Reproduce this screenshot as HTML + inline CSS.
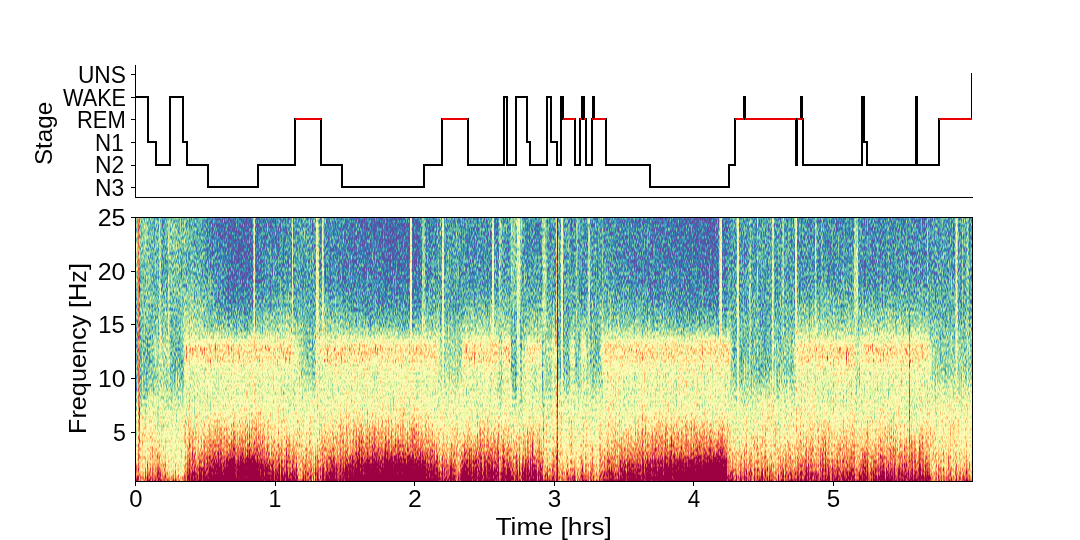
<!DOCTYPE html>
<html><head><meta charset="utf-8"><title>Hypnogram and spectrogram</title>
<style>
html,body{margin:0;padding:0;background:#fff;}
body{width:1080px;height:540px;overflow:hidden;font-family:"Liberation Sans",sans-serif;}
svg{display:block;font-family:"Liberation Sans",sans-serif;font-size:100px;fill:#000;}
</style></head><body>
<svg width="1080" height="540" viewBox="0 0 1080 540">
<rect width="1080" height="540" fill="#fff"/>

<defs><linearGradient id="g0" x2="0" y2="1"><stop offset=".004" stop-color="#4e4c00"/><stop offset=".247" stop-color="#4d5400"/><stop offset=".328" stop-color="#4c5700"/><stop offset=".409" stop-color="#495900"/><stop offset=".539" stop-color="#467200"/><stop offset=".591" stop-color="#477c00"/><stop offset=".652" stop-color="#4e8f00"/><stop offset=".713" stop-color="#5fa700"/><stop offset=".754" stop-color="#6cb700"/><stop offset=".794" stop-color="#72c800"/><stop offset=".855" stop-color="#78e100"/><stop offset=".887" stop-color="#7def00"/><stop offset=".920" stop-color="#86f500"/><stop offset=".944" stop-color="#8ff900"/><stop offset=".968" stop-color="#9bfc00"/><stop offset=".994" stop-color="#b0ff00"/></linearGradient>
<linearGradient id="g1" x2="0" y2="1"><stop offset=".004" stop-color="#a34c00"/><stop offset=".409" stop-color="#a35900"/><stop offset=".591" stop-color="#a37c00"/><stop offset=".713" stop-color="#a3a700"/><stop offset=".904" stop-color="#a4f300"/><stop offset=".968" stop-color="#a5fc00"/><stop offset=".994" stop-color="#b0ff00"/></linearGradient>
<linearGradient id="g2" x2="0" y2="1"><stop offset=".004" stop-color="#4c4c00"/><stop offset=".328" stop-color="#4b5700"/><stop offset=".409" stop-color="#495900"/><stop offset=".539" stop-color="#487207"/><stop offset=".591" stop-color="#497c00"/><stop offset=".652" stop-color="#508f00"/><stop offset=".754" stop-color="#6cb700"/><stop offset=".794" stop-color="#73c800"/><stop offset=".855" stop-color="#7ae100"/><stop offset=".887" stop-color="#7fef00"/><stop offset=".920" stop-color="#88f500"/><stop offset=".944" stop-color="#90f900"/><stop offset=".968" stop-color="#9dfc00"/><stop offset=".994" stop-color="#b1ff00"/></linearGradient>
<linearGradient id="g3" x2="0" y2="1"><stop offset=".004" stop-color="#484c00"/><stop offset=".409" stop-color="#495900"/><stop offset=".462" stop-color="#4a6308"/><stop offset=".482" stop-color="#4b6714"/><stop offset=".539" stop-color="#4b7214"/><stop offset=".591" stop-color="#4c7c00"/><stop offset=".652" stop-color="#538f00"/><stop offset=".754" stop-color="#6eb700"/><stop offset=".855" stop-color="#7ce100"/><stop offset=".887" stop-color="#81ef00"/><stop offset=".920" stop-color="#8bf500"/><stop offset=".944" stop-color="#93f900"/><stop offset=".968" stop-color="#9ffc00"/><stop offset=".994" stop-color="#b2ff00"/></linearGradient>
<linearGradient id="g4" x2="0" y2="1"><stop offset=".004" stop-color="#464c00"/><stop offset=".328" stop-color="#485700"/><stop offset=".409" stop-color="#4a5900"/><stop offset=".437" stop-color="#4a5f00"/><stop offset=".482" stop-color="#4e671e"/><stop offset=".539" stop-color="#4d721e"/><stop offset=".563" stop-color="#4d760c"/><stop offset=".591" stop-color="#4e7c00"/><stop offset=".652" stop-color="#558f00"/><stop offset=".754" stop-color="#6eb700"/><stop offset=".855" stop-color="#7de100"/><stop offset=".887" stop-color="#83ef00"/><stop offset=".920" stop-color="#8cf500"/><stop offset=".944" stop-color="#95f900"/><stop offset=".968" stop-color="#a1fc00"/><stop offset=".994" stop-color="#b3ff00"/></linearGradient>
<linearGradient id="g5" x2="0" y2="1"><stop offset=".004" stop-color="#464c00"/><stop offset=".247" stop-color="#475400"/><stop offset=".409" stop-color="#4a5900"/><stop offset=".437" stop-color="#4b5f00"/><stop offset=".462" stop-color="#4d6310"/><stop offset=".482" stop-color="#4f6727"/><stop offset=".510" stop-color="#506c27"/><stop offset=".539" stop-color="#4f7227"/><stop offset=".563" stop-color="#4e7610"/><stop offset=".591" stop-color="#4f7c00"/><stop offset=".652" stop-color="#568f00"/><stop offset=".754" stop-color="#6eb700"/><stop offset=".855" stop-color="#7ee100"/><stop offset=".887" stop-color="#83ef00"/><stop offset=".920" stop-color="#8df500"/><stop offset=".944" stop-color="#95f900"/><stop offset=".968" stop-color="#a2fc00"/><stop offset=".994" stop-color="#b3ff00"/></linearGradient>
<linearGradient id="g6" x2="0" y2="1"><stop offset=".004" stop-color="#454c00"/><stop offset=".247" stop-color="#465400"/><stop offset=".409" stop-color="#4b5900"/><stop offset=".437" stop-color="#4c5f00"/><stop offset=".462" stop-color="#4e6313"/><stop offset=".482" stop-color="#516730"/><stop offset=".510" stop-color="#526c30"/><stop offset=".539" stop-color="#517230"/><stop offset=".563" stop-color="#507613"/><stop offset=".591" stop-color="#507c00"/><stop offset=".652" stop-color="#568f00"/><stop offset=".754" stop-color="#6fb700"/><stop offset=".855" stop-color="#7ee100"/><stop offset=".887" stop-color="#84ef00"/><stop offset=".920" stop-color="#8ef500"/><stop offset=".944" stop-color="#96f900"/><stop offset=".968" stop-color="#a3fc00"/><stop offset=".994" stop-color="#b4ff00"/></linearGradient>
<linearGradient id="g7" x2="0" y2="1"><stop offset=".004" stop-color="#454c00"/><stop offset=".247" stop-color="#465400"/><stop offset=".409" stop-color="#4b5900"/><stop offset=".437" stop-color="#4d5f00"/><stop offset=".462" stop-color="#4f6316"/><stop offset=".482" stop-color="#536738"/><stop offset=".510" stop-color="#546c38"/><stop offset=".539" stop-color="#537238"/><stop offset=".563" stop-color="#517616"/><stop offset=".591" stop-color="#517c00"/><stop offset=".652" stop-color="#578f00"/><stop offset=".754" stop-color="#6fb700"/><stop offset=".855" stop-color="#7fe100"/><stop offset=".887" stop-color="#85ef00"/><stop offset=".920" stop-color="#8ef500"/><stop offset=".944" stop-color="#97f900"/><stop offset=".968" stop-color="#a3fc00"/><stop offset=".994" stop-color="#b5ff00"/></linearGradient>
<linearGradient id="g8" x2="0" y2="1"><stop offset=".004" stop-color="#444c00"/><stop offset=".247" stop-color="#465400"/><stop offset=".409" stop-color="#4c5900"/><stop offset=".437" stop-color="#4d5f00"/><stop offset=".462" stop-color="#50631a"/><stop offset=".482" stop-color="#556741"/><stop offset=".510" stop-color="#566c41"/><stop offset=".539" stop-color="#547241"/><stop offset=".563" stop-color="#52761a"/><stop offset=".591" stop-color="#527c00"/><stop offset=".652" stop-color="#588f00"/><stop offset=".754" stop-color="#6fb700"/><stop offset=".855" stop-color="#7fe100"/><stop offset=".887" stop-color="#85ef00"/><stop offset=".920" stop-color="#8ff500"/><stop offset=".944" stop-color="#98f900"/><stop offset=".968" stop-color="#a4fc00"/><stop offset=".994" stop-color="#b5ff00"/></linearGradient>
<linearGradient id="g9" x2="0" y2="1"><stop offset=".004" stop-color="#444c00"/><stop offset=".247" stop-color="#455400"/><stop offset=".368" stop-color="#4a5800"/><stop offset=".409" stop-color="#4c5900"/><stop offset=".437" stop-color="#4e5f00"/><stop offset=".462" stop-color="#52631f"/><stop offset=".482" stop-color="#57674d"/><stop offset=".510" stop-color="#596c4d"/><stop offset=".539" stop-color="#57724d"/><stop offset=".563" stop-color="#54761f"/><stop offset=".591" stop-color="#547c00"/><stop offset=".652" stop-color="#598f00"/><stop offset=".754" stop-color="#6fb700"/><stop offset=".855" stop-color="#80e100"/><stop offset=".887" stop-color="#86ef00"/><stop offset=".920" stop-color="#90f500"/><stop offset=".944" stop-color="#99f900"/><stop offset=".968" stop-color="#a5fc00"/><stop offset=".994" stop-color="#b6ff00"/></linearGradient>
<linearGradient id="g10" x2="0" y2="1"><stop offset=".004" stop-color="#434c00"/><stop offset=".247" stop-color="#455400"/><stop offset=".368" stop-color="#4a5800"/><stop offset=".409" stop-color="#4d5900"/><stop offset=".437" stop-color="#4f5f00"/><stop offset=".462" stop-color="#536321"/><stop offset=".482" stop-color="#596753"/><stop offset=".510" stop-color="#5a6c53"/><stop offset=".539" stop-color="#587253"/><stop offset=".563" stop-color="#557621"/><stop offset=".591" stop-color="#557c00"/><stop offset=".652" stop-color="#5a8f00"/><stop offset=".754" stop-color="#6fb700"/><stop offset=".855" stop-color="#80e100"/><stop offset=".887" stop-color="#87ef00"/><stop offset=".920" stop-color="#91f500"/><stop offset=".944" stop-color="#99f900"/><stop offset=".968" stop-color="#a6fc00"/><stop offset=".994" stop-color="#b7ff00"/></linearGradient>
<linearGradient id="g11" x2="0" y2="1"><stop offset=".004" stop-color="#594c00"/><stop offset=".247" stop-color="#595400"/><stop offset=".409" stop-color="#5d5900"/><stop offset=".437" stop-color="#5e5f00"/><stop offset=".462" stop-color="#60630f"/><stop offset=".482" stop-color="#626725"/><stop offset=".510" stop-color="#636c25"/><stop offset=".539" stop-color="#627225"/><stop offset=".563" stop-color="#61760f"/><stop offset=".591" stop-color="#617c00"/><stop offset=".652" stop-color="#628f00"/><stop offset=".713" stop-color="#68a700"/><stop offset=".794" stop-color="#77c800"/><stop offset=".855" stop-color="#81e100"/><stop offset=".887" stop-color="#87ef00"/><stop offset=".920" stop-color="#91f500"/><stop offset=".944" stop-color="#9af900"/><stop offset=".968" stop-color="#a7fc00"/><stop offset=".994" stop-color="#b7ff00"/></linearGradient>
<linearGradient id="g12" x2="0" y2="1"><stop offset=".004" stop-color="#424c00"/><stop offset=".247" stop-color="#445400"/><stop offset=".368" stop-color="#4a5800"/><stop offset=".409" stop-color="#4d5900"/><stop offset=".437" stop-color="#4f5f00"/><stop offset=".462" stop-color="#546324"/><stop offset=".482" stop-color="#5a675b"/><stop offset=".510" stop-color="#5c6c5b"/><stop offset=".539" stop-color="#5a725b"/><stop offset=".563" stop-color="#577624"/><stop offset=".591" stop-color="#567c00"/><stop offset=".652" stop-color="#5a8f00"/><stop offset=".713" stop-color="#66a700"/><stop offset=".754" stop-color="#70b700"/><stop offset=".855" stop-color="#80e100"/><stop offset=".887" stop-color="#86ef00"/><stop offset=".920" stop-color="#8ff500"/><stop offset=".944" stop-color="#98f900"/><stop offset=".968" stop-color="#a5fc00"/><stop offset=".994" stop-color="#b6ff00"/></linearGradient>
<linearGradient id="g13" x2="0" y2="1"><stop offset=".004" stop-color="#424c00"/><stop offset=".247" stop-color="#445400"/><stop offset=".328" stop-color="#485700"/><stop offset=".409" stop-color="#4d5900"/><stop offset=".437" stop-color="#505f00"/><stop offset=".462" stop-color="#546325"/><stop offset=".482" stop-color="#5b675d"/><stop offset=".510" stop-color="#5c6c5d"/><stop offset=".539" stop-color="#5a725d"/><stop offset=".563" stop-color="#577625"/><stop offset=".591" stop-color="#567c00"/><stop offset=".652" stop-color="#5b8f00"/><stop offset=".713" stop-color="#67a700"/><stop offset=".754" stop-color="#70b700"/><stop offset=".855" stop-color="#7ee100"/><stop offset=".887" stop-color="#83ef00"/><stop offset=".920" stop-color="#8cf500"/><stop offset=".944" stop-color="#94f900"/><stop offset=".968" stop-color="#a1fc00"/><stop offset=".994" stop-color="#b3ff00"/></linearGradient>
<linearGradient id="g14" x2="0" y2="1"><stop offset=".004" stop-color="#424c00"/><stop offset=".247" stop-color="#445400"/><stop offset=".328" stop-color="#485700"/><stop offset=".409" stop-color="#4d5900"/><stop offset=".437" stop-color="#505f00"/><stop offset=".462" stop-color="#546326"/><stop offset=".482" stop-color="#5b675f"/><stop offset=".510" stop-color="#5d6c5f"/><stop offset=".539" stop-color="#5b725f"/><stop offset=".563" stop-color="#577626"/><stop offset=".591" stop-color="#577c00"/><stop offset=".652" stop-color="#5b8f00"/><stop offset=".713" stop-color="#67a700"/><stop offset=".754" stop-color="#70b700"/><stop offset=".855" stop-color="#7ce100"/><stop offset=".887" stop-color="#81ef00"/><stop offset=".920" stop-color="#89f500"/><stop offset=".944" stop-color="#91f900"/><stop offset=".968" stop-color="#9efc00"/><stop offset=".994" stop-color="#b1ff00"/></linearGradient>
<linearGradient id="g15" x2="0" y2="1"><stop offset=".004" stop-color="#424c00"/><stop offset=".247" stop-color="#445400"/><stop offset=".328" stop-color="#485700"/><stop offset=".409" stop-color="#4d5900"/><stop offset=".437" stop-color="#505f00"/><stop offset=".462" stop-color="#556327"/><stop offset=".482" stop-color="#5c6761"/><stop offset=".510" stop-color="#5d6c61"/><stop offset=".539" stop-color="#5b7261"/><stop offset=".563" stop-color="#587627"/><stop offset=".591" stop-color="#577c00"/><stop offset=".652" stop-color="#5b8f00"/><stop offset=".713" stop-color="#67a700"/><stop offset=".754" stop-color="#70b700"/><stop offset=".855" stop-color="#7ae100"/><stop offset=".887" stop-color="#7eef00"/><stop offset=".920" stop-color="#86f500"/><stop offset=".944" stop-color="#8df900"/><stop offset=".968" stop-color="#9afc00"/><stop offset=".994" stop-color="#aeff00"/></linearGradient>
<linearGradient id="g16" x2="0" y2="1"><stop offset=".004" stop-color="#424c00"/><stop offset=".247" stop-color="#445400"/><stop offset=".328" stop-color="#485700"/><stop offset=".409" stop-color="#4d5900"/><stop offset=".437" stop-color="#505f00"/><stop offset=".462" stop-color="#556328"/><stop offset=".482" stop-color="#5c6763"/><stop offset=".510" stop-color="#5e6c63"/><stop offset=".539" stop-color="#5c7263"/><stop offset=".563" stop-color="#587628"/><stop offset=".591" stop-color="#577c00"/><stop offset=".652" stop-color="#5b8f00"/><stop offset=".713" stop-color="#67a700"/><stop offset=".754" stop-color="#70b700"/><stop offset=".855" stop-color="#78e100"/><stop offset=".887" stop-color="#7cef00"/><stop offset=".920" stop-color="#83f500"/><stop offset=".944" stop-color="#8af900"/><stop offset=".968" stop-color="#97fc00"/><stop offset=".994" stop-color="#acff00"/></linearGradient>
<linearGradient id="g17" x2="0" y2="1"><stop offset=".004" stop-color="#424c00"/><stop offset=".247" stop-color="#445400"/><stop offset=".328" stop-color="#475700"/><stop offset=".409" stop-color="#4d5900"/><stop offset=".437" stop-color="#505f00"/><stop offset=".462" stop-color="#556329"/><stop offset=".482" stop-color="#5d6765"/><stop offset=".510" stop-color="#5e6c65"/><stop offset=".539" stop-color="#5c7265"/><stop offset=".563" stop-color="#597629"/><stop offset=".591" stop-color="#587c00"/><stop offset=".652" stop-color="#5c8f00"/><stop offset=".713" stop-color="#67a700"/><stop offset=".754" stop-color="#70b700"/><stop offset=".887" stop-color="#7aef00"/><stop offset=".920" stop-color="#80f500"/><stop offset=".944" stop-color="#86f900"/><stop offset=".968" stop-color="#93fc00"/><stop offset=".994" stop-color="#a9ff00"/></linearGradient>
<linearGradient id="g18" x2="0" y2="1"><stop offset=".004" stop-color="#434c00"/><stop offset=".247" stop-color="#455400"/><stop offset=".368" stop-color="#4a5800"/><stop offset=".409" stop-color="#4d5900"/><stop offset=".437" stop-color="#4f5f00"/><stop offset=".462" stop-color="#536323"/><stop offset=".482" stop-color="#5a6758"/><stop offset=".510" stop-color="#5b6c58"/><stop offset=".539" stop-color="#597258"/><stop offset=".563" stop-color="#567623"/><stop offset=".591" stop-color="#567c00"/><stop offset=".652" stop-color="#5a8f00"/><stop offset=".713" stop-color="#66a700"/><stop offset=".754" stop-color="#6fb700"/><stop offset=".827" stop-color="#74d500"/><stop offset=".887" stop-color="#78ef00"/><stop offset=".920" stop-color="#7ef500"/><stop offset=".944" stop-color="#84f900"/><stop offset=".968" stop-color="#91fc00"/><stop offset=".994" stop-color="#a7ff00"/></linearGradient>
<linearGradient id="g19" x2="0" y2="1"><stop offset=".004" stop-color="#5d4c00"/><stop offset=".328" stop-color="#5f5700"/><stop offset=".409" stop-color="#605900"/><stop offset=".462" stop-color="#616308"/><stop offset=".482" stop-color="#636715"/><stop offset=".539" stop-color="#637215"/><stop offset=".591" stop-color="#627c00"/><stop offset=".652" stop-color="#638f00"/><stop offset=".713" stop-color="#68a700"/><stop offset=".754" stop-color="#6fb700"/><stop offset=".827" stop-color="#73d500"/><stop offset=".887" stop-color="#76ef00"/><stop offset=".920" stop-color="#7cf500"/><stop offset=".944" stop-color="#82f900"/><stop offset=".968" stop-color="#8efc00"/><stop offset=".994" stop-color="#a6ff00"/></linearGradient>
<linearGradient id="g20" x2="0" y2="1"><stop offset=".004" stop-color="#524c00"/><stop offset=".328" stop-color="#545700"/><stop offset=".409" stop-color="#555900"/><stop offset=".437" stop-color="#565f00"/><stop offset=".482" stop-color="#59671d"/><stop offset=".539" stop-color="#59721d"/><stop offset=".591" stop-color="#587c00"/><stop offset=".652" stop-color="#5c8f00"/><stop offset=".713" stop-color="#66a700"/><stop offset=".754" stop-color="#6eb700"/><stop offset=".794" stop-color="#70c800"/><stop offset=".855" stop-color="#72e100"/><stop offset=".887" stop-color="#73ef00"/><stop offset=".920" stop-color="#79f500"/><stop offset=".944" stop-color="#7ff900"/><stop offset=".968" stop-color="#8cfc00"/><stop offset=".994" stop-color="#a4ff00"/></linearGradient>
<linearGradient id="g21" x2="0" y2="1"><stop offset=".004" stop-color="#494c00"/><stop offset=".368" stop-color="#495800"/><stop offset=".409" stop-color="#495900"/><stop offset=".539" stop-color="#49720b"/><stop offset=".591" stop-color="#4a7c00"/><stop offset=".652" stop-color="#518f00"/><stop offset=".754" stop-color="#6db700"/><stop offset=".794" stop-color="#6fc800"/><stop offset=".887" stop-color="#70ef00"/><stop offset=".920" stop-color="#76f500"/><stop offset=".944" stop-color="#7bf900"/><stop offset=".968" stop-color="#88fc00"/><stop offset=".994" stop-color="#a1ff00"/></linearGradient>
<linearGradient id="g22" x2="0" y2="1"><stop offset=".004" stop-color="#4a4c00"/><stop offset=".328" stop-color="#4a5700"/><stop offset=".409" stop-color="#485900"/><stop offset=".539" stop-color="#477200"/><stop offset=".591" stop-color="#497c00"/><stop offset=".652" stop-color="#518f00"/><stop offset=".754" stop-color="#6db700"/><stop offset=".794" stop-color="#6fc800"/><stop offset=".887" stop-color="#70ef00"/><stop offset=".920" stop-color="#75f500"/><stop offset=".944" stop-color="#7bf900"/><stop offset=".968" stop-color="#87fc00"/><stop offset=".994" stop-color="#a0ff00"/></linearGradient>
<linearGradient id="g23" x2="0" y2="1"><stop offset=".004" stop-color="#494c00"/><stop offset=".368" stop-color="#495800"/><stop offset=".409" stop-color="#485900"/><stop offset=".539" stop-color="#477200"/><stop offset=".591" stop-color="#497c00"/><stop offset=".652" stop-color="#518f00"/><stop offset=".754" stop-color="#6db700"/><stop offset=".794" stop-color="#6fc800"/><stop offset=".887" stop-color="#70ef00"/><stop offset=".920" stop-color="#76f500"/><stop offset=".944" stop-color="#7bf900"/><stop offset=".968" stop-color="#87fc00"/><stop offset=".994" stop-color="#a0ff00"/></linearGradient>
<linearGradient id="g24" x2="0" y2="1"><stop offset=".004" stop-color="#484c00"/><stop offset=".247" stop-color="#4a5400"/><stop offset=".409" stop-color="#4f5900"/><stop offset=".437" stop-color="#4f5f00"/><stop offset=".462" stop-color="#52631f"/><stop offset=".482" stop-color="#57674d"/><stop offset=".510" stop-color="#596c4d"/><stop offset=".539" stop-color="#57724d"/><stop offset=".563" stop-color="#54761f"/><stop offset=".591" stop-color="#547c00"/><stop offset=".652" stop-color="#598f00"/><stop offset=".754" stop-color="#6fb700"/><stop offset=".887" stop-color="#7bef00"/><stop offset=".920" stop-color="#83f500"/><stop offset=".944" stop-color="#89f900"/><stop offset=".968" stop-color="#96fc00"/><stop offset=".994" stop-color="#abff00"/></linearGradient>
<linearGradient id="g25" x2="0" y2="1"><stop offset=".004" stop-color="#484c00"/><stop offset=".247" stop-color="#4b5400"/><stop offset=".368" stop-color="#555800"/><stop offset=".409" stop-color="#575900"/><stop offset=".437" stop-color="#595f00"/><stop offset=".462" stop-color="#606348"/><stop offset=".482" stop-color="#6d67b3"/><stop offset=".510" stop-color="#706cb3"/><stop offset=".539" stop-color="#6c72b3"/><stop offset=".563" stop-color="#657648"/><stop offset=".591" stop-color="#637c00"/><stop offset=".652" stop-color="#638f00"/><stop offset=".713" stop-color="#6aa700"/><stop offset=".855" stop-color="#83e100"/><stop offset=".887" stop-color="#8aef00"/><stop offset=".920" stop-color="#93f500"/><stop offset=".944" stop-color="#9cf900"/><stop offset=".968" stop-color="#a9fc00"/><stop offset=".994" stop-color="#baff00"/></linearGradient>
<linearGradient id="g26" x2="0" y2="1"><stop offset=".004" stop-color="#474c00"/><stop offset=".125" stop-color="#485000"/><stop offset=".247" stop-color="#4b5400"/><stop offset=".368" stop-color="#5a5800"/><stop offset=".409" stop-color="#5d5900"/><stop offset=".437" stop-color="#605f00"/><stop offset=".462" stop-color="#6a6366"/><stop offset=".482" stop-color="#7d67fe"/><stop offset=".510" stop-color="#826cfe"/><stop offset=".539" stop-color="#7c72fe"/><stop offset=".563" stop-color="#727666"/><stop offset=".591" stop-color="#6d7c00"/><stop offset=".652" stop-color="#6a8f00"/><stop offset=".713" stop-color="#6da700"/><stop offset=".754" stop-color="#74b700"/><stop offset=".855" stop-color="#8ce100"/><stop offset=".904" stop-color="#9bf300"/><stop offset=".944" stop-color="#aaf900"/><stop offset=".968" stop-color="#b9fc00"/><stop offset=".994" stop-color="#c5ff00"/></linearGradient>
<linearGradient id="g27" x2="0" y2="1"><stop offset=".004" stop-color="#454c00"/><stop offset=".125" stop-color="#465000"/><stop offset=".247" stop-color="#4a5400"/><stop offset=".368" stop-color="#585800"/><stop offset=".409" stop-color="#5c5900"/><stop offset=".437" stop-color="#605f00"/><stop offset=".462" stop-color="#6a6365"/><stop offset=".482" stop-color="#7d67fc"/><stop offset=".510" stop-color="#826cfc"/><stop offset=".539" stop-color="#7c72fc"/><stop offset=".563" stop-color="#727665"/><stop offset=".591" stop-color="#6d7c00"/><stop offset=".652" stop-color="#6a8f00"/><stop offset=".713" stop-color="#6ea700"/><stop offset=".754" stop-color="#74b700"/><stop offset=".855" stop-color="#8de100"/><stop offset=".904" stop-color="#9cf300"/><stop offset=".944" stop-color="#acf900"/><stop offset=".968" stop-color="#bafc00"/><stop offset=".994" stop-color="#c7ff00"/></linearGradient>
<linearGradient id="g28" x2="0" y2="1"><stop offset=".004" stop-color="#434c00"/><stop offset=".125" stop-color="#455000"/><stop offset=".247" stop-color="#485400"/><stop offset=".409" stop-color="#5a5900"/><stop offset=".437" stop-color="#5f5f00"/><stop offset=".462" stop-color="#6a6364"/><stop offset=".482" stop-color="#7d67fa"/><stop offset=".510" stop-color="#826cfa"/><stop offset=".539" stop-color="#7c72fa"/><stop offset=".563" stop-color="#727664"/><stop offset=".591" stop-color="#6e7c00"/><stop offset=".652" stop-color="#6a8f00"/><stop offset=".713" stop-color="#6ea700"/><stop offset=".754" stop-color="#75b700"/><stop offset=".855" stop-color="#8de100"/><stop offset=".887" stop-color="#97ef00"/><stop offset=".920" stop-color="#a4f500"/><stop offset=".944" stop-color="#aef900"/><stop offset=".968" stop-color="#bcfc00"/><stop offset=".994" stop-color="#c8ff00"/></linearGradient>
<linearGradient id="g29" x2="0" y2="1"><stop offset=".004" stop-color="#424c00"/><stop offset=".125" stop-color="#435000"/><stop offset=".247" stop-color="#465400"/><stop offset=".409" stop-color="#595900"/><stop offset=".437" stop-color="#5f5f00"/><stop offset=".462" stop-color="#6a6363"/><stop offset=".482" stop-color="#7d67f8"/><stop offset=".510" stop-color="#826cf8"/><stop offset=".539" stop-color="#7c72f8"/><stop offset=".563" stop-color="#727663"/><stop offset=".591" stop-color="#6e7c00"/><stop offset=".652" stop-color="#6a8f00"/><stop offset=".713" stop-color="#6ea700"/><stop offset=".754" stop-color="#75b700"/><stop offset=".855" stop-color="#8ee100"/><stop offset=".887" stop-color="#98ef00"/><stop offset=".920" stop-color="#a5f500"/><stop offset=".944" stop-color="#b0f900"/><stop offset=".968" stop-color="#befc00"/><stop offset=".994" stop-color="#caff00"/></linearGradient>
<linearGradient id="g30" x2="0" y2="1"><stop offset=".004" stop-color="#404c00"/><stop offset=".125" stop-color="#415000"/><stop offset=".247" stop-color="#455400"/><stop offset=".328" stop-color="#4d5700"/><stop offset=".409" stop-color="#585900"/><stop offset=".437" stop-color="#5e5f00"/><stop offset=".462" stop-color="#6a6362"/><stop offset=".482" stop-color="#7d67f6"/><stop offset=".510" stop-color="#826cf6"/><stop offset=".539" stop-color="#7c72f6"/><stop offset=".563" stop-color="#727662"/><stop offset=".591" stop-color="#6e7c00"/><stop offset=".652" stop-color="#6b8f00"/><stop offset=".713" stop-color="#6ea700"/><stop offset=".754" stop-color="#75b700"/><stop offset=".855" stop-color="#8fe100"/><stop offset=".887" stop-color="#99ef00"/><stop offset=".904" stop-color="#a0f300"/><stop offset=".944" stop-color="#b3f900"/><stop offset=".968" stop-color="#c0fc00"/><stop offset=".994" stop-color="#ccff00"/></linearGradient>
<linearGradient id="g31" x2="0" y2="1"><stop offset=".004" stop-color="#3e4c00"/><stop offset=".125" stop-color="#405000"/><stop offset=".247" stop-color="#435400"/><stop offset=".328" stop-color="#4b5700"/><stop offset=".409" stop-color="#575900"/><stop offset=".437" stop-color="#5d5f00"/><stop offset=".462" stop-color="#6a6361"/><stop offset=".482" stop-color="#7d67f3"/><stop offset=".510" stop-color="#826cf3"/><stop offset=".539" stop-color="#7c72f3"/><stop offset=".563" stop-color="#737661"/><stop offset=".591" stop-color="#6e7c00"/><stop offset=".652" stop-color="#6b8f00"/><stop offset=".713" stop-color="#6ea700"/><stop offset=".754" stop-color="#76b700"/><stop offset=".855" stop-color="#90e100"/><stop offset=".887" stop-color="#9aef00"/><stop offset=".904" stop-color="#a1f300"/><stop offset=".968" stop-color="#c2fc00"/><stop offset=".994" stop-color="#ceff00"/></linearGradient>
<linearGradient id="g32" x2="0" y2="1"><stop offset=".004" stop-color="#3c4c00"/><stop offset=".125" stop-color="#3e5000"/><stop offset=".247" stop-color="#415400"/><stop offset=".328" stop-color="#495700"/><stop offset=".409" stop-color="#555900"/><stop offset=".437" stop-color="#5d5f00"/><stop offset=".462" stop-color="#6a6360"/><stop offset=".482" stop-color="#7d67f0"/><stop offset=".510" stop-color="#826cf0"/><stop offset=".539" stop-color="#7c72f0"/><stop offset=".563" stop-color="#737660"/><stop offset=".591" stop-color="#6e7c00"/><stop offset=".652" stop-color="#6b8f00"/><stop offset=".713" stop-color="#6ea700"/><stop offset=".754" stop-color="#76b700"/><stop offset=".855" stop-color="#91e100"/><stop offset=".887" stop-color="#9bef00"/><stop offset=".904" stop-color="#a3f300"/><stop offset=".968" stop-color="#c5fc00"/><stop offset=".994" stop-color="#d0ff00"/></linearGradient>
<linearGradient id="g33" x2="0" y2="1"><stop offset=".004" stop-color="#3a4c00"/><stop offset=".125" stop-color="#3c5000"/><stop offset=".247" stop-color="#3f5400"/><stop offset=".328" stop-color="#485700"/><stop offset=".409" stop-color="#545900"/><stop offset=".437" stop-color="#5c5f00"/><stop offset=".462" stop-color="#6a635f"/><stop offset=".482" stop-color="#7d67ed"/><stop offset=".510" stop-color="#826ced"/><stop offset=".539" stop-color="#7c72ed"/><stop offset=".563" stop-color="#73765f"/><stop offset=".591" stop-color="#6e7c00"/><stop offset=".652" stop-color="#6b8f00"/><stop offset=".713" stop-color="#6ea700"/><stop offset=".754" stop-color="#76b700"/><stop offset=".855" stop-color="#92e100"/><stop offset=".887" stop-color="#9def00"/><stop offset=".904" stop-color="#a4f300"/><stop offset=".920" stop-color="#aef500"/><stop offset=".968" stop-color="#c7fc00"/><stop offset=".994" stop-color="#d2ff00"/></linearGradient>
<linearGradient id="g34" x2="0" y2="1"><stop offset=".004" stop-color="#394c00"/><stop offset=".125" stop-color="#3a5000"/><stop offset=".247" stop-color="#3d5400"/><stop offset=".328" stop-color="#465700"/><stop offset=".409" stop-color="#535900"/><stop offset=".437" stop-color="#5b5f00"/><stop offset=".462" stop-color="#6a635e"/><stop offset=".482" stop-color="#7d67ea"/><stop offset=".510" stop-color="#826cea"/><stop offset=".539" stop-color="#7c72ea"/><stop offset=".563" stop-color="#73765e"/><stop offset=".591" stop-color="#6e7c00"/><stop offset=".652" stop-color="#6b8f00"/><stop offset=".713" stop-color="#6fa700"/><stop offset=".754" stop-color="#77b700"/><stop offset=".855" stop-color="#93e100"/><stop offset=".887" stop-color="#9eef00"/><stop offset=".904" stop-color="#a6f300"/><stop offset=".920" stop-color="#b0f500"/><stop offset=".968" stop-color="#cafc00"/><stop offset=".994" stop-color="#d4ff00"/></linearGradient>
<linearGradient id="g35" x2="0" y2="1"><stop offset=".004" stop-color="#374c00"/><stop offset=".125" stop-color="#385000"/><stop offset=".247" stop-color="#3b5400"/><stop offset=".328" stop-color="#445700"/><stop offset=".409" stop-color="#515900"/><stop offset=".437" stop-color="#5b5f00"/><stop offset=".462" stop-color="#6a635d"/><stop offset=".482" stop-color="#7d67e8"/><stop offset=".510" stop-color="#826ce8"/><stop offset=".539" stop-color="#7c72e8"/><stop offset=".563" stop-color="#73765d"/><stop offset=".591" stop-color="#6e7c00"/><stop offset=".652" stop-color="#6b8f00"/><stop offset=".713" stop-color="#6fa700"/><stop offset=".754" stop-color="#77b700"/><stop offset=".855" stop-color="#94e100"/><stop offset=".887" stop-color="#9fef00"/><stop offset=".904" stop-color="#a7f300"/><stop offset=".920" stop-color="#b2f500"/><stop offset=".944" stop-color="#c0f900"/><stop offset=".968" stop-color="#ccfc00"/><stop offset=".994" stop-color="#d6ff00"/></linearGradient>
<linearGradient id="g36" x2="0" y2="1"><stop offset=".004" stop-color="#354c00"/><stop offset=".125" stop-color="#365000"/><stop offset=".247" stop-color="#395400"/><stop offset=".328" stop-color="#415700"/><stop offset=".368" stop-color="#485800"/><stop offset=".409" stop-color="#505900"/><stop offset=".437" stop-color="#5a5f00"/><stop offset=".462" stop-color="#69635a"/><stop offset=".482" stop-color="#7d67e2"/><stop offset=".510" stop-color="#826ce2"/><stop offset=".539" stop-color="#7c72e2"/><stop offset=".563" stop-color="#73765a"/><stop offset=".591" stop-color="#6e7c00"/><stop offset=".652" stop-color="#6b8f00"/><stop offset=".713" stop-color="#6fa700"/><stop offset=".754" stop-color="#78b700"/><stop offset=".855" stop-color="#95e100"/><stop offset=".887" stop-color="#a0ef00"/><stop offset=".904" stop-color="#a9f300"/><stop offset=".920" stop-color="#b4f500"/><stop offset=".944" stop-color="#c3f900"/><stop offset=".968" stop-color="#cefc00"/><stop offset=".994" stop-color="#d9ff00"/></linearGradient>
<linearGradient id="g37" x2="0" y2="1"><stop offset=".004" stop-color="#334c00"/><stop offset=".125" stop-color="#355000"/><stop offset=".247" stop-color="#385400"/><stop offset=".328" stop-color="#405700"/><stop offset=".368" stop-color="#465800"/><stop offset=".409" stop-color="#4f5900"/><stop offset=".437" stop-color="#5a5f00"/><stop offset=".462" stop-color="#696351"/><stop offset=".482" stop-color="#7d67cc"/><stop offset=".510" stop-color="#826ccc"/><stop offset=".539" stop-color="#7c72cc"/><stop offset=".563" stop-color="#737651"/><stop offset=".591" stop-color="#6e7c00"/><stop offset=".652" stop-color="#6b8f00"/><stop offset=".713" stop-color="#6fa700"/><stop offset=".754" stop-color="#78b700"/><stop offset=".855" stop-color="#96e100"/><stop offset=".887" stop-color="#a1ef00"/><stop offset=".904" stop-color="#aaf300"/><stop offset=".920" stop-color="#b6f500"/><stop offset=".944" stop-color="#c4f900"/><stop offset=".968" stop-color="#d0fc00"/><stop offset=".994" stop-color="#daff00"/></linearGradient>
<linearGradient id="g38" x2="0" y2="1"><stop offset=".004" stop-color="#324c00"/><stop offset=".125" stop-color="#345000"/><stop offset=".247" stop-color="#375400"/><stop offset=".328" stop-color="#3f5700"/><stop offset=".368" stop-color="#465800"/><stop offset=".409" stop-color="#4e5900"/><stop offset=".437" stop-color="#595f00"/><stop offset=".462" stop-color="#69634b"/><stop offset=".482" stop-color="#7d67bb"/><stop offset=".510" stop-color="#826cbb"/><stop offset=".539" stop-color="#7c72bb"/><stop offset=".563" stop-color="#73764b"/><stop offset=".591" stop-color="#6e7c00"/><stop offset=".652" stop-color="#6b8f00"/><stop offset=".713" stop-color="#6fa700"/><stop offset=".754" stop-color="#78b700"/><stop offset=".855" stop-color="#96e100"/><stop offset=".887" stop-color="#a1ef00"/><stop offset=".904" stop-color="#aaf300"/><stop offset=".920" stop-color="#b6f500"/><stop offset=".944" stop-color="#c5f900"/><stop offset=".968" stop-color="#d1fc00"/><stop offset=".994" stop-color="#dbff00"/></linearGradient>
<linearGradient id="g39" x2="0" y2="1"><stop offset=".004" stop-color="#324c00"/><stop offset=".125" stop-color="#335000"/><stop offset=".247" stop-color="#375400"/><stop offset=".328" stop-color="#3e5700"/><stop offset=".368" stop-color="#455800"/><stop offset=".409" stop-color="#4e5900"/><stop offset=".437" stop-color="#595f00"/><stop offset=".462" stop-color="#696344"/><stop offset=".482" stop-color="#7d67ab"/><stop offset=".510" stop-color="#826cab"/><stop offset=".539" stop-color="#7c72ab"/><stop offset=".563" stop-color="#737644"/><stop offset=".591" stop-color="#6e7c00"/><stop offset=".652" stop-color="#6b8f00"/><stop offset=".713" stop-color="#6fa700"/><stop offset=".754" stop-color="#78b700"/><stop offset=".855" stop-color="#96e100"/><stop offset=".887" stop-color="#a2ef00"/><stop offset=".904" stop-color="#abf300"/><stop offset=".920" stop-color="#b7f500"/><stop offset=".944" stop-color="#c6f900"/><stop offset=".968" stop-color="#d1fc00"/><stop offset=".994" stop-color="#dbff00"/></linearGradient>
<linearGradient id="g40" x2="0" y2="1"><stop offset=".004" stop-color="#314c00"/><stop offset=".125" stop-color="#335000"/><stop offset=".247" stop-color="#365400"/><stop offset=".328" stop-color="#3d5700"/><stop offset=".368" stop-color="#445800"/><stop offset=".409" stop-color="#4d5900"/><stop offset=".437" stop-color="#595f00"/><stop offset=".462" stop-color="#69633e"/><stop offset=".482" stop-color="#7d679b"/><stop offset=".510" stop-color="#826c9b"/><stop offset=".539" stop-color="#7c729b"/><stop offset=".563" stop-color="#73763e"/><stop offset=".591" stop-color="#6e7c00"/><stop offset=".652" stop-color="#6b8f00"/><stop offset=".713" stop-color="#6fa700"/><stop offset=".754" stop-color="#78b700"/><stop offset=".855" stop-color="#97e100"/><stop offset=".887" stop-color="#a2ef00"/><stop offset=".904" stop-color="#abf300"/><stop offset=".920" stop-color="#b8f500"/><stop offset=".944" stop-color="#c7f900"/><stop offset=".968" stop-color="#d2fc00"/><stop offset=".994" stop-color="#dcff00"/></linearGradient>
<linearGradient id="g41" x2="0" y2="1"><stop offset=".004" stop-color="#314c00"/><stop offset=".125" stop-color="#325000"/><stop offset=".247" stop-color="#365400"/><stop offset=".328" stop-color="#3d5700"/><stop offset=".368" stop-color="#445800"/><stop offset=".409" stop-color="#4d5900"/><stop offset=".437" stop-color="#595f00"/><stop offset=".462" stop-color="#696338"/><stop offset=".482" stop-color="#7d678b"/><stop offset=".510" stop-color="#826c8b"/><stop offset=".539" stop-color="#7c728b"/><stop offset=".563" stop-color="#737638"/><stop offset=".591" stop-color="#6e7c00"/><stop offset=".652" stop-color="#6b8f00"/><stop offset=".713" stop-color="#6fa700"/><stop offset=".754" stop-color="#79b700"/><stop offset=".855" stop-color="#97e100"/><stop offset=".887" stop-color="#a3ef00"/><stop offset=".904" stop-color="#acf300"/><stop offset=".920" stop-color="#b9f500"/><stop offset=".944" stop-color="#c8f900"/><stop offset=".968" stop-color="#d3fc00"/><stop offset=".994" stop-color="#ddff00"/></linearGradient>
<linearGradient id="g42" x2="0" y2="1"><stop offset=".004" stop-color="#314c00"/><stop offset=".125" stop-color="#325000"/><stop offset=".247" stop-color="#355400"/><stop offset=".328" stop-color="#3d5700"/><stop offset=".368" stop-color="#445800"/><stop offset=".409" stop-color="#4d5900"/><stop offset=".437" stop-color="#595f00"/><stop offset=".462" stop-color="#696331"/><stop offset=".482" stop-color="#7d677b"/><stop offset=".510" stop-color="#826c7b"/><stop offset=".539" stop-color="#7c727b"/><stop offset=".563" stop-color="#737631"/><stop offset=".591" stop-color="#6e7c00"/><stop offset=".652" stop-color="#6b8f00"/><stop offset=".713" stop-color="#6fa700"/><stop offset=".754" stop-color="#79b700"/><stop offset=".855" stop-color="#98e100"/><stop offset=".887" stop-color="#a3ef00"/><stop offset=".904" stop-color="#acf300"/><stop offset=".920" stop-color="#b9f500"/><stop offset=".944" stop-color="#c9f900"/><stop offset=".968" stop-color="#d4fc00"/><stop offset=".994" stop-color="#deff00"/></linearGradient>
<linearGradient id="g43" x2="0" y2="1"><stop offset=".004" stop-color="#304c00"/><stop offset=".125" stop-color="#325000"/><stop offset=".247" stop-color="#355400"/><stop offset=".328" stop-color="#3c5700"/><stop offset=".368" stop-color="#435800"/><stop offset=".409" stop-color="#4c5900"/><stop offset=".437" stop-color="#585f00"/><stop offset=".462" stop-color="#696329"/><stop offset=".482" stop-color="#7d6767"/><stop offset=".510" stop-color="#826c67"/><stop offset=".539" stop-color="#7c7267"/><stop offset=".563" stop-color="#737629"/><stop offset=".591" stop-color="#6e7c00"/><stop offset=".652" stop-color="#6b8f00"/><stop offset=".713" stop-color="#70a700"/><stop offset=".754" stop-color="#79b700"/><stop offset=".855" stop-color="#98e100"/><stop offset=".887" stop-color="#a4ef00"/><stop offset=".904" stop-color="#adf300"/><stop offset=".920" stop-color="#bbf500"/><stop offset=".944" stop-color="#cbf900"/><stop offset=".968" stop-color="#d6fc00"/><stop offset=".994" stop-color="#dfff00"/></linearGradient>
<linearGradient id="g44" x2="0" y2="1"><stop offset=".004" stop-color="#304c00"/><stop offset=".125" stop-color="#315000"/><stop offset=".247" stop-color="#345400"/><stop offset=".328" stop-color="#3c5700"/><stop offset=".368" stop-color="#425800"/><stop offset=".409" stop-color="#4b5900"/><stop offset=".437" stop-color="#585f00"/><stop offset=".462" stop-color="#696327"/><stop offset=".482" stop-color="#7d6762"/><stop offset=".510" stop-color="#826c62"/><stop offset=".539" stop-color="#7c7262"/><stop offset=".563" stop-color="#737627"/><stop offset=".591" stop-color="#6f7c00"/><stop offset=".652" stop-color="#6b8f00"/><stop offset=".713" stop-color="#70a700"/><stop offset=".754" stop-color="#79b700"/><stop offset=".855" stop-color="#99e100"/><stop offset=".887" stop-color="#a5ef00"/><stop offset=".904" stop-color="#aef300"/><stop offset=".920" stop-color="#bcf500"/><stop offset=".944" stop-color="#cdf900"/><stop offset=".968" stop-color="#d8fc00"/><stop offset=".994" stop-color="#e1ff00"/></linearGradient>
<linearGradient id="g45" x2="0" y2="1"><stop offset=".004" stop-color="#2f4c00"/><stop offset=".125" stop-color="#315000"/><stop offset=".247" stop-color="#345400"/><stop offset=".328" stop-color="#3b5700"/><stop offset=".368" stop-color="#425800"/><stop offset=".409" stop-color="#4b5900"/><stop offset=".437" stop-color="#585f00"/><stop offset=".462" stop-color="#696327"/><stop offset=".482" stop-color="#7d6761"/><stop offset=".510" stop-color="#826c61"/><stop offset=".539" stop-color="#7c7261"/><stop offset=".563" stop-color="#737627"/><stop offset=".591" stop-color="#6f7c00"/><stop offset=".652" stop-color="#6b8f00"/><stop offset=".713" stop-color="#70a700"/><stop offset=".754" stop-color="#7ab700"/><stop offset=".855" stop-color="#9ae100"/><stop offset=".887" stop-color="#a6ef00"/><stop offset=".904" stop-color="#b0f300"/><stop offset=".920" stop-color="#bef500"/><stop offset=".944" stop-color="#cff900"/><stop offset=".968" stop-color="#dafc00"/><stop offset=".994" stop-color="#e3ff00"/></linearGradient>
<linearGradient id="g46" x2="0" y2="1"><stop offset=".004" stop-color="#2f4c00"/><stop offset=".125" stop-color="#305000"/><stop offset=".247" stop-color="#335400"/><stop offset=".328" stop-color="#3a5700"/><stop offset=".368" stop-color="#415800"/><stop offset=".409" stop-color="#4a5900"/><stop offset=".437" stop-color="#575f00"/><stop offset=".462" stop-color="#696326"/><stop offset=".482" stop-color="#7d6760"/><stop offset=".510" stop-color="#826c60"/><stop offset=".539" stop-color="#7c7260"/><stop offset=".563" stop-color="#737626"/><stop offset=".591" stop-color="#6f7c00"/><stop offset=".652" stop-color="#6c8f00"/><stop offset=".713" stop-color="#70a700"/><stop offset=".754" stop-color="#7ab700"/><stop offset=".855" stop-color="#9be100"/><stop offset=".887" stop-color="#a7ef00"/><stop offset=".904" stop-color="#b1f300"/><stop offset=".920" stop-color="#c0f500"/><stop offset=".944" stop-color="#d1f900"/><stop offset=".968" stop-color="#dcfc00"/><stop offset=".994" stop-color="#e4ff00"/></linearGradient>
<linearGradient id="g47" x2="0" y2="1"><stop offset=".004" stop-color="#2e4c00"/><stop offset=".125" stop-color="#305000"/><stop offset=".247" stop-color="#335400"/><stop offset=".328" stop-color="#3a5700"/><stop offset=".368" stop-color="#405800"/><stop offset=".409" stop-color="#4a5900"/><stop offset=".437" stop-color="#575f00"/><stop offset=".462" stop-color="#696326"/><stop offset=".482" stop-color="#7d675f"/><stop offset=".510" stop-color="#826c5f"/><stop offset=".539" stop-color="#7c725f"/><stop offset=".563" stop-color="#737626"/><stop offset=".591" stop-color="#6f7c00"/><stop offset=".652" stop-color="#6c8f00"/><stop offset=".713" stop-color="#70a700"/><stop offset=".754" stop-color="#7ab700"/><stop offset=".855" stop-color="#9ce100"/><stop offset=".887" stop-color="#a8ef00"/><stop offset=".904" stop-color="#b2f300"/><stop offset=".920" stop-color="#c2f500"/><stop offset=".944" stop-color="#d3f900"/><stop offset=".968" stop-color="#ddfc00"/><stop offset=".994" stop-color="#e6ff00"/></linearGradient>
<linearGradient id="g48" x2="0" y2="1"><stop offset=".004" stop-color="#2e4c00"/><stop offset=".125" stop-color="#2f5000"/><stop offset=".247" stop-color="#325400"/><stop offset=".328" stop-color="#395700"/><stop offset=".368" stop-color="#405800"/><stop offset=".409" stop-color="#495900"/><stop offset=".437" stop-color="#575f00"/><stop offset=".462" stop-color="#696326"/><stop offset=".482" stop-color="#7d675e"/><stop offset=".510" stop-color="#826c5e"/><stop offset=".539" stop-color="#7c725e"/><stop offset=".563" stop-color="#747626"/><stop offset=".591" stop-color="#6f7c00"/><stop offset=".652" stop-color="#6c8f00"/><stop offset=".713" stop-color="#70a700"/><stop offset=".754" stop-color="#7bb700"/><stop offset=".855" stop-color="#9ce100"/><stop offset=".887" stop-color="#a9ef00"/><stop offset=".904" stop-color="#b3f300"/><stop offset=".920" stop-color="#c3f500"/><stop offset=".944" stop-color="#d5f900"/><stop offset=".968" stop-color="#dffc00"/><stop offset=".994" stop-color="#e8ff00"/></linearGradient>
<linearGradient id="g49" x2="0" y2="1"><stop offset=".004" stop-color="#2d4c00"/><stop offset=".125" stop-color="#2f5000"/><stop offset=".247" stop-color="#325400"/><stop offset=".328" stop-color="#395700"/><stop offset=".368" stop-color="#3f5800"/><stop offset=".409" stop-color="#485900"/><stop offset=".437" stop-color="#565f00"/><stop offset=".462" stop-color="#696325"/><stop offset=".482" stop-color="#7d675d"/><stop offset=".510" stop-color="#826c5d"/><stop offset=".539" stop-color="#7c725d"/><stop offset=".563" stop-color="#747625"/><stop offset=".591" stop-color="#6f7c00"/><stop offset=".652" stop-color="#6c8f00"/><stop offset=".713" stop-color="#70a700"/><stop offset=".754" stop-color="#7bb700"/><stop offset=".855" stop-color="#9de100"/><stop offset=".887" stop-color="#aaef00"/><stop offset=".904" stop-color="#b4f300"/><stop offset=".920" stop-color="#c5f500"/><stop offset=".944" stop-color="#d7f900"/><stop offset=".968" stop-color="#e1fc00"/><stop offset=".994" stop-color="#e9ff00"/></linearGradient>
<linearGradient id="g50" x2="0" y2="1"><stop offset=".004" stop-color="#2d4c00"/><stop offset=".125" stop-color="#2e5000"/><stop offset=".247" stop-color="#325400"/><stop offset=".328" stop-color="#385700"/><stop offset=".368" stop-color="#3e5800"/><stop offset=".409" stop-color="#485900"/><stop offset=".437" stop-color="#565f00"/><stop offset=".462" stop-color="#696325"/><stop offset=".482" stop-color="#7d675c"/><stop offset=".510" stop-color="#826c5c"/><stop offset=".539" stop-color="#7c725c"/><stop offset=".563" stop-color="#747625"/><stop offset=".591" stop-color="#6f7c00"/><stop offset=".652" stop-color="#6c8f00"/><stop offset=".713" stop-color="#70a700"/><stop offset=".754" stop-color="#7bb700"/><stop offset=".855" stop-color="#9ee100"/><stop offset=".887" stop-color="#aaef00"/><stop offset=".904" stop-color="#b5f300"/><stop offset=".920" stop-color="#c6f500"/><stop offset=".944" stop-color="#d9f900"/><stop offset=".968" stop-color="#e3fc00"/><stop offset=".994" stop-color="#ebff00"/></linearGradient>
<linearGradient id="g51" x2="0" y2="1"><stop offset=".004" stop-color="#2d4c00"/><stop offset=".125" stop-color="#2e5000"/><stop offset=".247" stop-color="#315400"/><stop offset=".328" stop-color="#385700"/><stop offset=".368" stop-color="#3e5800"/><stop offset=".409" stop-color="#475900"/><stop offset=".437" stop-color="#565f00"/><stop offset=".462" stop-color="#696325"/><stop offset=".482" stop-color="#7d675c"/><stop offset=".510" stop-color="#826c5c"/><stop offset=".539" stop-color="#7c725c"/><stop offset=".563" stop-color="#747625"/><stop offset=".591" stop-color="#6f7c00"/><stop offset=".652" stop-color="#6c8f00"/><stop offset=".713" stop-color="#71a700"/><stop offset=".754" stop-color="#7cb700"/><stop offset=".855" stop-color="#9ee100"/><stop offset=".887" stop-color="#abef00"/><stop offset=".904" stop-color="#b6f300"/><stop offset=".920" stop-color="#c8f500"/><stop offset=".944" stop-color="#daf900"/><stop offset=".968" stop-color="#e4fc00"/><stop offset=".994" stop-color="#ecff00"/></linearGradient>
<linearGradient id="g52" x2="0" y2="1"><stop offset=".004" stop-color="#2d4c00"/><stop offset=".125" stop-color="#2e5000"/><stop offset=".247" stop-color="#315400"/><stop offset=".328" stop-color="#385700"/><stop offset=".368" stop-color="#3e5800"/><stop offset=".409" stop-color="#475900"/><stop offset=".437" stop-color="#565f00"/><stop offset=".462" stop-color="#696326"/><stop offset=".482" stop-color="#7d675e"/><stop offset=".510" stop-color="#826c5e"/><stop offset=".539" stop-color="#7c725e"/><stop offset=".563" stop-color="#747626"/><stop offset=".591" stop-color="#6f7c00"/><stop offset=".652" stop-color="#6c8f00"/><stop offset=".713" stop-color="#71a700"/><stop offset=".754" stop-color="#7cb700"/><stop offset=".855" stop-color="#9ee100"/><stop offset=".887" stop-color="#abef00"/><stop offset=".904" stop-color="#b6f300"/><stop offset=".920" stop-color="#c8f500"/><stop offset=".944" stop-color="#daf900"/><stop offset=".968" stop-color="#e4fc00"/><stop offset=".994" stop-color="#ecff00"/></linearGradient>
<linearGradient id="g53" x2="0" y2="1"><stop offset=".004" stop-color="#2d4c00"/><stop offset=".125" stop-color="#2e5000"/><stop offset=".247" stop-color="#315400"/><stop offset=".328" stop-color="#385700"/><stop offset=".368" stop-color="#3e5800"/><stop offset=".409" stop-color="#475900"/><stop offset=".437" stop-color="#565f00"/><stop offset=".462" stop-color="#696330"/><stop offset=".482" stop-color="#7d6778"/><stop offset=".510" stop-color="#826c78"/><stop offset=".539" stop-color="#7c7278"/><stop offset=".563" stop-color="#747630"/><stop offset=".591" stop-color="#6f7c00"/><stop offset=".652" stop-color="#6c8f00"/><stop offset=".713" stop-color="#71a700"/><stop offset=".754" stop-color="#7cb700"/><stop offset=".855" stop-color="#9ee100"/><stop offset=".887" stop-color="#abef00"/><stop offset=".904" stop-color="#b6f300"/><stop offset=".920" stop-color="#c8f500"/><stop offset=".944" stop-color="#daf900"/><stop offset=".968" stop-color="#e4fc00"/><stop offset=".994" stop-color="#ecff00"/></linearGradient>
<linearGradient id="g54" x2="0" y2="1"><stop offset=".004" stop-color="#524c00"/><stop offset=".247" stop-color="#545400"/><stop offset=".328" stop-color="#585700"/><stop offset=".368" stop-color="#5b5800"/><stop offset=".409" stop-color="#5f5900"/><stop offset=".437" stop-color="#665f00"/><stop offset=".462" stop-color="#6f631b"/><stop offset=".482" stop-color="#7d6744"/><stop offset=".510" stop-color="#826c44"/><stop offset=".539" stop-color="#7c7244"/><stop offset=".563" stop-color="#75761b"/><stop offset=".591" stop-color="#727c00"/><stop offset=".652" stop-color="#718f00"/><stop offset=".713" stop-color="#73a700"/><stop offset=".754" stop-color="#7cb700"/><stop offset=".855" stop-color="#9ee100"/><stop offset=".887" stop-color="#abef00"/><stop offset=".904" stop-color="#b6f300"/><stop offset=".920" stop-color="#c8f500"/><stop offset=".944" stop-color="#daf900"/><stop offset=".968" stop-color="#e4fc00"/><stop offset=".994" stop-color="#ecff00"/></linearGradient>
<linearGradient id="g55" x2="0" y2="1"><stop offset=".004" stop-color="#754c00"/><stop offset=".409" stop-color="#755900"/><stop offset=".462" stop-color="#756300"/><stop offset=".482" stop-color="#7d6700"/><stop offset=".510" stop-color="#826c00"/><stop offset=".563" stop-color="#757600"/><stop offset=".591" stop-color="#757c00"/><stop offset=".713" stop-color="#75a700"/><stop offset=".754" stop-color="#7cb700"/><stop offset=".855" stop-color="#9ee100"/><stop offset=".887" stop-color="#abef00"/><stop offset=".904" stop-color="#b6f300"/><stop offset=".920" stop-color="#c7f500"/><stop offset=".944" stop-color="#daf900"/><stop offset=".968" stop-color="#e4fc00"/><stop offset=".994" stop-color="#ecff00"/></linearGradient>
<linearGradient id="g56" x2="0" y2="1"><stop offset=".004" stop-color="#2d4c00"/><stop offset=".125" stop-color="#2f5000"/><stop offset=".247" stop-color="#325400"/><stop offset=".328" stop-color="#395700"/><stop offset=".368" stop-color="#3f5800"/><stop offset=".409" stop-color="#485900"/><stop offset=".437" stop-color="#565f00"/><stop offset=".462" stop-color="#696345"/><stop offset=".482" stop-color="#7d67ac"/><stop offset=".510" stop-color="#826cac"/><stop offset=".539" stop-color="#7c72ac"/><stop offset=".563" stop-color="#747645"/><stop offset=".591" stop-color="#6f7c00"/><stop offset=".652" stop-color="#6c8f00"/><stop offset=".713" stop-color="#70a700"/><stop offset=".754" stop-color="#7bb700"/><stop offset=".855" stop-color="#9de100"/><stop offset=".887" stop-color="#a9ef00"/><stop offset=".904" stop-color="#b4f300"/><stop offset=".920" stop-color="#c5f500"/><stop offset=".944" stop-color="#d7f900"/><stop offset=".968" stop-color="#e1fc00"/><stop offset=".994" stop-color="#e9ff00"/></linearGradient>
<linearGradient id="g57" x2="0" y2="1"><stop offset=".004" stop-color="#2e4c00"/><stop offset=".125" stop-color="#305000"/><stop offset=".247" stop-color="#335400"/><stop offset=".328" stop-color="#3a5700"/><stop offset=".368" stop-color="#405800"/><stop offset=".409" stop-color="#495900"/><stop offset=".437" stop-color="#575f00"/><stop offset=".462" stop-color="#69634c"/><stop offset=".482" stop-color="#7d67bd"/><stop offset=".510" stop-color="#826cbd"/><stop offset=".539" stop-color="#7c72bd"/><stop offset=".563" stop-color="#73764c"/><stop offset=".591" stop-color="#6f7c00"/><stop offset=".652" stop-color="#6c8f00"/><stop offset=".713" stop-color="#70a700"/><stop offset=".754" stop-color="#7bb700"/><stop offset=".855" stop-color="#9ce100"/><stop offset=".887" stop-color="#a8ef00"/><stop offset=".904" stop-color="#b2f300"/><stop offset=".920" stop-color="#c2f500"/><stop offset=".944" stop-color="#d4f900"/><stop offset=".968" stop-color="#defc00"/><stop offset=".994" stop-color="#e6ff00"/></linearGradient>
<linearGradient id="g58" x2="0" y2="1"><stop offset=".004" stop-color="#2f4c00"/><stop offset=".125" stop-color="#305000"/><stop offset=".247" stop-color="#345400"/><stop offset=".328" stop-color="#3b5700"/><stop offset=".368" stop-color="#415800"/><stop offset=".409" stop-color="#4a5900"/><stop offset=".437" stop-color="#575f00"/><stop offset=".462" stop-color="#696353"/><stop offset=".482" stop-color="#7d67cf"/><stop offset=".510" stop-color="#826ccf"/><stop offset=".539" stop-color="#7c72cf"/><stop offset=".563" stop-color="#737653"/><stop offset=".591" stop-color="#6f7c00"/><stop offset=".652" stop-color="#6b8f00"/><stop offset=".713" stop-color="#70a700"/><stop offset=".754" stop-color="#7ab700"/><stop offset=".855" stop-color="#9ae100"/><stop offset=".887" stop-color="#a6ef00"/><stop offset=".904" stop-color="#b0f300"/><stop offset=".920" stop-color="#bff500"/><stop offset=".944" stop-color="#d0f900"/><stop offset=".968" stop-color="#dbfc00"/><stop offset=".994" stop-color="#e4ff00"/></linearGradient>
<linearGradient id="g59" x2="0" y2="1"><stop offset=".004" stop-color="#304c00"/><stop offset=".125" stop-color="#315000"/><stop offset=".247" stop-color="#345400"/><stop offset=".328" stop-color="#3c5700"/><stop offset=".368" stop-color="#425800"/><stop offset=".409" stop-color="#4b5900"/><stop offset=".437" stop-color="#585f00"/><stop offset=".462" stop-color="#696357"/><stop offset=".482" stop-color="#7d67da"/><stop offset=".510" stop-color="#826cda"/><stop offset=".539" stop-color="#7c72da"/><stop offset=".563" stop-color="#737657"/><stop offset=".591" stop-color="#6f7c00"/><stop offset=".652" stop-color="#6b8f00"/><stop offset=".713" stop-color="#70a700"/><stop offset=".754" stop-color="#79b700"/><stop offset=".855" stop-color="#99e100"/><stop offset=".887" stop-color="#a5ef00"/><stop offset=".904" stop-color="#aef300"/><stop offset=".920" stop-color="#bdf500"/><stop offset=".944" stop-color="#cdf900"/><stop offset=".968" stop-color="#d8fc00"/><stop offset=".994" stop-color="#e1ff00"/></linearGradient>
<linearGradient id="g60" x2="0" y2="1"><stop offset=".004" stop-color="#304c00"/><stop offset=".125" stop-color="#325000"/><stop offset=".247" stop-color="#355400"/><stop offset=".328" stop-color="#3d5700"/><stop offset=".368" stop-color="#435800"/><stop offset=".409" stop-color="#4c5900"/><stop offset=".437" stop-color="#585f00"/><stop offset=".462" stop-color="#696359"/><stop offset=".482" stop-color="#7d67dd"/><stop offset=".510" stop-color="#826cdd"/><stop offset=".539" stop-color="#7c72dd"/><stop offset=".563" stop-color="#737659"/><stop offset=".591" stop-color="#6e7c00"/><stop offset=".652" stop-color="#6b8f00"/><stop offset=".713" stop-color="#6fa700"/><stop offset=".754" stop-color="#79b700"/><stop offset=".855" stop-color="#98e100"/><stop offset=".887" stop-color="#a3ef00"/><stop offset=".904" stop-color="#adf300"/><stop offset=".920" stop-color="#baf500"/><stop offset=".944" stop-color="#caf900"/><stop offset=".968" stop-color="#d5fc00"/><stop offset=".994" stop-color="#deff00"/></linearGradient>
<linearGradient id="g61" x2="0" y2="1"><stop offset=".004" stop-color="#314c00"/><stop offset=".125" stop-color="#335000"/><stop offset=".247" stop-color="#365400"/><stop offset=".328" stop-color="#3e5700"/><stop offset=".368" stop-color="#455800"/><stop offset=".409" stop-color="#4d5900"/><stop offset=".437" stop-color="#595f00"/><stop offset=".462" stop-color="#69635a"/><stop offset=".482" stop-color="#7d67e2"/><stop offset=".510" stop-color="#826ce2"/><stop offset=".539" stop-color="#7c72e2"/><stop offset=".563" stop-color="#73765a"/><stop offset=".591" stop-color="#6e7c00"/><stop offset=".652" stop-color="#6b8f00"/><stop offset=".713" stop-color="#6fa700"/><stop offset=".754" stop-color="#78b700"/><stop offset=".855" stop-color="#96e100"/><stop offset=".887" stop-color="#a2ef00"/><stop offset=".904" stop-color="#aaf300"/><stop offset=".920" stop-color="#b7f500"/><stop offset=".944" stop-color="#c6f900"/><stop offset=".968" stop-color="#d1fc00"/><stop offset=".994" stop-color="#dbff00"/></linearGradient>
<linearGradient id="g62" x2="0" y2="1"><stop offset=".004" stop-color="#324c00"/><stop offset=".125" stop-color="#345000"/><stop offset=".247" stop-color="#375400"/><stop offset=".328" stop-color="#3f5700"/><stop offset=".368" stop-color="#465800"/><stop offset=".409" stop-color="#4f5900"/><stop offset=".437" stop-color="#5a5f00"/><stop offset=".462" stop-color="#69635c"/><stop offset=".482" stop-color="#7d67e5"/><stop offset=".510" stop-color="#826ce5"/><stop offset=".539" stop-color="#7c72e5"/><stop offset=".563" stop-color="#73765c"/><stop offset=".591" stop-color="#6e7c00"/><stop offset=".652" stop-color="#6b8f00"/><stop offset=".713" stop-color="#6fa700"/><stop offset=".754" stop-color="#78b700"/><stop offset=".855" stop-color="#95e100"/><stop offset=".887" stop-color="#a0ef00"/><stop offset=".904" stop-color="#a8f300"/><stop offset=".920" stop-color="#b4f500"/><stop offset=".944" stop-color="#c2f900"/><stop offset=".968" stop-color="#cefc00"/><stop offset=".994" stop-color="#d8ff00"/></linearGradient>
<linearGradient id="g63" x2="0" y2="1"><stop offset=".004" stop-color="#334c00"/><stop offset=".125" stop-color="#355000"/><stop offset=".247" stop-color="#385400"/><stop offset=".328" stop-color="#405700"/><stop offset=".368" stop-color="#475800"/><stop offset=".409" stop-color="#505900"/><stop offset=".437" stop-color="#5a5f00"/><stop offset=".462" stop-color="#6a635d"/><stop offset=".482" stop-color="#7d67e9"/><stop offset=".510" stop-color="#826ce9"/><stop offset=".539" stop-color="#7c72e9"/><stop offset=".563" stop-color="#73765d"/><stop offset=".591" stop-color="#6e7c00"/><stop offset=".652" stop-color="#6b8f00"/><stop offset=".713" stop-color="#6fa700"/><stop offset=".754" stop-color="#77b700"/><stop offset=".855" stop-color="#94e100"/><stop offset=".887" stop-color="#9eef00"/><stop offset=".904" stop-color="#a6f300"/><stop offset=".920" stop-color="#b1f500"/><stop offset=".944" stop-color="#bef900"/><stop offset=".968" stop-color="#cbfc00"/><stop offset=".994" stop-color="#d5ff00"/></linearGradient>
<linearGradient id="g64" x2="0" y2="1"><stop offset=".004" stop-color="#344c00"/><stop offset=".125" stop-color="#355000"/><stop offset=".247" stop-color="#395400"/><stop offset=".328" stop-color="#415700"/><stop offset=".409" stop-color="#515900"/><stop offset=".437" stop-color="#5b5f00"/><stop offset=".462" stop-color="#6a635f"/><stop offset=".482" stop-color="#7d67ed"/><stop offset=".510" stop-color="#826ced"/><stop offset=".539" stop-color="#7c72ed"/><stop offset=".563" stop-color="#73765f"/><stop offset=".591" stop-color="#6e7c00"/><stop offset=".652" stop-color="#6b8f00"/><stop offset=".713" stop-color="#6fa700"/><stop offset=".754" stop-color="#76b700"/><stop offset=".855" stop-color="#92e100"/><stop offset=".887" stop-color="#9def00"/><stop offset=".904" stop-color="#a4f300"/><stop offset=".920" stop-color="#aef500"/><stop offset=".968" stop-color="#c7fc00"/><stop offset=".994" stop-color="#d2ff00"/></linearGradient>
<linearGradient id="g65" x2="0" y2="1"><stop offset=".004" stop-color="#344c00"/><stop offset=".125" stop-color="#365000"/><stop offset=".247" stop-color="#395400"/><stop offset=".328" stop-color="#425700"/><stop offset=".409" stop-color="#525900"/><stop offset=".437" stop-color="#5b5f00"/><stop offset=".462" stop-color="#6a6360"/><stop offset=".482" stop-color="#7d67f0"/><stop offset=".510" stop-color="#826cf0"/><stop offset=".539" stop-color="#7c72f0"/><stop offset=".563" stop-color="#737660"/><stop offset=".591" stop-color="#6e7c00"/><stop offset=".652" stop-color="#6b8f00"/><stop offset=".713" stop-color="#6ea700"/><stop offset=".754" stop-color="#76b700"/><stop offset=".855" stop-color="#91e100"/><stop offset=".887" stop-color="#9bef00"/><stop offset=".904" stop-color="#a2f300"/><stop offset=".968" stop-color="#c4fc00"/><stop offset=".994" stop-color="#d0ff00"/></linearGradient>
<linearGradient id="g66" x2="0" y2="1"><stop offset=".004" stop-color="#354c00"/><stop offset=".125" stop-color="#365000"/><stop offset=".247" stop-color="#3a5400"/><stop offset=".328" stop-color="#425700"/><stop offset=".409" stop-color="#525900"/><stop offset=".437" stop-color="#5c5f00"/><stop offset=".462" stop-color="#6a6361"/><stop offset=".482" stop-color="#7d67f2"/><stop offset=".510" stop-color="#826cf2"/><stop offset=".539" stop-color="#7c72f2"/><stop offset=".563" stop-color="#737661"/><stop offset=".591" stop-color="#6e7c00"/><stop offset=".652" stop-color="#6b8f00"/><stop offset=".713" stop-color="#6ea700"/><stop offset=".754" stop-color="#76b700"/><stop offset=".855" stop-color="#90e100"/><stop offset=".887" stop-color="#9aef00"/><stop offset=".904" stop-color="#a1f300"/><stop offset=".968" stop-color="#c3fc00"/><stop offset=".994" stop-color="#ceff00"/></linearGradient>
<linearGradient id="g67" x2="0" y2="1"><stop offset=".004" stop-color="#354c00"/><stop offset=".125" stop-color="#375000"/><stop offset=".247" stop-color="#3a5400"/><stop offset=".328" stop-color="#435700"/><stop offset=".409" stop-color="#535900"/><stop offset=".437" stop-color="#5c5f00"/><stop offset=".462" stop-color="#6a6362"/><stop offset=".482" stop-color="#7d67f4"/><stop offset=".510" stop-color="#826cf4"/><stop offset=".539" stop-color="#7c72f4"/><stop offset=".563" stop-color="#727662"/><stop offset=".591" stop-color="#6e7c00"/><stop offset=".652" stop-color="#6b8f00"/><stop offset=".713" stop-color="#6ea700"/><stop offset=".754" stop-color="#75b700"/><stop offset=".855" stop-color="#8fe100"/><stop offset=".887" stop-color="#99ef00"/><stop offset=".904" stop-color="#a0f300"/><stop offset=".944" stop-color="#b4f900"/><stop offset=".968" stop-color="#c1fc00"/><stop offset=".994" stop-color="#ccff00"/></linearGradient>
<linearGradient id="g68" x2="0" y2="1"><stop offset=".004" stop-color="#364c00"/><stop offset=".125" stop-color="#375000"/><stop offset=".247" stop-color="#3b5400"/><stop offset=".328" stop-color="#445700"/><stop offset=".409" stop-color="#535900"/><stop offset=".437" stop-color="#5c5f00"/><stop offset=".462" stop-color="#6a6363"/><stop offset=".482" stop-color="#7d67f7"/><stop offset=".510" stop-color="#826cf7"/><stop offset=".539" stop-color="#7c72f7"/><stop offset=".563" stop-color="#727663"/><stop offset=".591" stop-color="#6e7c00"/><stop offset=".652" stop-color="#6a8f00"/><stop offset=".713" stop-color="#6ea700"/><stop offset=".754" stop-color="#75b700"/><stop offset=".855" stop-color="#8fe100"/><stop offset=".887" stop-color="#99ef00"/><stop offset=".920" stop-color="#a7f500"/><stop offset=".944" stop-color="#b2f900"/><stop offset=".968" stop-color="#bffc00"/><stop offset=".994" stop-color="#cbff00"/></linearGradient>
<linearGradient id="g69" x2="0" y2="1"><stop offset=".004" stop-color="#364c00"/><stop offset=".125" stop-color="#385000"/><stop offset=".247" stop-color="#3b5400"/><stop offset=".328" stop-color="#445700"/><stop offset=".409" stop-color="#545900"/><stop offset=".437" stop-color="#5d5f00"/><stop offset=".462" stop-color="#6a6364"/><stop offset=".482" stop-color="#7d67f9"/><stop offset=".510" stop-color="#826cf9"/><stop offset=".539" stop-color="#7c72f9"/><stop offset=".563" stop-color="#727664"/><stop offset=".591" stop-color="#6e7c00"/><stop offset=".652" stop-color="#6a8f00"/><stop offset=".713" stop-color="#6ea700"/><stop offset=".754" stop-color="#75b700"/><stop offset=".855" stop-color="#8ee100"/><stop offset=".887" stop-color="#98ef00"/><stop offset=".920" stop-color="#a5f500"/><stop offset=".944" stop-color="#aff900"/><stop offset=".968" stop-color="#bdfc00"/><stop offset=".994" stop-color="#c9ff00"/></linearGradient>
<linearGradient id="g70" x2="0" y2="1"><stop offset=".004" stop-color="#374c00"/><stop offset=".125" stop-color="#385000"/><stop offset=".247" stop-color="#3b5400"/><stop offset=".328" stop-color="#455700"/><stop offset=".409" stop-color="#545900"/><stop offset=".437" stop-color="#5d5f00"/><stop offset=".462" stop-color="#6a6364"/><stop offset=".482" stop-color="#7d67fb"/><stop offset=".510" stop-color="#826cfb"/><stop offset=".539" stop-color="#7c72fb"/><stop offset=".563" stop-color="#727664"/><stop offset=".591" stop-color="#6e7c00"/><stop offset=".652" stop-color="#6a8f00"/><stop offset=".713" stop-color="#6ea700"/><stop offset=".754" stop-color="#74b700"/><stop offset=".855" stop-color="#8de100"/><stop offset=".887" stop-color="#97ef00"/><stop offset=".944" stop-color="#aef900"/><stop offset=".968" stop-color="#bbfc00"/><stop offset=".994" stop-color="#c8ff00"/></linearGradient>
<linearGradient id="g71" x2="0" y2="1"><stop offset=".004" stop-color="#374c00"/><stop offset=".125" stop-color="#395000"/><stop offset=".247" stop-color="#3c5400"/><stop offset=".328" stop-color="#455700"/><stop offset=".409" stop-color="#555900"/><stop offset=".437" stop-color="#5d5f00"/><stop offset=".462" stop-color="#6a6364"/><stop offset=".482" stop-color="#7d67fb"/><stop offset=".510" stop-color="#826cfb"/><stop offset=".539" stop-color="#7b72fb"/><stop offset=".563" stop-color="#727664"/><stop offset=".591" stop-color="#6d7c00"/><stop offset=".652" stop-color="#6a8f00"/><stop offset=".713" stop-color="#6ea700"/><stop offset=".754" stop-color="#74b700"/><stop offset=".855" stop-color="#8de100"/><stop offset=".904" stop-color="#9cf300"/><stop offset=".944" stop-color="#acf900"/><stop offset=".968" stop-color="#bafc00"/><stop offset=".994" stop-color="#c7ff00"/></linearGradient>
<linearGradient id="g72" x2="0" y2="1"><stop offset=".004" stop-color="#384c00"/><stop offset=".125" stop-color="#395000"/><stop offset=".247" stop-color="#3c5400"/><stop offset=".328" stop-color="#455700"/><stop offset=".409" stop-color="#545900"/><stop offset=".437" stop-color="#5b5f00"/><stop offset=".462" stop-color="#67635d"/><stop offset=".482" stop-color="#7967e8"/><stop offset=".510" stop-color="#7d6ce8"/><stop offset=".539" stop-color="#7772e8"/><stop offset=".563" stop-color="#6f765d"/><stop offset=".591" stop-color="#6b7c00"/><stop offset=".652" stop-color="#698f00"/><stop offset=".713" stop-color="#6da700"/><stop offset=".754" stop-color="#74b700"/><stop offset=".855" stop-color="#8be100"/><stop offset=".904" stop-color="#9af300"/><stop offset=".944" stop-color="#a9f900"/><stop offset=".968" stop-color="#b7fc00"/><stop offset=".994" stop-color="#c4ff00"/></linearGradient>
<linearGradient id="g73" x2="0" y2="1"><stop offset=".004" stop-color="#674c00"/><stop offset=".247" stop-color="#685400"/><stop offset=".409" stop-color="#6c5900"/><stop offset=".437" stop-color="#6d5f00"/><stop offset=".462" stop-color="#706311"/><stop offset=".482" stop-color="#75672a"/><stop offset=".510" stop-color="#796c2a"/><stop offset=".539" stop-color="#74722a"/><stop offset=".563" stop-color="#717611"/><stop offset=".591" stop-color="#707c00"/><stop offset=".713" stop-color="#71a700"/><stop offset=".754" stop-color="#73b700"/><stop offset=".855" stop-color="#8ae100"/><stop offset=".904" stop-color="#98f300"/><stop offset=".944" stop-color="#a7f900"/><stop offset=".968" stop-color="#b5fc00"/><stop offset=".994" stop-color="#c2ff00"/></linearGradient>
<linearGradient id="g74" x2="0" y2="1"><stop offset=".004" stop-color="#394c00"/><stop offset=".125" stop-color="#3a5000"/><stop offset=".247" stop-color="#3d5400"/><stop offset=".328" stop-color="#455700"/><stop offset=".409" stop-color="#525900"/><stop offset=".437" stop-color="#595f00"/><stop offset=".462" stop-color="#63634f"/><stop offset=".482" stop-color="#7167c5"/><stop offset=".510" stop-color="#756cc5"/><stop offset=".539" stop-color="#7172c5"/><stop offset=".563" stop-color="#6a764f"/><stop offset=".591" stop-color="#677c00"/><stop offset=".652" stop-color="#678f00"/><stop offset=".713" stop-color="#6da700"/><stop offset=".754" stop-color="#73b700"/><stop offset=".855" stop-color="#89e100"/><stop offset=".904" stop-color="#97f300"/><stop offset=".944" stop-color="#a5f900"/><stop offset=".968" stop-color="#b3fc00"/><stop offset=".994" stop-color="#c0ff00"/></linearGradient>
<linearGradient id="g75" x2="0" y2="1"><stop offset=".004" stop-color="#394c00"/><stop offset=".125" stop-color="#3b5000"/><stop offset=".247" stop-color="#3d5400"/><stop offset=".328" stop-color="#445700"/><stop offset=".368" stop-color="#4a5800"/><stop offset=".409" stop-color="#525900"/><stop offset=".437" stop-color="#585f00"/><stop offset=".462" stop-color="#616344"/><stop offset=".482" stop-color="#6e67ab"/><stop offset=".510" stop-color="#726cab"/><stop offset=".539" stop-color="#6e72ab"/><stop offset=".563" stop-color="#687644"/><stop offset=".591" stop-color="#667c00"/><stop offset=".652" stop-color="#688f00"/><stop offset=".713" stop-color="#6da700"/><stop offset=".754" stop-color="#73b700"/><stop offset=".855" stop-color="#88e100"/><stop offset=".904" stop-color="#95f300"/><stop offset=".944" stop-color="#a4f900"/><stop offset=".994" stop-color="#beff00"/></linearGradient>
<linearGradient id="g76" x2="0" y2="1"><stop offset=".004" stop-color="#3a4c00"/><stop offset=".247" stop-color="#3e5400"/><stop offset=".328" stop-color="#445700"/><stop offset=".368" stop-color="#495800"/><stop offset=".409" stop-color="#515900"/><stop offset=".437" stop-color="#585f00"/><stop offset=".462" stop-color="#5f633a"/><stop offset=".482" stop-color="#6b6791"/><stop offset=".510" stop-color="#6e6c91"/><stop offset=".539" stop-color="#6b7291"/><stop offset=".563" stop-color="#66763a"/><stop offset=".591" stop-color="#657c00"/><stop offset=".652" stop-color="#688f00"/><stop offset=".754" stop-color="#72b700"/><stop offset=".827" stop-color="#80d500"/><stop offset=".887" stop-color="#8fef00"/><stop offset=".920" stop-color="#99f500"/><stop offset=".944" stop-color="#a2f900"/><stop offset=".994" stop-color="#bcff00"/></linearGradient>
<linearGradient id="g77" x2="0" y2="1"><stop offset=".004" stop-color="#3a4c00"/><stop offset=".247" stop-color="#3e5400"/><stop offset=".328" stop-color="#435700"/><stop offset=".368" stop-color="#485800"/><stop offset=".409" stop-color="#515900"/><stop offset=".437" stop-color="#575f00"/><stop offset=".462" stop-color="#5e6330"/><stop offset=".482" stop-color="#676778"/><stop offset=".510" stop-color="#6a6c78"/><stop offset=".539" stop-color="#687278"/><stop offset=".563" stop-color="#647630"/><stop offset=".591" stop-color="#647c00"/><stop offset=".713" stop-color="#6fa700"/><stop offset=".754" stop-color="#72b700"/><stop offset=".827" stop-color="#7fd500"/><stop offset=".887" stop-color="#8def00"/><stop offset=".920" stop-color="#97f500"/><stop offset=".944" stop-color="#a0f900"/><stop offset=".994" stop-color="#baff00"/></linearGradient>
<linearGradient id="g78" x2="0" y2="1"><stop offset=".004" stop-color="#3b4c00"/><stop offset=".247" stop-color="#3e5400"/><stop offset=".328" stop-color="#435700"/><stop offset=".368" stop-color="#475800"/><stop offset=".409" stop-color="#515900"/><stop offset=".437" stop-color="#565f00"/><stop offset=".462" stop-color="#5c6326"/><stop offset=".482" stop-color="#64675e"/><stop offset=".510" stop-color="#676c5e"/><stop offset=".539" stop-color="#65725e"/><stop offset=".563" stop-color="#627626"/><stop offset=".591" stop-color="#637c00"/><stop offset=".713" stop-color="#6fa700"/><stop offset=".754" stop-color="#72b700"/><stop offset=".827" stop-color="#7ed500"/><stop offset=".887" stop-color="#8cef00"/><stop offset=".920" stop-color="#96f500"/><stop offset=".944" stop-color="#9ef900"/><stop offset=".994" stop-color="#b8ff00"/></linearGradient>
<linearGradient id="g79" x2="0" y2="1"><stop offset=".004" stop-color="#3b4c00"/><stop offset=".247" stop-color="#3e5400"/><stop offset=".328" stop-color="#425700"/><stop offset=".368" stop-color="#465800"/><stop offset=".409" stop-color="#505900"/><stop offset=".437" stop-color="#565f00"/><stop offset=".462" stop-color="#5b631b"/><stop offset=".482" stop-color="#616744"/><stop offset=".510" stop-color="#636c44"/><stop offset=".539" stop-color="#627244"/><stop offset=".563" stop-color="#60761b"/><stop offset=".591" stop-color="#617c00"/><stop offset=".652" stop-color="#6a8f00"/><stop offset=".713" stop-color="#70a700"/><stop offset=".754" stop-color="#71b700"/><stop offset=".827" stop-color="#7dd500"/><stop offset=".887" stop-color="#8bef00"/><stop offset=".920" stop-color="#94f500"/><stop offset=".944" stop-color="#9df900"/><stop offset=".994" stop-color="#b6ff00"/></linearGradient>
<linearGradient id="g80" x2="0" y2="1"><stop offset=".004" stop-color="#3b4c00"/><stop offset=".247" stop-color="#3f5400"/><stop offset=".328" stop-color="#425700"/><stop offset=".368" stop-color="#455800"/><stop offset=".409" stop-color="#4f5900"/><stop offset=".437" stop-color="#555f00"/><stop offset=".462" stop-color="#596313"/><stop offset=".482" stop-color="#5d6730"/><stop offset=".510" stop-color="#5f6c30"/><stop offset=".539" stop-color="#5f7230"/><stop offset=".563" stop-color="#5e7613"/><stop offset=".591" stop-color="#607c00"/><stop offset=".652" stop-color="#6a8f00"/><stop offset=".713" stop-color="#70a700"/><stop offset=".754" stop-color="#71b700"/><stop offset=".827" stop-color="#7cd500"/><stop offset=".887" stop-color="#89ef00"/><stop offset=".920" stop-color="#93f500"/><stop offset=".944" stop-color="#9bf900"/><stop offset=".968" stop-color="#a7fc00"/><stop offset=".994" stop-color="#b5ff00"/></linearGradient>
<linearGradient id="g81" x2="0" y2="1"><stop offset=".004" stop-color="#3c4c00"/><stop offset=".247" stop-color="#3f5400"/><stop offset=".328" stop-color="#425700"/><stop offset=".368" stop-color="#455800"/><stop offset=".409" stop-color="#4e5900"/><stop offset=".437" stop-color="#535f00"/><stop offset=".462" stop-color="#56630f"/><stop offset=".482" stop-color="#5a6725"/><stop offset=".510" stop-color="#5c6c25"/><stop offset=".539" stop-color="#5c7225"/><stop offset=".563" stop-color="#5b760f"/><stop offset=".591" stop-color="#5d7c00"/><stop offset=".652" stop-color="#688f00"/><stop offset=".713" stop-color="#6fa700"/><stop offset=".754" stop-color="#71b700"/><stop offset=".827" stop-color="#7cd500"/><stop offset=".887" stop-color="#89ef00"/><stop offset=".920" stop-color="#92f500"/><stop offset=".944" stop-color="#9bf900"/><stop offset=".968" stop-color="#a6fc00"/><stop offset=".994" stop-color="#b4ff00"/></linearGradient>
<linearGradient id="g82" x2="0" y2="1"><stop offset=".004" stop-color="#3c4c00"/><stop offset=".247" stop-color="#3f5400"/><stop offset=".328" stop-color="#425700"/><stop offset=".368" stop-color="#455800"/><stop offset=".409" stop-color="#4d5900"/><stop offset=".437" stop-color="#515f00"/><stop offset=".482" stop-color="#56671b"/><stop offset=".510" stop-color="#586c1b"/><stop offset=".539" stop-color="#58721b"/><stop offset=".563" stop-color="#58760b"/><stop offset=".591" stop-color="#5b7c00"/><stop offset=".652" stop-color="#668f00"/><stop offset=".713" stop-color="#6ea700"/><stop offset=".754" stop-color="#71b700"/><stop offset=".827" stop-color="#7bd500"/><stop offset=".887" stop-color="#88ef00"/><stop offset=".920" stop-color="#92f500"/><stop offset=".944" stop-color="#9af900"/><stop offset=".968" stop-color="#a5fc00"/><stop offset=".994" stop-color="#b3ff00"/></linearGradient>
<linearGradient id="g83" x2="0" y2="1"><stop offset=".004" stop-color="#3c4c00"/><stop offset=".247" stop-color="#3f5400"/><stop offset=".328" stop-color="#415700"/><stop offset=".368" stop-color="#445800"/><stop offset=".409" stop-color="#4b5900"/><stop offset=".462" stop-color="#516307"/><stop offset=".482" stop-color="#536711"/><stop offset=".539" stop-color="#557211"/><stop offset=".563" stop-color="#557607"/><stop offset=".591" stop-color="#587c00"/><stop offset=".652" stop-color="#648f00"/><stop offset=".713" stop-color="#6ea700"/><stop offset=".754" stop-color="#71b700"/><stop offset=".827" stop-color="#7bd500"/><stop offset=".887" stop-color="#88ef00"/><stop offset=".920" stop-color="#91f500"/><stop offset=".944" stop-color="#99f900"/><stop offset=".968" stop-color="#a5fc00"/><stop offset=".994" stop-color="#b3ff00"/></linearGradient>
<linearGradient id="g84" x2="0" y2="1"><stop offset=".004" stop-color="#3c4c00"/><stop offset=".247" stop-color="#3f5400"/><stop offset=".328" stop-color="#415700"/><stop offset=".368" stop-color="#445800"/><stop offset=".409" stop-color="#4a5900"/><stop offset=".462" stop-color="#4e6303"/><stop offset=".563" stop-color="#537603"/><stop offset=".591" stop-color="#567c00"/><stop offset=".713" stop-color="#6da700"/><stop offset=".754" stop-color="#71b700"/><stop offset=".827" stop-color="#7ad500"/><stop offset=".887" stop-color="#87ef00"/><stop offset=".920" stop-color="#90f500"/><stop offset=".944" stop-color="#99f900"/><stop offset=".968" stop-color="#a4fc00"/><stop offset=".994" stop-color="#b2ff00"/></linearGradient>
<linearGradient id="g85" x2="0" y2="1"><stop offset=".004" stop-color="#3c4c00"/><stop offset=".247" stop-color="#3f5400"/><stop offset=".328" stop-color="#415700"/><stop offset=".368" stop-color="#435800"/><stop offset=".409" stop-color="#495900"/><stop offset=".462" stop-color="#4d6300"/><stop offset=".563" stop-color="#517600"/><stop offset=".591" stop-color="#547c00"/><stop offset=".713" stop-color="#6da700"/><stop offset=".794" stop-color="#75c800"/><stop offset=".827" stop-color="#7ad500"/><stop offset=".887" stop-color="#87ef00"/><stop offset=".920" stop-color="#90f500"/><stop offset=".944" stop-color="#98f900"/><stop offset=".968" stop-color="#a3fc00"/><stop offset=".994" stop-color="#b1ff00"/></linearGradient>
<linearGradient id="g86" x2="0" y2="1"><stop offset=".004" stop-color="#754c00"/><stop offset=".409" stop-color="#755900"/><stop offset=".591" stop-color="#757c00"/><stop offset=".713" stop-color="#75a700"/><stop offset=".794" stop-color="#76c800"/><stop offset=".827" stop-color="#7ad500"/><stop offset=".887" stop-color="#87ef00"/><stop offset=".920" stop-color="#91f500"/><stop offset=".944" stop-color="#99f900"/><stop offset=".968" stop-color="#a4fc00"/><stop offset=".994" stop-color="#b2ff00"/></linearGradient>
<linearGradient id="g87" x2="0" y2="1"><stop offset=".004" stop-color="#594c00"/><stop offset=".247" stop-color="#5b5400"/><stop offset=".368" stop-color="#5f5800"/><stop offset=".409" stop-color="#625900"/><stop offset=".437" stop-color="#645f00"/><stop offset=".482" stop-color="#696723"/><stop offset=".510" stop-color="#6a6c23"/><stop offset=".539" stop-color="#697223"/><stop offset=".563" stop-color="#68760e"/><stop offset=".591" stop-color="#697c00"/><stop offset=".713" stop-color="#71a700"/><stop offset=".754" stop-color="#73b700"/><stop offset=".794" stop-color="#78c800"/><stop offset=".827" stop-color="#7dd500"/><stop offset=".887" stop-color="#8bef00"/><stop offset=".920" stop-color="#94f500"/><stop offset=".944" stop-color="#9df900"/><stop offset=".994" stop-color="#b7ff00"/></linearGradient>
<linearGradient id="g88" x2="0" y2="1"><stop offset=".004" stop-color="#3a4c00"/><stop offset=".247" stop-color="#3e5400"/><stop offset=".328" stop-color="#435700"/><stop offset=".368" stop-color="#485800"/><stop offset=".409" stop-color="#4f5900"/><stop offset=".437" stop-color="#545f00"/><stop offset=".462" stop-color="#5b6331"/><stop offset=".482" stop-color="#65677b"/><stop offset=".510" stop-color="#676c7b"/><stop offset=".539" stop-color="#65727b"/><stop offset=".563" stop-color="#617631"/><stop offset=".591" stop-color="#607c00"/><stop offset=".652" stop-color="#658f00"/><stop offset=".754" stop-color="#72b700"/><stop offset=".827" stop-color="#7fd500"/><stop offset=".887" stop-color="#8eef00"/><stop offset=".920" stop-color="#98f500"/><stop offset=".944" stop-color="#a1f900"/><stop offset=".994" stop-color="#bbff00"/></linearGradient>
<linearGradient id="g89" x2="0" y2="1"><stop offset=".004" stop-color="#394c00"/><stop offset=".125" stop-color="#3b5000"/><stop offset=".247" stop-color="#3d5400"/><stop offset=".328" stop-color="#445700"/><stop offset=".409" stop-color="#525900"/><stop offset=".437" stop-color="#585f00"/><stop offset=".462" stop-color="#616346"/><stop offset=".482" stop-color="#6e67af"/><stop offset=".510" stop-color="#726caf"/><stop offset=".539" stop-color="#6e72af"/><stop offset=".563" stop-color="#687646"/><stop offset=".591" stop-color="#657c00"/><stop offset=".652" stop-color="#678f00"/><stop offset=".713" stop-color="#6da700"/><stop offset=".754" stop-color="#73b700"/><stop offset=".855" stop-color="#88e100"/><stop offset=".904" stop-color="#96f300"/><stop offset=".944" stop-color="#a4f900"/><stop offset=".994" stop-color="#beff00"/></linearGradient>
<linearGradient id="g90" x2="0" y2="1"><stop offset=".004" stop-color="#384c00"/><stop offset=".125" stop-color="#3a5000"/><stop offset=".247" stop-color="#3d5400"/><stop offset=".328" stop-color="#455700"/><stop offset=".409" stop-color="#545900"/><stop offset=".437" stop-color="#5c5f00"/><stop offset=".462" stop-color="#67635a"/><stop offset=".482" stop-color="#7867e2"/><stop offset=".510" stop-color="#7c6ce2"/><stop offset=".539" stop-color="#7772e2"/><stop offset=".563" stop-color="#6e765a"/><stop offset=".591" stop-color="#6b7c00"/><stop offset=".652" stop-color="#698f00"/><stop offset=".713" stop-color="#6da700"/><stop offset=".754" stop-color="#73b700"/><stop offset=".855" stop-color="#8ae100"/><stop offset=".904" stop-color="#99f300"/><stop offset=".944" stop-color="#a7f900"/><stop offset=".968" stop-color="#b5fc00"/><stop offset=".994" stop-color="#c2ff00"/></linearGradient>
<linearGradient id="g91" x2="0" y2="1"><stop offset=".004" stop-color="#704c00"/><stop offset=".328" stop-color="#715700"/><stop offset=".409" stop-color="#735900"/><stop offset=".462" stop-color="#746308"/><stop offset=".482" stop-color="#7d6714"/><stop offset=".510" stop-color="#826c14"/><stop offset=".539" stop-color="#7c7214"/><stop offset=".563" stop-color="#757608"/><stop offset=".591" stop-color="#757c00"/><stop offset=".713" stop-color="#75a700"/><stop offset=".754" stop-color="#75b700"/><stop offset=".794" stop-color="#7dc800"/><stop offset=".855" stop-color="#8ce100"/><stop offset=".904" stop-color="#9bf300"/><stop offset=".944" stop-color="#aaf900"/><stop offset=".968" stop-color="#b8fc00"/><stop offset=".994" stop-color="#c5ff00"/></linearGradient>
<linearGradient id="g92" x2="0" y2="1"><stop offset=".004" stop-color="#544c00"/><stop offset=".247" stop-color="#565400"/><stop offset=".328" stop-color="#5c5700"/><stop offset=".409" stop-color="#645900"/><stop offset=".437" stop-color="#685f00"/><stop offset=".462" stop-color="#6f6337"/><stop offset=".482" stop-color="#7d6789"/><stop offset=".510" stop-color="#826c89"/><stop offset=".539" stop-color="#7c7289"/><stop offset=".563" stop-color="#747637"/><stop offset=".591" stop-color="#717c00"/><stop offset=".652" stop-color="#6f8f00"/><stop offset=".713" stop-color="#71a700"/><stop offset=".754" stop-color="#75b700"/><stop offset=".855" stop-color="#8ce100"/><stop offset=".904" stop-color="#9bf300"/><stop offset=".944" stop-color="#abf900"/><stop offset=".968" stop-color="#b9fc00"/><stop offset=".994" stop-color="#c5ff00"/></linearGradient>
<linearGradient id="g93" x2="0" y2="1"><stop offset=".004" stop-color="#374c00"/><stop offset=".125" stop-color="#395000"/><stop offset=".247" stop-color="#3c5400"/><stop offset=".328" stop-color="#455700"/><stop offset=".409" stop-color="#555900"/><stop offset=".437" stop-color="#5d5f00"/><stop offset=".462" stop-color="#6a6365"/><stop offset=".482" stop-color="#7d67fc"/><stop offset=".510" stop-color="#826cfc"/><stop offset=".539" stop-color="#7c72fc"/><stop offset=".563" stop-color="#727665"/><stop offset=".591" stop-color="#6d7c00"/><stop offset=".652" stop-color="#6a8f00"/><stop offset=".713" stop-color="#6ea700"/><stop offset=".754" stop-color="#74b700"/><stop offset=".855" stop-color="#8de100"/><stop offset=".904" stop-color="#9cf300"/><stop offset=".944" stop-color="#acf900"/><stop offset=".968" stop-color="#bafc00"/><stop offset=".994" stop-color="#c7ff00"/></linearGradient>
<linearGradient id="g94" x2="0" y2="1"><stop offset=".004" stop-color="#364c00"/><stop offset=".125" stop-color="#385000"/><stop offset=".247" stop-color="#3b5400"/><stop offset=".328" stop-color="#445700"/><stop offset=".409" stop-color="#545900"/><stop offset=".437" stop-color="#5d5f00"/><stop offset=".462" stop-color="#6a6364"/><stop offset=".482" stop-color="#7d67fa"/><stop offset=".510" stop-color="#826cfa"/><stop offset=".539" stop-color="#7c72fa"/><stop offset=".563" stop-color="#727664"/><stop offset=".591" stop-color="#6e7c00"/><stop offset=".652" stop-color="#6a8f00"/><stop offset=".713" stop-color="#6ea700"/><stop offset=".754" stop-color="#75b700"/><stop offset=".855" stop-color="#8de100"/><stop offset=".887" stop-color="#97ef00"/><stop offset=".920" stop-color="#a4f500"/><stop offset=".944" stop-color="#aff900"/><stop offset=".968" stop-color="#bcfc00"/><stop offset=".994" stop-color="#c9ff00"/></linearGradient>
<linearGradient id="g95" x2="0" y2="1"><stop offset=".004" stop-color="#364c00"/><stop offset=".125" stop-color="#375000"/><stop offset=".247" stop-color="#3b5400"/><stop offset=".328" stop-color="#445700"/><stop offset=".409" stop-color="#535900"/><stop offset=".437" stop-color="#5c5f00"/><stop offset=".462" stop-color="#6a6363"/><stop offset=".482" stop-color="#7d67f7"/><stop offset=".510" stop-color="#826cf7"/><stop offset=".539" stop-color="#7c72f7"/><stop offset=".563" stop-color="#727663"/><stop offset=".591" stop-color="#6e7c00"/><stop offset=".652" stop-color="#6a8f00"/><stop offset=".713" stop-color="#6ea700"/><stop offset=".754" stop-color="#75b700"/><stop offset=".855" stop-color="#8ee100"/><stop offset=".887" stop-color="#98ef00"/><stop offset=".920" stop-color="#a6f500"/><stop offset=".944" stop-color="#b1f900"/><stop offset=".968" stop-color="#bffc00"/><stop offset=".994" stop-color="#cbff00"/></linearGradient>
<linearGradient id="g96" x2="0" y2="1"><stop offset=".004" stop-color="#354c00"/><stop offset=".125" stop-color="#375000"/><stop offset=".247" stop-color="#3a5400"/><stop offset=".328" stop-color="#435700"/><stop offset=".409" stop-color="#535900"/><stop offset=".437" stop-color="#5c5f00"/><stop offset=".462" stop-color="#6a6362"/><stop offset=".482" stop-color="#7d67f5"/><stop offset=".510" stop-color="#826cf5"/><stop offset=".539" stop-color="#7c72f5"/><stop offset=".563" stop-color="#727662"/><stop offset=".591" stop-color="#6e7c00"/><stop offset=".652" stop-color="#6b8f00"/><stop offset=".713" stop-color="#6ea700"/><stop offset=".754" stop-color="#75b700"/><stop offset=".855" stop-color="#8fe100"/><stop offset=".887" stop-color="#99ef00"/><stop offset=".904" stop-color="#a0f300"/><stop offset=".944" stop-color="#b3f900"/><stop offset=".968" stop-color="#c1fc00"/><stop offset=".994" stop-color="#ccff00"/></linearGradient>
<linearGradient id="g97" x2="0" y2="1"><stop offset=".004" stop-color="#354c00"/><stop offset=".125" stop-color="#365000"/><stop offset=".247" stop-color="#395400"/><stop offset=".328" stop-color="#425700"/><stop offset=".409" stop-color="#525900"/><stop offset=".437" stop-color="#5b5f00"/><stop offset=".462" stop-color="#6a635d"/><stop offset=".482" stop-color="#7d67e9"/><stop offset=".510" stop-color="#826ce9"/><stop offset=".539" stop-color="#7c72e9"/><stop offset=".563" stop-color="#73765d"/><stop offset=".591" stop-color="#6e7c00"/><stop offset=".652" stop-color="#6b8f00"/><stop offset=".713" stop-color="#6ea700"/><stop offset=".754" stop-color="#76b700"/><stop offset=".855" stop-color="#91e100"/><stop offset=".887" stop-color="#9bef00"/><stop offset=".904" stop-color="#a2f300"/><stop offset=".968" stop-color="#c4fc00"/><stop offset=".994" stop-color="#cfff00"/></linearGradient>
<linearGradient id="g98" x2="0" y2="1"><stop offset=".004" stop-color="#344c00"/><stop offset=".125" stop-color="#365000"/><stop offset=".247" stop-color="#395400"/><stop offset=".328" stop-color="#425700"/><stop offset=".409" stop-color="#515900"/><stop offset=".437" stop-color="#5b5f00"/><stop offset=".462" stop-color="#6a6357"/><stop offset=".482" stop-color="#7d67d9"/><stop offset=".510" stop-color="#826cd9"/><stop offset=".539" stop-color="#7c72d9"/><stop offset=".563" stop-color="#737657"/><stop offset=".591" stop-color="#6e7c00"/><stop offset=".652" stop-color="#6b8f00"/><stop offset=".713" stop-color="#6ea700"/><stop offset=".754" stop-color="#76b700"/><stop offset=".855" stop-color="#91e100"/><stop offset=".887" stop-color="#9cef00"/><stop offset=".904" stop-color="#a3f300"/><stop offset=".944" stop-color="#b8f900"/><stop offset=".968" stop-color="#c5fc00"/><stop offset=".994" stop-color="#d0ff00"/></linearGradient>
<linearGradient id="g99" x2="0" y2="1"><stop offset=".004" stop-color="#344c00"/><stop offset=".125" stop-color="#365000"/><stop offset=".247" stop-color="#395400"/><stop offset=".328" stop-color="#415700"/><stop offset=".409" stop-color="#515900"/><stop offset=".437" stop-color="#5b5f00"/><stop offset=".462" stop-color="#6a6350"/><stop offset=".482" stop-color="#7d67c9"/><stop offset=".510" stop-color="#826cc9"/><stop offset=".539" stop-color="#7c72c9"/><stop offset=".563" stop-color="#737650"/><stop offset=".591" stop-color="#6e7c00"/><stop offset=".652" stop-color="#6b8f00"/><stop offset=".713" stop-color="#6ea700"/><stop offset=".754" stop-color="#76b700"/><stop offset=".855" stop-color="#92e100"/><stop offset=".887" stop-color="#9cef00"/><stop offset=".904" stop-color="#a3f300"/><stop offset=".920" stop-color="#adf500"/><stop offset=".968" stop-color="#c6fc00"/><stop offset=".994" stop-color="#d1ff00"/></linearGradient>
<linearGradient id="g100" x2="0" y2="1"><stop offset=".004" stop-color="#344c00"/><stop offset=".125" stop-color="#355000"/><stop offset=".247" stop-color="#385400"/><stop offset=".328" stop-color="#415700"/><stop offset=".409" stop-color="#515900"/><stop offset=".437" stop-color="#5b5f00"/><stop offset=".462" stop-color="#6a634a"/><stop offset=".482" stop-color="#7d67b9"/><stop offset=".510" stop-color="#826cb9"/><stop offset=".539" stop-color="#7c72b9"/><stop offset=".563" stop-color="#73764a"/><stop offset=".591" stop-color="#6e7c00"/><stop offset=".652" stop-color="#6b8f00"/><stop offset=".713" stop-color="#6fa700"/><stop offset=".754" stop-color="#77b700"/><stop offset=".855" stop-color="#92e100"/><stop offset=".887" stop-color="#9def00"/><stop offset=".904" stop-color="#a4f300"/><stop offset=".920" stop-color="#aef500"/><stop offset=".968" stop-color="#c7fc00"/><stop offset=".994" stop-color="#d2ff00"/></linearGradient>
<linearGradient id="g101" x2="0" y2="1"><stop offset=".004" stop-color="#334c00"/><stop offset=".125" stop-color="#355000"/><stop offset=".247" stop-color="#385400"/><stop offset=".328" stop-color="#415700"/><stop offset=".409" stop-color="#505900"/><stop offset=".437" stop-color="#5b5f00"/><stop offset=".462" stop-color="#6a6344"/><stop offset=".482" stop-color="#7d67aa"/><stop offset=".510" stop-color="#826caa"/><stop offset=".539" stop-color="#7c72aa"/><stop offset=".563" stop-color="#737644"/><stop offset=".591" stop-color="#6e7c00"/><stop offset=".652" stop-color="#6b8f00"/><stop offset=".713" stop-color="#6fa700"/><stop offset=".754" stop-color="#77b700"/><stop offset=".855" stop-color="#93e100"/><stop offset=".887" stop-color="#9def00"/><stop offset=".904" stop-color="#a5f300"/><stop offset=".920" stop-color="#aff500"/><stop offset=".968" stop-color="#c8fc00"/><stop offset=".994" stop-color="#d3ff00"/></linearGradient>
<linearGradient id="g102" x2="0" y2="1"><stop offset=".004" stop-color="#334c00"/><stop offset=".125" stop-color="#355000"/><stop offset=".247" stop-color="#385400"/><stop offset=".328" stop-color="#405700"/><stop offset=".409" stop-color="#505900"/><stop offset=".437" stop-color="#5a5f00"/><stop offset=".462" stop-color="#6a633e"/><stop offset=".482" stop-color="#7d679a"/><stop offset=".510" stop-color="#826c9a"/><stop offset=".539" stop-color="#7c729a"/><stop offset=".563" stop-color="#73763e"/><stop offset=".591" stop-color="#6e7c00"/><stop offset=".652" stop-color="#6b8f00"/><stop offset=".713" stop-color="#6fa700"/><stop offset=".754" stop-color="#77b700"/><stop offset=".855" stop-color="#93e100"/><stop offset=".887" stop-color="#9eef00"/><stop offset=".904" stop-color="#a5f300"/><stop offset=".920" stop-color="#b0f500"/><stop offset=".968" stop-color="#c9fc00"/><stop offset=".994" stop-color="#d4ff00"/></linearGradient>
<linearGradient id="g103" x2="0" y2="1"><stop offset=".004" stop-color="#334c00"/><stop offset=".125" stop-color="#345000"/><stop offset=".247" stop-color="#385400"/><stop offset=".328" stop-color="#405700"/><stop offset=".368" stop-color="#475800"/><stop offset=".409" stop-color="#505900"/><stop offset=".437" stop-color="#5a5f00"/><stop offset=".462" stop-color="#6a6334"/><stop offset=".482" stop-color="#7d6783"/><stop offset=".510" stop-color="#826c83"/><stop offset=".539" stop-color="#7c7283"/><stop offset=".563" stop-color="#737634"/><stop offset=".591" stop-color="#6e7c00"/><stop offset=".652" stop-color="#6b8f00"/><stop offset=".713" stop-color="#6fa700"/><stop offset=".754" stop-color="#77b700"/><stop offset=".855" stop-color="#94e100"/><stop offset=".887" stop-color="#9fef00"/><stop offset=".904" stop-color="#a6f300"/><stop offset=".920" stop-color="#b1f500"/><stop offset=".944" stop-color="#bff900"/><stop offset=".968" stop-color="#cbfc00"/><stop offset=".994" stop-color="#d6ff00"/></linearGradient>
<linearGradient id="g104" x2="0" y2="1"><stop offset=".004" stop-color="#324c00"/><stop offset=".125" stop-color="#345000"/><stop offset=".247" stop-color="#375400"/><stop offset=".328" stop-color="#3f5700"/><stop offset=".368" stop-color="#465800"/><stop offset=".409" stop-color="#4f5900"/><stop offset=".437" stop-color="#5a5f00"/><stop offset=".462" stop-color="#69632e"/><stop offset=".482" stop-color="#7d6773"/><stop offset=".510" stop-color="#826c73"/><stop offset=".539" stop-color="#7c7273"/><stop offset=".563" stop-color="#73762e"/><stop offset=".591" stop-color="#6e7c00"/><stop offset=".652" stop-color="#6b8f00"/><stop offset=".713" stop-color="#6fa700"/><stop offset=".754" stop-color="#78b700"/><stop offset=".855" stop-color="#95e100"/><stop offset=".887" stop-color="#a0ef00"/><stop offset=".904" stop-color="#a8f300"/><stop offset=".920" stop-color="#b3f500"/><stop offset=".944" stop-color="#c1f900"/><stop offset=".968" stop-color="#cdfc00"/><stop offset=".994" stop-color="#d7ff00"/></linearGradient>
<linearGradient id="g105" x2="0" y2="1"><stop offset=".004" stop-color="#324c00"/><stop offset=".125" stop-color="#335000"/><stop offset=".247" stop-color="#375400"/><stop offset=".328" stop-color="#3e5700"/><stop offset=".368" stop-color="#455800"/><stop offset=".409" stop-color="#4e5900"/><stop offset=".437" stop-color="#595f00"/><stop offset=".462" stop-color="#69632e"/><stop offset=".482" stop-color="#7d6772"/><stop offset=".510" stop-color="#826c72"/><stop offset=".539" stop-color="#7c7272"/><stop offset=".563" stop-color="#73762e"/><stop offset=".591" stop-color="#6e7c00"/><stop offset=".652" stop-color="#6b8f00"/><stop offset=".713" stop-color="#6fa700"/><stop offset=".754" stop-color="#78b700"/><stop offset=".855" stop-color="#95e100"/><stop offset=".887" stop-color="#a1ef00"/><stop offset=".904" stop-color="#a9f300"/><stop offset=".920" stop-color="#b5f500"/><stop offset=".944" stop-color="#c3f900"/><stop offset=".968" stop-color="#cffc00"/><stop offset=".994" stop-color="#d9ff00"/></linearGradient>
<linearGradient id="g106" x2="0" y2="1"><stop offset=".004" stop-color="#314c00"/><stop offset=".125" stop-color="#335000"/><stop offset=".247" stop-color="#365400"/><stop offset=".328" stop-color="#3e5700"/><stop offset=".368" stop-color="#455800"/><stop offset=".409" stop-color="#4e5900"/><stop offset=".437" stop-color="#595f00"/><stop offset=".462" stop-color="#69632d"/><stop offset=".482" stop-color="#7d6771"/><stop offset=".510" stop-color="#826c71"/><stop offset=".539" stop-color="#7c7271"/><stop offset=".563" stop-color="#73762d"/><stop offset=".591" stop-color="#6e7c00"/><stop offset=".652" stop-color="#6b8f00"/><stop offset=".713" stop-color="#6fa700"/><stop offset=".754" stop-color="#78b700"/><stop offset=".855" stop-color="#96e100"/><stop offset=".887" stop-color="#a2ef00"/><stop offset=".904" stop-color="#aaf300"/><stop offset=".920" stop-color="#b7f500"/><stop offset=".944" stop-color="#c6f900"/><stop offset=".968" stop-color="#d1fc00"/><stop offset=".994" stop-color="#dbff00"/></linearGradient>
<linearGradient id="g107" x2="0" y2="1"><stop offset=".004" stop-color="#314c00"/><stop offset=".125" stop-color="#325000"/><stop offset=".247" stop-color="#365400"/><stop offset=".328" stop-color="#3d5700"/><stop offset=".368" stop-color="#445800"/><stop offset=".409" stop-color="#4d5900"/><stop offset=".437" stop-color="#595f00"/><stop offset=".462" stop-color="#69632d"/><stop offset=".482" stop-color="#7d6770"/><stop offset=".510" stop-color="#826c70"/><stop offset=".539" stop-color="#7c7270"/><stop offset=".563" stop-color="#73762d"/><stop offset=".591" stop-color="#6e7c00"/><stop offset=".652" stop-color="#6b8f00"/><stop offset=".713" stop-color="#6fa700"/><stop offset=".754" stop-color="#79b700"/><stop offset=".855" stop-color="#97e100"/><stop offset=".887" stop-color="#a3ef00"/><stop offset=".904" stop-color="#acf300"/><stop offset=".920" stop-color="#b8f500"/><stop offset=".944" stop-color="#c8f900"/><stop offset=".968" stop-color="#d3fc00"/><stop offset=".994" stop-color="#ddff00"/></linearGradient>
<linearGradient id="g108" x2="0" y2="1"><stop offset=".004" stop-color="#304c00"/><stop offset=".125" stop-color="#325000"/><stop offset=".247" stop-color="#355400"/><stop offset=".328" stop-color="#3c5700"/><stop offset=".368" stop-color="#435800"/><stop offset=".409" stop-color="#4c5900"/><stop offset=".437" stop-color="#585f00"/><stop offset=".462" stop-color="#69632c"/><stop offset=".482" stop-color="#7d676f"/><stop offset=".510" stop-color="#826c6f"/><stop offset=".539" stop-color="#7c726f"/><stop offset=".563" stop-color="#73762c"/><stop offset=".591" stop-color="#6e7c00"/><stop offset=".652" stop-color="#6b8f00"/><stop offset=".713" stop-color="#6fa700"/><stop offset=".754" stop-color="#79b700"/><stop offset=".855" stop-color="#98e100"/><stop offset=".887" stop-color="#a4ef00"/><stop offset=".904" stop-color="#adf300"/><stop offset=".920" stop-color="#baf500"/><stop offset=".944" stop-color="#caf900"/><stop offset=".968" stop-color="#d5fc00"/><stop offset=".994" stop-color="#dfff00"/></linearGradient>
<linearGradient id="g109" x2="0" y2="1"><stop offset=".004" stop-color="#304c00"/><stop offset=".125" stop-color="#315000"/><stop offset=".247" stop-color="#355400"/><stop offset=".328" stop-color="#3c5700"/><stop offset=".368" stop-color="#435800"/><stop offset=".409" stop-color="#4c5900"/><stop offset=".437" stop-color="#585f00"/><stop offset=".462" stop-color="#69632c"/><stop offset=".482" stop-color="#7d676d"/><stop offset=".510" stop-color="#826c6d"/><stop offset=".539" stop-color="#7c726d"/><stop offset=".563" stop-color="#73762c"/><stop offset=".591" stop-color="#6f7c00"/><stop offset=".652" stop-color="#6b8f00"/><stop offset=".713" stop-color="#70a700"/><stop offset=".754" stop-color="#79b700"/><stop offset=".855" stop-color="#99e100"/><stop offset=".887" stop-color="#a5ef00"/><stop offset=".904" stop-color="#aef300"/><stop offset=".920" stop-color="#bcf500"/><stop offset=".944" stop-color="#ccf900"/><stop offset=".968" stop-color="#d7fc00"/><stop offset=".994" stop-color="#e0ff00"/></linearGradient>
<linearGradient id="g110" x2="0" y2="1"><stop offset=".004" stop-color="#2f4c00"/><stop offset=".125" stop-color="#315000"/><stop offset=".247" stop-color="#345400"/><stop offset=".328" stop-color="#3b5700"/><stop offset=".368" stop-color="#425800"/><stop offset=".409" stop-color="#4b5900"/><stop offset=".437" stop-color="#585f00"/><stop offset=".462" stop-color="#69632b"/><stop offset=".482" stop-color="#7d676c"/><stop offset=".510" stop-color="#826c6c"/><stop offset=".539" stop-color="#7c726c"/><stop offset=".563" stop-color="#73762b"/><stop offset=".591" stop-color="#6f7c00"/><stop offset=".652" stop-color="#6b8f00"/><stop offset=".713" stop-color="#70a700"/><stop offset=".754" stop-color="#7ab700"/><stop offset=".855" stop-color="#9ae100"/><stop offset=".887" stop-color="#a6ef00"/><stop offset=".904" stop-color="#aff300"/><stop offset=".920" stop-color="#bef500"/><stop offset=".944" stop-color="#cff900"/><stop offset=".968" stop-color="#d9fc00"/><stop offset=".994" stop-color="#e2ff00"/></linearGradient>
<linearGradient id="g111" x2="0" y2="1"><stop offset=".004" stop-color="#2f4c00"/><stop offset=".125" stop-color="#305000"/><stop offset=".247" stop-color="#335400"/><stop offset=".328" stop-color="#3a5700"/><stop offset=".368" stop-color="#415800"/><stop offset=".409" stop-color="#4a5900"/><stop offset=".437" stop-color="#575f00"/><stop offset=".462" stop-color="#69632b"/><stop offset=".482" stop-color="#7d676b"/><stop offset=".510" stop-color="#826c6b"/><stop offset=".539" stop-color="#7c726b"/><stop offset=".563" stop-color="#73762b"/><stop offset=".591" stop-color="#6f7c00"/><stop offset=".652" stop-color="#6c8f00"/><stop offset=".713" stop-color="#70a700"/><stop offset=".754" stop-color="#7ab700"/><stop offset=".855" stop-color="#9be100"/><stop offset=".887" stop-color="#a7ef00"/><stop offset=".904" stop-color="#b1f300"/><stop offset=".920" stop-color="#c0f500"/><stop offset=".944" stop-color="#d1f900"/><stop offset=".968" stop-color="#dbfc00"/><stop offset=".994" stop-color="#e4ff00"/></linearGradient>
<linearGradient id="g112" x2="0" y2="1"><stop offset=".004" stop-color="#2e4c00"/><stop offset=".125" stop-color="#305000"/><stop offset=".247" stop-color="#335400"/><stop offset=".328" stop-color="#3a5700"/><stop offset=".368" stop-color="#405800"/><stop offset=".409" stop-color="#4a5900"/><stop offset=".437" stop-color="#575f00"/><stop offset=".462" stop-color="#69632a"/><stop offset=".482" stop-color="#7d676a"/><stop offset=".510" stop-color="#826c6a"/><stop offset=".539" stop-color="#7c726a"/><stop offset=".563" stop-color="#73762a"/><stop offset=".591" stop-color="#6f7c00"/><stop offset=".652" stop-color="#6c8f00"/><stop offset=".713" stop-color="#70a700"/><stop offset=".754" stop-color="#7ab700"/><stop offset=".855" stop-color="#9ce100"/><stop offset=".887" stop-color="#a8ef00"/><stop offset=".904" stop-color="#b2f300"/><stop offset=".920" stop-color="#c1f500"/><stop offset=".944" stop-color="#d3f900"/><stop offset=".968" stop-color="#ddfc00"/><stop offset=".994" stop-color="#e6ff00"/></linearGradient>
<linearGradient id="g113" x2="0" y2="1"><stop offset=".004" stop-color="#2e4c00"/><stop offset=".125" stop-color="#2f5000"/><stop offset=".247" stop-color="#335400"/><stop offset=".328" stop-color="#395700"/><stop offset=".368" stop-color="#405800"/><stop offset=".409" stop-color="#495900"/><stop offset=".437" stop-color="#575f00"/><stop offset=".462" stop-color="#69632a"/><stop offset=".482" stop-color="#7d6769"/><stop offset=".510" stop-color="#826c69"/><stop offset=".539" stop-color="#7c7269"/><stop offset=".563" stop-color="#74762a"/><stop offset=".591" stop-color="#6f7c00"/><stop offset=".652" stop-color="#6c8f00"/><stop offset=".713" stop-color="#70a700"/><stop offset=".754" stop-color="#7bb700"/><stop offset=".855" stop-color="#9ce100"/><stop offset=".887" stop-color="#a9ef00"/><stop offset=".904" stop-color="#b3f300"/><stop offset=".920" stop-color="#c3f500"/><stop offset=".944" stop-color="#d5f900"/><stop offset=".968" stop-color="#dffc00"/><stop offset=".994" stop-color="#e8ff00"/></linearGradient>
<linearGradient id="g114" x2="0" y2="1"><stop offset=".004" stop-color="#2d4c00"/><stop offset=".125" stop-color="#2f5000"/><stop offset=".247" stop-color="#325400"/><stop offset=".328" stop-color="#395700"/><stop offset=".368" stop-color="#3f5800"/><stop offset=".409" stop-color="#485900"/><stop offset=".437" stop-color="#565f00"/><stop offset=".462" stop-color="#69632a"/><stop offset=".482" stop-color="#7d6768"/><stop offset=".510" stop-color="#826c68"/><stop offset=".539" stop-color="#7c7268"/><stop offset=".563" stop-color="#74762a"/><stop offset=".591" stop-color="#6f7c00"/><stop offset=".652" stop-color="#6c8f00"/><stop offset=".713" stop-color="#70a700"/><stop offset=".754" stop-color="#7bb700"/><stop offset=".855" stop-color="#9de100"/><stop offset=".887" stop-color="#aaef00"/><stop offset=".904" stop-color="#b4f300"/><stop offset=".920" stop-color="#c5f500"/><stop offset=".944" stop-color="#d7f900"/><stop offset=".968" stop-color="#e1fc00"/><stop offset=".994" stop-color="#e9ff00"/></linearGradient>
<linearGradient id="g115" x2="0" y2="1"><stop offset=".004" stop-color="#2d4c00"/><stop offset=".125" stop-color="#2e5000"/><stop offset=".247" stop-color="#325400"/><stop offset=".328" stop-color="#385700"/><stop offset=".368" stop-color="#3e5800"/><stop offset=".409" stop-color="#485900"/><stop offset=".437" stop-color="#565f00"/><stop offset=".462" stop-color="#696329"/><stop offset=".482" stop-color="#7d6767"/><stop offset=".510" stop-color="#826c67"/><stop offset=".539" stop-color="#7c7267"/><stop offset=".563" stop-color="#747629"/><stop offset=".591" stop-color="#6f7c00"/><stop offset=".652" stop-color="#6c8f00"/><stop offset=".713" stop-color="#70a700"/><stop offset=".754" stop-color="#7bb700"/><stop offset=".855" stop-color="#9ee100"/><stop offset=".887" stop-color="#aaef00"/><stop offset=".904" stop-color="#b5f300"/><stop offset=".920" stop-color="#c6f500"/><stop offset=".944" stop-color="#d9f900"/><stop offset=".968" stop-color="#e3fc00"/><stop offset=".994" stop-color="#ebff00"/></linearGradient>
<linearGradient id="g116" x2="0" y2="1"><stop offset=".004" stop-color="#2d4c00"/><stop offset=".125" stop-color="#2e5000"/><stop offset=".247" stop-color="#315400"/><stop offset=".328" stop-color="#385700"/><stop offset=".368" stop-color="#3e5800"/><stop offset=".409" stop-color="#475900"/><stop offset=".437" stop-color="#565f00"/><stop offset=".462" stop-color="#696329"/><stop offset=".482" stop-color="#7d6766"/><stop offset=".510" stop-color="#826c66"/><stop offset=".539" stop-color="#7c7266"/><stop offset=".563" stop-color="#747629"/><stop offset=".591" stop-color="#6f7c00"/><stop offset=".652" stop-color="#6c8f00"/><stop offset=".713" stop-color="#71a700"/><stop offset=".754" stop-color="#7cb700"/><stop offset=".855" stop-color="#9ee100"/><stop offset=".887" stop-color="#abef00"/><stop offset=".904" stop-color="#b6f300"/><stop offset=".920" stop-color="#c8f500"/><stop offset=".944" stop-color="#daf900"/><stop offset=".968" stop-color="#e4fc00"/><stop offset=".994" stop-color="#ecff00"/></linearGradient>
<linearGradient id="g117" x2="0" y2="1"><stop offset=".004" stop-color="#754c00"/><stop offset=".409" stop-color="#755900"/><stop offset=".462" stop-color="#756300"/><stop offset=".482" stop-color="#7d6700"/><stop offset=".510" stop-color="#826c00"/><stop offset=".563" stop-color="#757600"/><stop offset=".591" stop-color="#757c00"/><stop offset=".713" stop-color="#75a700"/><stop offset=".754" stop-color="#7cb700"/><stop offset=".855" stop-color="#9ee100"/><stop offset=".887" stop-color="#abef00"/><stop offset=".904" stop-color="#b6f300"/><stop offset=".920" stop-color="#c8f500"/><stop offset=".944" stop-color="#daf900"/><stop offset=".968" stop-color="#e4fc00"/><stop offset=".994" stop-color="#ecff00"/></linearGradient>
<linearGradient id="g118" x2="0" y2="1"><stop offset=".004" stop-color="#2e4c00"/><stop offset=".125" stop-color="#305000"/><stop offset=".247" stop-color="#335400"/><stop offset=".328" stop-color="#395700"/><stop offset=".368" stop-color="#405800"/><stop offset=".409" stop-color="#495900"/><stop offset=".437" stop-color="#575f00"/><stop offset=".462" stop-color="#69632c"/><stop offset=".482" stop-color="#7d676d"/><stop offset=".510" stop-color="#826c6d"/><stop offset=".539" stop-color="#7c726d"/><stop offset=".563" stop-color="#74762c"/><stop offset=".591" stop-color="#6f7c00"/><stop offset=".652" stop-color="#6c8f00"/><stop offset=".713" stop-color="#70a700"/><stop offset=".754" stop-color="#7bb700"/><stop offset=".855" stop-color="#9ce100"/><stop offset=".887" stop-color="#a8ef00"/><stop offset=".904" stop-color="#b3f300"/><stop offset=".920" stop-color="#c3f500"/><stop offset=".944" stop-color="#d4f900"/><stop offset=".968" stop-color="#dffc00"/><stop offset=".994" stop-color="#e7ff00"/></linearGradient>
<linearGradient id="g119" x2="0" y2="1"><stop offset=".004" stop-color="#2f4c00"/><stop offset=".125" stop-color="#315000"/><stop offset=".247" stop-color="#345400"/><stop offset=".328" stop-color="#3b5700"/><stop offset=".368" stop-color="#425800"/><stop offset=".409" stop-color="#4b5900"/><stop offset=".437" stop-color="#585f00"/><stop offset=".462" stop-color="#696330"/><stop offset=".482" stop-color="#7d6779"/><stop offset=".510" stop-color="#826c79"/><stop offset=".539" stop-color="#7c7279"/><stop offset=".563" stop-color="#737630"/><stop offset=".591" stop-color="#6f7c00"/><stop offset=".652" stop-color="#6b8f00"/><stop offset=".713" stop-color="#70a700"/><stop offset=".754" stop-color="#7ab700"/><stop offset=".855" stop-color="#9ae100"/><stop offset=".887" stop-color="#a5ef00"/><stop offset=".904" stop-color="#aff300"/><stop offset=".920" stop-color="#bdf500"/><stop offset=".944" stop-color="#cef900"/><stop offset=".968" stop-color="#d9fc00"/><stop offset=".994" stop-color="#e2ff00"/></linearGradient>
<linearGradient id="g120" x2="0" y2="1"><stop offset=".004" stop-color="#534c00"/><stop offset=".247" stop-color="#545400"/><stop offset=".328" stop-color="#575700"/><stop offset=".409" stop-color="#5c5900"/><stop offset=".437" stop-color="#5f5f00"/><stop offset=".462" stop-color="#696310"/><stop offset=".482" stop-color="#7d6729"/><stop offset=".510" stop-color="#826c29"/><stop offset=".539" stop-color="#7c7229"/><stop offset=".563" stop-color="#737610"/><stop offset=".591" stop-color="#6e7c00"/><stop offset=".652" stop-color="#6b8f00"/><stop offset=".713" stop-color="#6fa700"/><stop offset=".754" stop-color="#79b700"/><stop offset=".855" stop-color="#97e100"/><stop offset=".887" stop-color="#a2ef00"/><stop offset=".904" stop-color="#abf300"/><stop offset=".920" stop-color="#b8f500"/><stop offset=".944" stop-color="#c7f900"/><stop offset=".968" stop-color="#d3fc00"/><stop offset=".994" stop-color="#dcff00"/></linearGradient>
<linearGradient id="g121" x2="0" y2="1"><stop offset=".004" stop-color="#534c00"/><stop offset=".247" stop-color="#555400"/><stop offset=".328" stop-color="#575700"/><stop offset=".409" stop-color="#5c5900"/><stop offset=".437" stop-color="#605f00"/><stop offset=".462" stop-color="#696312"/><stop offset=".482" stop-color="#7d672e"/><stop offset=".510" stop-color="#826c2e"/><stop offset=".539" stop-color="#7c722e"/><stop offset=".563" stop-color="#737612"/><stop offset=".591" stop-color="#6e7c00"/><stop offset=".652" stop-color="#6b8f00"/><stop offset=".713" stop-color="#6fa700"/><stop offset=".754" stop-color="#78b700"/><stop offset=".855" stop-color="#96e100"/><stop offset=".887" stop-color="#a1ef00"/><stop offset=".904" stop-color="#aaf300"/><stop offset=".920" stop-color="#b6f500"/><stop offset=".944" stop-color="#c4f900"/><stop offset=".968" stop-color="#d0fc00"/><stop offset=".994" stop-color="#daff00"/></linearGradient>
<linearGradient id="g122" x2="0" y2="1"><stop offset=".004" stop-color="#334c00"/><stop offset=".125" stop-color="#345000"/><stop offset=".247" stop-color="#375400"/><stop offset=".328" stop-color="#405700"/><stop offset=".368" stop-color="#475800"/><stop offset=".409" stop-color="#4f5900"/><stop offset=".437" stop-color="#5a5f00"/><stop offset=".462" stop-color="#6a6343"/><stop offset=".482" stop-color="#7d67a8"/><stop offset=".510" stop-color="#826ca8"/><stop offset=".539" stop-color="#7c72a8"/><stop offset=".563" stop-color="#737643"/><stop offset=".591" stop-color="#6e7c00"/><stop offset=".652" stop-color="#6b8f00"/><stop offset=".713" stop-color="#6fa700"/><stop offset=".754" stop-color="#77b700"/><stop offset=".855" stop-color="#96e100"/><stop offset=".887" stop-color="#a2ef00"/><stop offset=".904" stop-color="#aaf300"/><stop offset=".920" stop-color="#b5f500"/><stop offset=".944" stop-color="#c3f900"/><stop offset=".968" stop-color="#cffc00"/><stop offset=".994" stop-color="#d9ff00"/></linearGradient>
<linearGradient id="g123" x2="0" y2="1"><stop offset=".004" stop-color="#344c00"/><stop offset=".125" stop-color="#365000"/><stop offset=".247" stop-color="#395400"/><stop offset=".328" stop-color="#415700"/><stop offset=".409" stop-color="#515900"/><stop offset=".437" stop-color="#5b5f00"/><stop offset=".462" stop-color="#6a634c"/><stop offset=".482" stop-color="#7d67bd"/><stop offset=".510" stop-color="#826cbd"/><stop offset=".539" stop-color="#7c72bd"/><stop offset=".563" stop-color="#73764c"/><stop offset=".591" stop-color="#6e7c00"/><stop offset=".652" stop-color="#6b8f00"/><stop offset=".713" stop-color="#6ea700"/><stop offset=".754" stop-color="#76b700"/><stop offset=".855" stop-color="#96e100"/><stop offset=".887" stop-color="#a3ef00"/><stop offset=".904" stop-color="#abf300"/><stop offset=".920" stop-color="#b5f500"/><stop offset=".968" stop-color="#cffc00"/><stop offset=".994" stop-color="#d8ff00"/></linearGradient>
<linearGradient id="g124" x2="0" y2="1"><stop offset=".004" stop-color="#354c00"/><stop offset=".125" stop-color="#375000"/><stop offset=".247" stop-color="#3a5400"/><stop offset=".328" stop-color="#435700"/><stop offset=".409" stop-color="#535900"/><stop offset=".437" stop-color="#5c5f00"/><stop offset=".462" stop-color="#6a634f"/><stop offset=".482" stop-color="#7d67c6"/><stop offset=".510" stop-color="#826cc6"/><stop offset=".539" stop-color="#7c72c6"/><stop offset=".563" stop-color="#72764f"/><stop offset=".591" stop-color="#6e7c00"/><stop offset=".652" stop-color="#6b8f00"/><stop offset=".713" stop-color="#6ea700"/><stop offset=".754" stop-color="#75b700"/><stop offset=".855" stop-color="#97e100"/><stop offset=".887" stop-color="#a4ef00"/><stop offset=".904" stop-color="#abf300"/><stop offset=".968" stop-color="#cffc00"/><stop offset=".994" stop-color="#d7ff00"/></linearGradient>
<linearGradient id="g125" x2="0" y2="1"><stop offset=".004" stop-color="#364c00"/><stop offset=".125" stop-color="#385000"/><stop offset=".247" stop-color="#3b5400"/><stop offset=".328" stop-color="#445700"/><stop offset=".409" stop-color="#545900"/><stop offset=".437" stop-color="#5d5f00"/><stop offset=".462" stop-color="#6a6351"/><stop offset=".482" stop-color="#7d67cb"/><stop offset=".510" stop-color="#826ccb"/><stop offset=".539" stop-color="#7c72cb"/><stop offset=".563" stop-color="#727651"/><stop offset=".591" stop-color="#6e7c00"/><stop offset=".652" stop-color="#6a8f00"/><stop offset=".713" stop-color="#6ea700"/><stop offset=".754" stop-color="#75b700"/><stop offset=".855" stop-color="#96e100"/><stop offset=".904" stop-color="#aaf300"/><stop offset=".944" stop-color="#bff900"/><stop offset=".968" stop-color="#ccfc00"/><stop offset=".994" stop-color="#d4ff00"/></linearGradient>
<linearGradient id="g126" x2="0" y2="1"><stop offset=".004" stop-color="#374c00"/><stop offset=".125" stop-color="#395000"/><stop offset=".247" stop-color="#3c5400"/><stop offset=".328" stop-color="#455700"/><stop offset=".409" stop-color="#555900"/><stop offset=".437" stop-color="#5d5f00"/><stop offset=".462" stop-color="#6a6353"/><stop offset=".482" stop-color="#7d67cf"/><stop offset=".510" stop-color="#826ccf"/><stop offset=".539" stop-color="#7c72cf"/><stop offset=".563" stop-color="#727653"/><stop offset=".591" stop-color="#6d7c00"/><stop offset=".652" stop-color="#6a8f00"/><stop offset=".713" stop-color="#6ea700"/><stop offset=".754" stop-color="#74b700"/><stop offset=".855" stop-color="#95e100"/><stop offset=".904" stop-color="#a8f300"/><stop offset=".944" stop-color="#bbf900"/><stop offset=".968" stop-color="#c9fc00"/><stop offset=".994" stop-color="#d1ff00"/></linearGradient>
<linearGradient id="g127" x2="0" y2="1"><stop offset=".004" stop-color="#384c00"/><stop offset=".125" stop-color="#395000"/><stop offset=".247" stop-color="#3c5400"/><stop offset=".328" stop-color="#465700"/><stop offset=".409" stop-color="#565900"/><stop offset=".437" stop-color="#5e5f00"/><stop offset=".462" stop-color="#6a6354"/><stop offset=".482" stop-color="#7d67d2"/><stop offset=".510" stop-color="#826cd2"/><stop offset=".539" stop-color="#7c72d2"/><stop offset=".563" stop-color="#727654"/><stop offset=".591" stop-color="#6d7c00"/><stop offset=".652" stop-color="#6a8f00"/><stop offset=".713" stop-color="#6da700"/><stop offset=".754" stop-color="#74b700"/><stop offset=".855" stop-color="#94e100"/><stop offset=".904" stop-color="#a7f300"/><stop offset=".944" stop-color="#b9f900"/><stop offset=".968" stop-color="#c7fc00"/><stop offset=".994" stop-color="#cfff00"/></linearGradient>
<linearGradient id="g128" x2="0" y2="1"><stop offset=".004" stop-color="#394c00"/><stop offset=".125" stop-color="#3b5000"/><stop offset=".247" stop-color="#3d5400"/><stop offset=".328" stop-color="#445700"/><stop offset=".368" stop-color="#4a5800"/><stop offset=".409" stop-color="#535900"/><stop offset=".437" stop-color="#595f00"/><stop offset=".462" stop-color="#626338"/><stop offset=".482" stop-color="#6f678c"/><stop offset=".510" stop-color="#736c8c"/><stop offset=".539" stop-color="#6f728c"/><stop offset=".563" stop-color="#697638"/><stop offset=".591" stop-color="#677c00"/><stop offset=".652" stop-color="#698f00"/><stop offset=".713" stop-color="#6ea700"/><stop offset=".754" stop-color="#73b700"/><stop offset=".827" stop-color="#87d500"/><stop offset=".887" stop-color="#9bef00"/><stop offset=".920" stop-color="#a8f500"/><stop offset=".944" stop-color="#b3f900"/><stop offset=".968" stop-color="#c0fc00"/><stop offset=".994" stop-color="#c9ff00"/></linearGradient>
<linearGradient id="g129" x2="0" y2="1"><stop offset=".004" stop-color="#3b4c00"/><stop offset=".247" stop-color="#3e5400"/><stop offset=".328" stop-color="#435700"/><stop offset=".368" stop-color="#475800"/><stop offset=".409" stop-color="#505900"/><stop offset=".437" stop-color="#555f00"/><stop offset=".462" stop-color="#5a631c"/><stop offset=".482" stop-color="#616746"/><stop offset=".510" stop-color="#646c46"/><stop offset=".539" stop-color="#627246"/><stop offset=".563" stop-color="#60761c"/><stop offset=".591" stop-color="#617c00"/><stop offset=".713" stop-color="#6fa700"/><stop offset=".754" stop-color="#72b700"/><stop offset=".827" stop-color="#83d500"/><stop offset=".887" stop-color="#96ef00"/><stop offset=".920" stop-color="#a3f500"/><stop offset=".944" stop-color="#adf900"/><stop offset=".968" stop-color="#b9fc00"/><stop offset=".994" stop-color="#c3ff00"/></linearGradient>
<linearGradient id="g130" x2="0" y2="1"><stop offset=".004" stop-color="#3c4c00"/><stop offset=".247" stop-color="#3f5400"/><stop offset=".328" stop-color="#415700"/><stop offset=".368" stop-color="#435800"/><stop offset=".409" stop-color="#4d5900"/><stop offset=".437" stop-color="#515f00"/><stop offset=".563" stop-color="#577600"/><stop offset=".591" stop-color="#5a7c00"/><stop offset=".652" stop-color="#678f00"/><stop offset=".713" stop-color="#6fa700"/><stop offset=".754" stop-color="#71b700"/><stop offset=".794" stop-color="#78c800"/><stop offset=".827" stop-color="#80d500"/><stop offset=".887" stop-color="#92ef00"/><stop offset=".920" stop-color="#9ef500"/><stop offset=".968" stop-color="#b3fc00"/><stop offset=".994" stop-color="#bcff00"/></linearGradient>
<linearGradient id="g131" x2="0" y2="1"><stop offset=".004" stop-color="#714c00"/><stop offset=".368" stop-color="#715800"/><stop offset=".409" stop-color="#725900"/><stop offset=".591" stop-color="#737c00"/><stop offset=".713" stop-color="#75a700"/><stop offset=".754" stop-color="#75b700"/><stop offset=".794" stop-color="#78c800"/><stop offset=".827" stop-color="#80d500"/><stop offset=".887" stop-color="#92ef00"/><stop offset=".920" stop-color="#9ef500"/><stop offset=".968" stop-color="#b3fc00"/><stop offset=".994" stop-color="#bcff00"/></linearGradient>
<linearGradient id="g132" x2="0" y2="1"><stop offset=".004" stop-color="#3c4c00"/><stop offset=".247" stop-color="#3f5400"/><stop offset=".328" stop-color="#415700"/><stop offset=".368" stop-color="#445800"/><stop offset=".409" stop-color="#4d5900"/><stop offset=".437" stop-color="#515f00"/><stop offset=".539" stop-color="#567201"/><stop offset=".563" stop-color="#577600"/><stop offset=".591" stop-color="#5b7c00"/><stop offset=".652" stop-color="#678f00"/><stop offset=".713" stop-color="#6fa700"/><stop offset=".754" stop-color="#71b700"/><stop offset=".794" stop-color="#78c800"/><stop offset=".827" stop-color="#80d500"/><stop offset=".887" stop-color="#92ef00"/><stop offset=".920" stop-color="#9ef500"/><stop offset=".968" stop-color="#b3fc00"/><stop offset=".994" stop-color="#bdff00"/></linearGradient>
<linearGradient id="g133" x2="0" y2="1"><stop offset=".004" stop-color="#3b4c00"/><stop offset=".247" stop-color="#3e5400"/><stop offset=".328" stop-color="#425700"/><stop offset=".368" stop-color="#465800"/><stop offset=".409" stop-color="#4f5900"/><stop offset=".437" stop-color="#545f00"/><stop offset=".462" stop-color="#586314"/><stop offset=".482" stop-color="#5d6733"/><stop offset=".510" stop-color="#5f6c33"/><stop offset=".539" stop-color="#5e7233"/><stop offset=".563" stop-color="#5d7614"/><stop offset=".591" stop-color="#5f7c00"/><stop offset=".652" stop-color="#688f00"/><stop offset=".713" stop-color="#6fa700"/><stop offset=".754" stop-color="#71b700"/><stop offset=".827" stop-color="#82d500"/><stop offset=".887" stop-color="#95ef00"/><stop offset=".920" stop-color="#a1f500"/><stop offset=".944" stop-color="#abf900"/><stop offset=".968" stop-color="#b7fc00"/><stop offset=".994" stop-color="#c1ff00"/></linearGradient>
<linearGradient id="g134" x2="0" y2="1"><stop offset=".004" stop-color="#3a4c00"/><stop offset=".247" stop-color="#3e5400"/><stop offset=".328" stop-color="#435700"/><stop offset=".368" stop-color="#485800"/><stop offset=".409" stop-color="#505900"/><stop offset=".437" stop-color="#565f00"/><stop offset=".462" stop-color="#5d6327"/><stop offset=".482" stop-color="#656761"/><stop offset=".510" stop-color="#686c61"/><stop offset=".539" stop-color="#667261"/><stop offset=".563" stop-color="#637627"/><stop offset=".591" stop-color="#627c00"/><stop offset=".713" stop-color="#6ea700"/><stop offset=".754" stop-color="#72b700"/><stop offset=".827" stop-color="#84d500"/><stop offset=".887" stop-color="#98ef00"/><stop offset=".920" stop-color="#a4f500"/><stop offset=".944" stop-color="#aff900"/><stop offset=".968" stop-color="#bbfc00"/><stop offset=".994" stop-color="#c5ff00"/></linearGradient>
<linearGradient id="g135" x2="0" y2="1"><stop offset=".004" stop-color="#394c00"/><stop offset=".125" stop-color="#3b5000"/><stop offset=".247" stop-color="#3d5400"/><stop offset=".328" stop-color="#445700"/><stop offset=".368" stop-color="#4a5800"/><stop offset=".409" stop-color="#525900"/><stop offset=".437" stop-color="#595f00"/><stop offset=".462" stop-color="#616339"/><stop offset=".482" stop-color="#6e678f"/><stop offset=".510" stop-color="#716c8f"/><stop offset=".539" stop-color="#6e728f"/><stop offset=".563" stop-color="#687639"/><stop offset=".591" stop-color="#667c00"/><stop offset=".652" stop-color="#698f00"/><stop offset=".713" stop-color="#6ea700"/><stop offset=".754" stop-color="#73b700"/><stop offset=".827" stop-color="#87d500"/><stop offset=".887" stop-color="#9bef00"/><stop offset=".920" stop-color="#a8f500"/><stop offset=".944" stop-color="#b2f900"/><stop offset=".968" stop-color="#c0fc00"/><stop offset=".994" stop-color="#c8ff00"/></linearGradient>
<linearGradient id="g136" x2="0" y2="1"><stop offset=".004" stop-color="#384c00"/><stop offset=".125" stop-color="#3a5000"/><stop offset=".247" stop-color="#3d5400"/><stop offset=".328" stop-color="#455700"/><stop offset=".409" stop-color="#545900"/><stop offset=".437" stop-color="#5b5f00"/><stop offset=".462" stop-color="#66634c"/><stop offset=".482" stop-color="#7667be"/><stop offset=".510" stop-color="#7a6cbe"/><stop offset=".539" stop-color="#7572be"/><stop offset=".563" stop-color="#6d764c"/><stop offset=".591" stop-color="#6a7c00"/><stop offset=".652" stop-color="#6a8f00"/><stop offset=".713" stop-color="#6ea700"/><stop offset=".754" stop-color="#73b700"/><stop offset=".855" stop-color="#92e100"/><stop offset=".904" stop-color="#a4f300"/><stop offset=".944" stop-color="#b6f900"/><stop offset=".968" stop-color="#c4fc00"/><stop offset=".994" stop-color="#ccff00"/></linearGradient>
<linearGradient id="g137" x2="0" y2="1"><stop offset=".004" stop-color="#384c00"/><stop offset=".125" stop-color="#395000"/><stop offset=".247" stop-color="#3c5400"/><stop offset=".328" stop-color="#465700"/><stop offset=".409" stop-color="#565900"/><stop offset=".437" stop-color="#5e5f00"/><stop offset=".462" stop-color="#6a635c"/><stop offset=".482" stop-color="#7d67e6"/><stop offset=".510" stop-color="#826ce6"/><stop offset=".539" stop-color="#7c72e6"/><stop offset=".563" stop-color="#72765c"/><stop offset=".591" stop-color="#6d7c00"/><stop offset=".652" stop-color="#6a8f00"/><stop offset=".713" stop-color="#6da700"/><stop offset=".754" stop-color="#74b700"/><stop offset=".855" stop-color="#94e100"/><stop offset=".904" stop-color="#a7f300"/><stop offset=".944" stop-color="#b9f900"/><stop offset=".968" stop-color="#c7fc00"/><stop offset=".994" stop-color="#cfff00"/></linearGradient>
<linearGradient id="g138" x2="0" y2="1"><stop offset=".004" stop-color="#6d4c00"/><stop offset=".328" stop-color="#6f5700"/><stop offset=".409" stop-color="#705900"/><stop offset=".462" stop-color="#726307"/><stop offset=".482" stop-color="#7d6712"/><stop offset=".510" stop-color="#826c12"/><stop offset=".539" stop-color="#7c7212"/><stop offset=".563" stop-color="#727607"/><stop offset=".591" stop-color="#727c00"/><stop offset=".713" stop-color="#72a700"/><stop offset=".754" stop-color="#74b700"/><stop offset=".855" stop-color="#94e100"/><stop offset=".904" stop-color="#a7f300"/><stop offset=".944" stop-color="#b9f900"/><stop offset=".968" stop-color="#c7fc00"/><stop offset=".994" stop-color="#cfff00"/></linearGradient>
<linearGradient id="g139" x2="0" y2="1"><stop offset=".004" stop-color="#394c00"/><stop offset=".125" stop-color="#3b5000"/><stop offset=".247" stop-color="#3e5400"/><stop offset=".328" stop-color="#465700"/><stop offset=".409" stop-color="#555900"/><stop offset=".437" stop-color="#5c5f00"/><stop offset=".462" stop-color="#676354"/><stop offset=".482" stop-color="#7967d3"/><stop offset=".510" stop-color="#7d6cd3"/><stop offset=".539" stop-color="#7772d3"/><stop offset=".563" stop-color="#6f7654"/><stop offset=".591" stop-color="#6a7c00"/><stop offset=".652" stop-color="#688f00"/><stop offset=".713" stop-color="#6ca700"/><stop offset=".754" stop-color="#73b700"/><stop offset=".855" stop-color="#92e100"/><stop offset=".904" stop-color="#a5f300"/><stop offset=".944" stop-color="#b7f900"/><stop offset=".968" stop-color="#c5fc00"/><stop offset=".994" stop-color="#ceff00"/></linearGradient>
<linearGradient id="g140" x2="0" y2="1"><stop offset=".004" stop-color="#564c00"/><stop offset=".409" stop-color="#575900"/><stop offset=".462" stop-color="#586308"/><stop offset=".482" stop-color="#5a6714"/><stop offset=".539" stop-color="#597214"/><stop offset=".591" stop-color="#587c00"/><stop offset=".652" stop-color="#5a8f00"/><stop offset=".713" stop-color="#62a700"/><stop offset=".754" stop-color="#6db700"/><stop offset=".794" stop-color="#77c800"/><stop offset=".855" stop-color="#84e100"/><stop offset=".887" stop-color="#8def00"/><stop offset=".920" stop-color="#99f500"/><stop offset=".944" stop-color="#a3f900"/><stop offset=".994" stop-color="#bfff00"/></linearGradient>
<linearGradient id="g141" x2="0" y2="1"><stop offset=".004" stop-color="#504c00"/><stop offset=".409" stop-color="#515900"/><stop offset=".437" stop-color="#525f00"/><stop offset=".462" stop-color="#53630d"/><stop offset=".482" stop-color="#566721"/><stop offset=".510" stop-color="#566c21"/><stop offset=".539" stop-color="#557221"/><stop offset=".591" stop-color="#537c00"/><stop offset=".652" stop-color="#578f00"/><stop offset=".713" stop-color="#62a700"/><stop offset=".754" stop-color="#6db700"/><stop offset=".794" stop-color="#77c800"/><stop offset=".855" stop-color="#84e100"/><stop offset=".887" stop-color="#8def00"/><stop offset=".920" stop-color="#99f500"/><stop offset=".944" stop-color="#a3f900"/><stop offset=".994" stop-color="#bfff00"/></linearGradient>
<linearGradient id="g142" x2="0" y2="1"><stop offset=".004" stop-color="#494c00"/><stop offset=".247" stop-color="#4a5400"/><stop offset=".409" stop-color="#4c5900"/><stop offset=".437" stop-color="#4d5f00"/><stop offset=".462" stop-color="#4f6312"/><stop offset=".482" stop-color="#52672e"/><stop offset=".510" stop-color="#526c2e"/><stop offset=".539" stop-color="#51722e"/><stop offset=".563" stop-color="#4f7612"/><stop offset=".591" stop-color="#4f7c00"/><stop offset=".652" stop-color="#538f00"/><stop offset=".713" stop-color="#62a700"/><stop offset=".754" stop-color="#6db700"/><stop offset=".794" stop-color="#77c800"/><stop offset=".855" stop-color="#84e100"/><stop offset=".887" stop-color="#8def00"/><stop offset=".920" stop-color="#99f500"/><stop offset=".944" stop-color="#a3f900"/><stop offset=".994" stop-color="#bfff00"/></linearGradient>
<linearGradient id="g143" x2="0" y2="1"><stop offset=".004" stop-color="#3d4c00"/><stop offset=".247" stop-color="#405400"/><stop offset=".328" stop-color="#475700"/><stop offset=".409" stop-color="#535900"/><stop offset=".437" stop-color="#595f00"/><stop offset=".462" stop-color="#636347"/><stop offset=".482" stop-color="#7167b2"/><stop offset=".510" stop-color="#756cb2"/><stop offset=".539" stop-color="#7072b2"/><stop offset=".563" stop-color="#687647"/><stop offset=".591" stop-color="#657c00"/><stop offset=".652" stop-color="#648f00"/><stop offset=".713" stop-color="#6aa700"/><stop offset=".754" stop-color="#72b700"/><stop offset=".855" stop-color="#8fe100"/><stop offset=".904" stop-color="#a1f300"/><stop offset=".944" stop-color="#b3f900"/><stop offset=".968" stop-color="#c1fc00"/><stop offset=".994" stop-color="#cbff00"/></linearGradient>
<linearGradient id="g144" x2="0" y2="1"><stop offset=".004" stop-color="#3d4c00"/><stop offset=".247" stop-color="#415400"/><stop offset=".328" stop-color="#485700"/><stop offset=".409" stop-color="#525900"/><stop offset=".437" stop-color="#585f00"/><stop offset=".462" stop-color="#616344"/><stop offset=".482" stop-color="#6f67aa"/><stop offset=".510" stop-color="#736caa"/><stop offset=".539" stop-color="#6e72aa"/><stop offset=".563" stop-color="#677644"/><stop offset=".591" stop-color="#647c00"/><stop offset=".652" stop-color="#638f00"/><stop offset=".713" stop-color="#6aa700"/><stop offset=".754" stop-color="#72b700"/><stop offset=".855" stop-color="#8fe100"/><stop offset=".904" stop-color="#a0f300"/><stop offset=".944" stop-color="#b2f900"/><stop offset=".968" stop-color="#c0fc00"/><stop offset=".994" stop-color="#caff00"/></linearGradient>
<linearGradient id="g145" x2="0" y2="1"><stop offset=".004" stop-color="#4e4c00"/><stop offset=".328" stop-color="#4c5700"/><stop offset=".409" stop-color="#495900"/><stop offset=".539" stop-color="#467201"/><stop offset=".591" stop-color="#477c00"/><stop offset=".652" stop-color="#4e8f00"/><stop offset=".713" stop-color="#5fa700"/><stop offset=".754" stop-color="#6cb700"/><stop offset=".794" stop-color="#75c800"/><stop offset=".855" stop-color="#81e100"/><stop offset=".887" stop-color="#88ef00"/><stop offset=".920" stop-color="#94f500"/><stop offset=".944" stop-color="#9ef900"/><stop offset=".968" stop-color="#abfc00"/><stop offset=".994" stop-color="#bbff00"/></linearGradient>
<linearGradient id="g146" x2="0" y2="1"><stop offset=".004" stop-color="#694c00"/><stop offset=".409" stop-color="#685900"/><stop offset=".591" stop-color="#677c00"/><stop offset=".652" stop-color="#698f00"/><stop offset=".754" stop-color="#6eb700"/><stop offset=".827" stop-color="#7bd500"/><stop offset=".887" stop-color="#88ef00"/><stop offset=".920" stop-color="#94f500"/><stop offset=".944" stop-color="#9ef900"/><stop offset=".968" stop-color="#abfc00"/><stop offset=".994" stop-color="#bbff00"/></linearGradient>
<linearGradient id="g147" x2="0" y2="1"><stop offset=".004" stop-color="#4e4c00"/><stop offset=".247" stop-color="#4d5400"/><stop offset=".328" stop-color="#4c5700"/><stop offset=".409" stop-color="#495900"/><stop offset=".539" stop-color="#467200"/><stop offset=".591" stop-color="#477c00"/><stop offset=".652" stop-color="#4e8f00"/><stop offset=".713" stop-color="#5fa700"/><stop offset=".754" stop-color="#6cb700"/><stop offset=".794" stop-color="#75c800"/><stop offset=".855" stop-color="#81e100"/><stop offset=".887" stop-color="#88ef00"/><stop offset=".920" stop-color="#94f500"/><stop offset=".944" stop-color="#9ef900"/><stop offset=".968" stop-color="#abfc00"/><stop offset=".994" stop-color="#bbff00"/></linearGradient>
<linearGradient id="g148" x2="0" y2="1"><stop offset=".004" stop-color="#3e4c00"/><stop offset=".247" stop-color="#415400"/><stop offset=".328" stop-color="#455700"/><stop offset=".409" stop-color="#4c5900"/><stop offset=".437" stop-color="#4e5f00"/><stop offset=".462" stop-color="#53631d"/><stop offset=".482" stop-color="#596749"/><stop offset=".510" stop-color="#5b6c49"/><stop offset=".539" stop-color="#597249"/><stop offset=".563" stop-color="#57761d"/><stop offset=".591" stop-color="#577c00"/><stop offset=".652" stop-color="#5d8f00"/><stop offset=".754" stop-color="#71b700"/><stop offset=".827" stop-color="#82d500"/><stop offset=".887" stop-color="#95ef00"/><stop offset=".920" stop-color="#a1f500"/><stop offset=".944" stop-color="#acf900"/><stop offset=".968" stop-color="#b8fc00"/><stop offset=".994" stop-color="#c2ff00"/></linearGradient>
<linearGradient id="g149" x2="0" y2="1"><stop offset=".004" stop-color="#3a4c00"/><stop offset=".247" stop-color="#3e5400"/><stop offset=".328" stop-color="#435700"/><stop offset=".409" stop-color="#4c5900"/><stop offset=".437" stop-color="#505f00"/><stop offset=".462" stop-color="#556323"/><stop offset=".482" stop-color="#5d6759"/><stop offset=".510" stop-color="#5f6c59"/><stop offset=".539" stop-color="#5d7259"/><stop offset=".563" stop-color="#5a7623"/><stop offset=".591" stop-color="#5a7c00"/><stop offset=".652" stop-color="#618f00"/><stop offset=".754" stop-color="#72b700"/><stop offset=".827" stop-color="#84d500"/><stop offset=".887" stop-color="#97ef00"/><stop offset=".920" stop-color="#a4f500"/><stop offset=".944" stop-color="#aff900"/><stop offset=".968" stop-color="#bbfc00"/><stop offset=".994" stop-color="#c4ff00"/></linearGradient>
<linearGradient id="g150" x2="0" y2="1"><stop offset=".004" stop-color="#394c00"/><stop offset=".125" stop-color="#3a5000"/><stop offset=".247" stop-color="#3d5400"/><stop offset=".328" stop-color="#445700"/><stop offset=".409" stop-color="#515900"/><stop offset=".437" stop-color="#575f00"/><stop offset=".462" stop-color="#60633e"/><stop offset=".482" stop-color="#6d679a"/><stop offset=".510" stop-color="#716c9a"/><stop offset=".539" stop-color="#6c729a"/><stop offset=".563" stop-color="#66763e"/><stop offset=".591" stop-color="#647c00"/><stop offset=".652" stop-color="#658f00"/><stop offset=".713" stop-color="#6ca700"/><stop offset=".754" stop-color="#73b700"/><stop offset=".827" stop-color="#87d500"/><stop offset=".887" stop-color="#9cef00"/><stop offset=".920" stop-color="#a9f500"/><stop offset=".944" stop-color="#b4f900"/><stop offset=".968" stop-color="#c1fc00"/><stop offset=".994" stop-color="#caff00"/></linearGradient>
<linearGradient id="g151" x2="0" y2="1"><stop offset=".004" stop-color="#384c00"/><stop offset=".125" stop-color="#3a5000"/><stop offset=".247" stop-color="#3d5400"/><stop offset=".328" stop-color="#455700"/><stop offset=".409" stop-color="#545900"/><stop offset=".437" stop-color="#5b5f00"/><stop offset=".462" stop-color="#66634d"/><stop offset=".482" stop-color="#7767c1"/><stop offset=".510" stop-color="#7b6cc1"/><stop offset=".539" stop-color="#7672c1"/><stop offset=".563" stop-color="#6d764d"/><stop offset=".591" stop-color="#6a7c00"/><stop offset=".652" stop-color="#688f00"/><stop offset=".713" stop-color="#6da700"/><stop offset=".754" stop-color="#73b700"/><stop offset=".855" stop-color="#92e100"/><stop offset=".904" stop-color="#a5f300"/><stop offset=".944" stop-color="#b7f900"/><stop offset=".968" stop-color="#c5fc00"/><stop offset=".994" stop-color="#cdff00"/></linearGradient>
<linearGradient id="g152" x2="0" y2="1"><stop offset=".004" stop-color="#384c00"/><stop offset=".125" stop-color="#3a5000"/><stop offset=".247" stop-color="#3d5400"/><stop offset=".328" stop-color="#455700"/><stop offset=".409" stop-color="#535900"/><stop offset=".437" stop-color="#5a5f00"/><stop offset=".462" stop-color="#656349"/><stop offset=".482" stop-color="#7567b6"/><stop offset=".510" stop-color="#796cb6"/><stop offset=".539" stop-color="#7472b6"/><stop offset=".563" stop-color="#6c7649"/><stop offset=".591" stop-color="#697c00"/><stop offset=".652" stop-color="#688f00"/><stop offset=".713" stop-color="#6da700"/><stop offset=".754" stop-color="#73b700"/><stop offset=".855" stop-color="#92e100"/><stop offset=".904" stop-color="#a4f300"/><stop offset=".944" stop-color="#b6f900"/><stop offset=".968" stop-color="#c4fc00"/><stop offset=".994" stop-color="#ccff00"/></linearGradient>
<linearGradient id="g153" x2="0" y2="1"><stop offset=".004" stop-color="#384c00"/><stop offset=".125" stop-color="#3a5000"/><stop offset=".247" stop-color="#3d5400"/><stop offset=".328" stop-color="#455700"/><stop offset=".409" stop-color="#535900"/><stop offset=".437" stop-color="#595f00"/><stop offset=".462" stop-color="#646346"/><stop offset=".482" stop-color="#7467b0"/><stop offset=".510" stop-color="#786cb0"/><stop offset=".539" stop-color="#7372b0"/><stop offset=".563" stop-color="#6b7646"/><stop offset=".591" stop-color="#687c00"/><stop offset=".652" stop-color="#678f00"/><stop offset=".713" stop-color="#6da700"/><stop offset=".754" stop-color="#73b700"/><stop offset=".855" stop-color="#90e100"/><stop offset=".904" stop-color="#a2f300"/><stop offset=".944" stop-color="#b3f900"/><stop offset=".968" stop-color="#c0fc00"/><stop offset=".994" stop-color="#caff00"/></linearGradient>
<linearGradient id="g154" x2="0" y2="1"><stop offset=".004" stop-color="#394c00"/><stop offset=".125" stop-color="#3a5000"/><stop offset=".247" stop-color="#3d5400"/><stop offset=".328" stop-color="#455700"/><stop offset=".409" stop-color="#535900"/><stop offset=".437" stop-color="#595f00"/><stop offset=".462" stop-color="#646345"/><stop offset=".482" stop-color="#7367ac"/><stop offset=".510" stop-color="#776cac"/><stop offset=".539" stop-color="#7272ac"/><stop offset=".563" stop-color="#6b7645"/><stop offset=".591" stop-color="#677c00"/><stop offset=".652" stop-color="#678f00"/><stop offset=".713" stop-color="#6da700"/><stop offset=".754" stop-color="#73b700"/><stop offset=".855" stop-color="#8ee100"/><stop offset=".904" stop-color="#9ff300"/><stop offset=".944" stop-color="#aff900"/><stop offset=".968" stop-color="#bdfc00"/><stop offset=".994" stop-color="#c7ff00"/></linearGradient>
<linearGradient id="g155" x2="0" y2="1"><stop offset=".004" stop-color="#394c00"/><stop offset=".125" stop-color="#3a5000"/><stop offset=".247" stop-color="#3d5400"/><stop offset=".328" stop-color="#455700"/><stop offset=".409" stop-color="#525900"/><stop offset=".437" stop-color="#595f00"/><stop offset=".462" stop-color="#636343"/><stop offset=".482" stop-color="#7267a7"/><stop offset=".510" stop-color="#766ca7"/><stop offset=".539" stop-color="#7172a7"/><stop offset=".563" stop-color="#6a7643"/><stop offset=".591" stop-color="#677c00"/><stop offset=".652" stop-color="#678f00"/><stop offset=".713" stop-color="#6da700"/><stop offset=".754" stop-color="#73b700"/><stop offset=".855" stop-color="#8de100"/><stop offset=".904" stop-color="#9df300"/><stop offset=".944" stop-color="#adf900"/><stop offset=".968" stop-color="#bafc00"/><stop offset=".994" stop-color="#c5ff00"/></linearGradient>
<linearGradient id="g156" x2="0" y2="1"><stop offset=".004" stop-color="#4c4c00"/><stop offset=".328" stop-color="#4c5700"/><stop offset=".409" stop-color="#4a5900"/><stop offset=".510" stop-color="#4a6c0c"/><stop offset=".591" stop-color="#497c00"/><stop offset=".652" stop-color="#508f00"/><stop offset=".713" stop-color="#60a700"/><stop offset=".754" stop-color="#6cb700"/><stop offset=".794" stop-color="#74c800"/><stop offset=".855" stop-color="#7de100"/><stop offset=".887" stop-color="#83ef00"/><stop offset=".920" stop-color="#8df500"/><stop offset=".944" stop-color="#96f900"/><stop offset=".968" stop-color="#a2fc00"/><stop offset=".994" stop-color="#b5ff00"/></linearGradient>
<linearGradient id="g157" x2="0" y2="1"><stop offset=".004" stop-color="#8c4c00"/><stop offset=".409" stop-color="#8c5900"/><stop offset=".591" stop-color="#8c7c00"/><stop offset=".713" stop-color="#8ea700"/><stop offset=".904" stop-color="#91f300"/><stop offset=".944" stop-color="#92f900"/><stop offset=".968" stop-color="#9ffc00"/><stop offset=".994" stop-color="#b3ff00"/></linearGradient>
<linearGradient id="g158" x2="0" y2="1"><stop offset=".004" stop-color="#5b4c00"/><stop offset=".328" stop-color="#5b5700"/><stop offset=".409" stop-color="#595900"/><stop offset=".563" stop-color="#587600"/><stop offset=".591" stop-color="#597c00"/><stop offset=".652" stop-color="#5b8f00"/><stop offset=".713" stop-color="#63a700"/><stop offset=".754" stop-color="#6cb700"/><stop offset=".794" stop-color="#72c800"/><stop offset=".855" stop-color="#79e100"/><stop offset=".887" stop-color="#7eef00"/><stop offset=".920" stop-color="#88f500"/><stop offset=".944" stop-color="#90f900"/><stop offset=".968" stop-color="#9dfc00"/><stop offset=".994" stop-color="#b1ff00"/></linearGradient>
<linearGradient id="g159" x2="0" y2="1"><stop offset=".004" stop-color="#484c00"/><stop offset=".247" stop-color="#4a5400"/><stop offset=".328" stop-color="#4d5700"/><stop offset=".409" stop-color="#525900"/><stop offset=".437" stop-color="#545f00"/><stop offset=".462" stop-color="#576311"/><stop offset=".482" stop-color="#5b672a"/><stop offset=".510" stop-color="#5c6c2a"/><stop offset=".539" stop-color="#5b722a"/><stop offset=".563" stop-color="#5a7611"/><stop offset=".591" stop-color="#5b7c00"/><stop offset=".652" stop-color="#608f00"/><stop offset=".827" stop-color="#7dd500"/><stop offset=".887" stop-color="#89ef00"/><stop offset=".920" stop-color="#93f500"/><stop offset=".944" stop-color="#9bf900"/><stop offset=".968" stop-color="#a8fc00"/><stop offset=".994" stop-color="#b6ff00"/></linearGradient>
<linearGradient id="g160" x2="0" y2="1"><stop offset=".004" stop-color="#3b4c00"/><stop offset=".247" stop-color="#3e5400"/><stop offset=".328" stop-color="#435700"/><stop offset=".409" stop-color="#4b5900"/><stop offset=".437" stop-color="#4d5f00"/><stop offset=".462" stop-color="#516319"/><stop offset=".482" stop-color="#57673e"/><stop offset=".510" stop-color="#5a6c3e"/><stop offset=".539" stop-color="#58723e"/><stop offset=".563" stop-color="#567619"/><stop offset=".591" stop-color="#577c00"/><stop offset=".652" stop-color="#5f8f00"/><stop offset=".713" stop-color="#6ba700"/><stop offset=".827" stop-color="#7cd500"/><stop offset=".887" stop-color="#88ef00"/><stop offset=".920" stop-color="#92f500"/><stop offset=".944" stop-color="#9af900"/><stop offset=".968" stop-color="#a6fc00"/><stop offset=".994" stop-color="#b4ff00"/></linearGradient>
<linearGradient id="g161" x2="0" y2="1"><stop offset=".004" stop-color="#3b4c00"/><stop offset=".247" stop-color="#3e5400"/><stop offset=".328" stop-color="#435700"/><stop offset=".409" stop-color="#4b5900"/><stop offset=".437" stop-color="#4d5f00"/><stop offset=".462" stop-color="#516319"/><stop offset=".482" stop-color="#57673e"/><stop offset=".510" stop-color="#5a6c3e"/><stop offset=".539" stop-color="#58723e"/><stop offset=".563" stop-color="#567619"/><stop offset=".591" stop-color="#577c00"/><stop offset=".652" stop-color="#5f8f00"/><stop offset=".713" stop-color="#6ba700"/><stop offset=".754" stop-color="#72b700"/><stop offset=".827" stop-color="#7bd500"/><stop offset=".887" stop-color="#86ef00"/><stop offset=".920" stop-color="#8ef500"/><stop offset=".944" stop-color="#96f900"/><stop offset=".968" stop-color="#a2fc00"/><stop offset=".994" stop-color="#b2ff00"/></linearGradient>
<linearGradient id="g162" x2="0" y2="1"><stop offset=".004" stop-color="#3b4c00"/><stop offset=".247" stop-color="#3e5400"/><stop offset=".328" stop-color="#435700"/><stop offset=".409" stop-color="#4b5900"/><stop offset=".437" stop-color="#4d5f00"/><stop offset=".462" stop-color="#516319"/><stop offset=".482" stop-color="#57673e"/><stop offset=".510" stop-color="#5a6c3e"/><stop offset=".539" stop-color="#58723e"/><stop offset=".563" stop-color="#567619"/><stop offset=".591" stop-color="#577c00"/><stop offset=".652" stop-color="#5f8f00"/><stop offset=".713" stop-color="#6ba700"/><stop offset=".754" stop-color="#72b700"/><stop offset=".827" stop-color="#7ad500"/><stop offset=".887" stop-color="#84ef00"/><stop offset=".920" stop-color="#8cf500"/><stop offset=".944" stop-color="#93f900"/><stop offset=".968" stop-color="#9ffc00"/><stop offset=".994" stop-color="#b0ff00"/></linearGradient>
<linearGradient id="g163" x2="0" y2="1"><stop offset=".004" stop-color="#3a4c00"/><stop offset=".247" stop-color="#3d5400"/><stop offset=".328" stop-color="#445700"/><stop offset=".409" stop-color="#4f5900"/><stop offset=".437" stop-color="#545f00"/><stop offset=".462" stop-color="#5c6332"/><stop offset=".482" stop-color="#68677d"/><stop offset=".510" stop-color="#6b6c7d"/><stop offset=".539" stop-color="#68727d"/><stop offset=".563" stop-color="#627632"/><stop offset=".591" stop-color="#617c00"/><stop offset=".652" stop-color="#648f00"/><stop offset=".827" stop-color="#7dd500"/><stop offset=".887" stop-color="#87ef00"/><stop offset=".920" stop-color="#90f500"/><stop offset=".944" stop-color="#98f900"/><stop offset=".968" stop-color="#a5fc00"/><stop offset=".994" stop-color="#b5ff00"/></linearGradient>
<linearGradient id="g164" x2="0" y2="1"><stop offset=".004" stop-color="#394c00"/><stop offset=".125" stop-color="#3a5000"/><stop offset=".247" stop-color="#3d5400"/><stop offset=".328" stop-color="#445700"/><stop offset=".409" stop-color="#515900"/><stop offset=".437" stop-color="#575f00"/><stop offset=".462" stop-color="#606339"/><stop offset=".482" stop-color="#6d678f"/><stop offset=".510" stop-color="#716c8f"/><stop offset=".539" stop-color="#6d728f"/><stop offset=".563" stop-color="#667639"/><stop offset=".591" stop-color="#647c00"/><stop offset=".652" stop-color="#658f00"/><stop offset=".713" stop-color="#6ca700"/><stop offset=".855" stop-color="#82e100"/><stop offset=".887" stop-color="#89ef00"/><stop offset=".920" stop-color="#91f500"/><stop offset=".944" stop-color="#99f900"/><stop offset=".968" stop-color="#a6fc00"/><stop offset=".994" stop-color="#b7ff00"/></linearGradient>
<linearGradient id="g165" x2="0" y2="1"><stop offset=".004" stop-color="#3d4c00"/><stop offset=".247" stop-color="#405400"/><stop offset=".328" stop-color="#465700"/><stop offset=".409" stop-color="#4f5900"/><stop offset=".437" stop-color="#545f00"/><stop offset=".462" stop-color="#5b632f"/><stop offset=".482" stop-color="#666775"/><stop offset=".510" stop-color="#696c75"/><stop offset=".539" stop-color="#657275"/><stop offset=".563" stop-color="#60762f"/><stop offset=".591" stop-color="#5f7c00"/><stop offset=".652" stop-color="#618f00"/><stop offset=".713" stop-color="#6aa700"/><stop offset=".754" stop-color="#71b700"/><stop offset=".855" stop-color="#7fe100"/><stop offset=".887" stop-color="#85ef00"/><stop offset=".920" stop-color="#8ef500"/><stop offset=".944" stop-color="#95f900"/><stop offset=".968" stop-color="#a2fc00"/><stop offset=".994" stop-color="#b4ff00"/></linearGradient>
<linearGradient id="g166" x2="0" y2="1"><stop offset=".004" stop-color="#8b4c00"/><stop offset=".328" stop-color="#8a5700"/><stop offset=".409" stop-color="#895900"/><stop offset=".563" stop-color="#887600"/><stop offset=".591" stop-color="#887c00"/><stop offset=".652" stop-color="#8b8f00"/><stop offset=".754" stop-color="#9ab700"/><stop offset=".827" stop-color="#9cd500"/><stop offset=".887" stop-color="#9eef00"/><stop offset=".944" stop-color="#a5f900"/><stop offset=".968" stop-color="#abfc00"/><stop offset=".994" stop-color="#b7ff00"/></linearGradient>
<linearGradient id="g167" x2="0" y2="1"><stop offset=".004" stop-color="#c44c00"/><stop offset=".409" stop-color="#c45900"/><stop offset=".591" stop-color="#c47c00"/><stop offset=".713" stop-color="#c4a700"/><stop offset=".904" stop-color="#c4f300"/><stop offset=".994" stop-color="#c4ff00"/></linearGradient>
<linearGradient id="g168" x2="0" y2="1"><stop offset=".004" stop-color="#414c00"/><stop offset=".328" stop-color="#445700"/><stop offset=".409" stop-color="#475900"/><stop offset=".539" stop-color="#487200"/><stop offset=".563" stop-color="#497600"/><stop offset=".591" stop-color="#4c7c00"/><stop offset=".652" stop-color="#578f00"/><stop offset=".713" stop-color="#67a700"/><stop offset=".754" stop-color="#6fb700"/><stop offset=".827" stop-color="#75d500"/><stop offset=".887" stop-color="#7cef00"/><stop offset=".920" stop-color="#84f500"/><stop offset=".944" stop-color="#8af900"/><stop offset=".968" stop-color="#96fc00"/><stop offset=".994" stop-color="#a9ff00"/></linearGradient>
<linearGradient id="g169" x2="0" y2="1"><stop offset=".004" stop-color="#3c4c00"/><stop offset=".247" stop-color="#3f5400"/><stop offset=".328" stop-color="#415700"/><stop offset=".409" stop-color="#465900"/><stop offset=".539" stop-color="#497200"/><stop offset=".563" stop-color="#4a7600"/><stop offset=".591" stop-color="#4e7c00"/><stop offset=".652" stop-color="#5a8f00"/><stop offset=".713" stop-color="#6aa700"/><stop offset=".754" stop-color="#71b700"/><stop offset=".827" stop-color="#76d500"/><stop offset=".887" stop-color="#7fef00"/><stop offset=".920" stop-color="#86f500"/><stop offset=".944" stop-color="#8df900"/><stop offset=".968" stop-color="#98fc00"/><stop offset=".994" stop-color="#a9ff00"/></linearGradient>
<linearGradient id="g170" x2="0" y2="1"><stop offset=".004" stop-color="#714c00"/><stop offset=".409" stop-color="#725900"/><stop offset=".591" stop-color="#727c00"/><stop offset=".713" stop-color="#74a700"/><stop offset=".827" stop-color="#76d500"/><stop offset=".887" stop-color="#7fef00"/><stop offset=".920" stop-color="#86f500"/><stop offset=".944" stop-color="#8df900"/><stop offset=".968" stop-color="#98fc00"/><stop offset=".994" stop-color="#a9ff00"/></linearGradient>
<linearGradient id="g171" x2="0" y2="1"><stop offset=".004" stop-color="#3b4c00"/><stop offset=".247" stop-color="#3e5400"/><stop offset=".328" stop-color="#425700"/><stop offset=".409" stop-color="#495900"/><stop offset=".437" stop-color="#4c5f00"/><stop offset=".462" stop-color="#4f6312"/><stop offset=".482" stop-color="#54672d"/><stop offset=".510" stop-color="#556c2d"/><stop offset=".539" stop-color="#55722d"/><stop offset=".563" stop-color="#537612"/><stop offset=".591" stop-color="#557c00"/><stop offset=".652" stop-color="#5e8f00"/><stop offset=".713" stop-color="#6ba700"/><stop offset=".754" stop-color="#71b700"/><stop offset=".827" stop-color="#79d500"/><stop offset=".887" stop-color="#82ef00"/><stop offset=".920" stop-color="#8af500"/><stop offset=".944" stop-color="#91f900"/><stop offset=".968" stop-color="#9dfc00"/><stop offset=".994" stop-color="#aeff00"/></linearGradient>
<linearGradient id="g172" x2="0" y2="1"><stop offset=".004" stop-color="#3a4c00"/><stop offset=".247" stop-color="#3d5400"/><stop offset=".328" stop-color="#445700"/><stop offset=".409" stop-color="#4f5900"/><stop offset=".437" stop-color="#545f00"/><stop offset=".462" stop-color="#5b632d"/><stop offset=".482" stop-color="#676771"/><stop offset=".510" stop-color="#6a6c71"/><stop offset=".539" stop-color="#677271"/><stop offset=".563" stop-color="#61762d"/><stop offset=".591" stop-color="#607c00"/><stop offset=".652" stop-color="#648f00"/><stop offset=".855" stop-color="#81e100"/><stop offset=".887" stop-color="#87ef00"/><stop offset=".920" stop-color="#90f500"/><stop offset=".944" stop-color="#97f900"/><stop offset=".968" stop-color="#a4fc00"/><stop offset=".994" stop-color="#b4ff00"/></linearGradient>
<linearGradient id="g173" x2="0" y2="1"><stop offset=".004" stop-color="#394c00"/><stop offset=".125" stop-color="#3a5000"/><stop offset=".247" stop-color="#3d5400"/><stop offset=".328" stop-color="#445700"/><stop offset=".409" stop-color="#515900"/><stop offset=".437" stop-color="#575f00"/><stop offset=".462" stop-color="#606336"/><stop offset=".482" stop-color="#6d6788"/><stop offset=".510" stop-color="#716c88"/><stop offset=".539" stop-color="#6d7288"/><stop offset=".563" stop-color="#667636"/><stop offset=".591" stop-color="#647c00"/><stop offset=".652" stop-color="#658f00"/><stop offset=".713" stop-color="#6ca700"/><stop offset=".855" stop-color="#82e100"/><stop offset=".887" stop-color="#89ef00"/><stop offset=".920" stop-color="#91f500"/><stop offset=".944" stop-color="#99f900"/><stop offset=".968" stop-color="#a6fc00"/><stop offset=".994" stop-color="#b7ff00"/></linearGradient>
<linearGradient id="g174" x2="0" y2="1"><stop offset=".004" stop-color="#3a4c00"/><stop offset=".247" stop-color="#3e5400"/><stop offset=".328" stop-color="#435700"/><stop offset=".409" stop-color="#4d5900"/><stop offset=".437" stop-color="#515f00"/><stop offset=".462" stop-color="#576324"/><stop offset=".482" stop-color="#606759"/><stop offset=".510" stop-color="#636c59"/><stop offset=".539" stop-color="#617259"/><stop offset=".563" stop-color="#5d7624"/><stop offset=".591" stop-color="#5c7c00"/><stop offset=".652" stop-color="#628f00"/><stop offset=".754" stop-color="#72b700"/><stop offset=".827" stop-color="#7bd500"/><stop offset=".887" stop-color="#85ef00"/><stop offset=".920" stop-color="#8ef500"/><stop offset=".944" stop-color="#95f900"/><stop offset=".968" stop-color="#a2fc00"/><stop offset=".994" stop-color="#b2ff00"/></linearGradient>
<linearGradient id="g175" x2="0" y2="1"><stop offset=".004" stop-color="#3c4c00"/><stop offset=".247" stop-color="#3f5400"/><stop offset=".328" stop-color="#425700"/><stop offset=".409" stop-color="#485900"/><stop offset=".462" stop-color="#4b6309"/><stop offset=".482" stop-color="#4d6715"/><stop offset=".539" stop-color="#4f7215"/><stop offset=".563" stop-color="#4f7609"/><stop offset=".591" stop-color="#517c00"/><stop offset=".652" stop-color="#5c8f00"/><stop offset=".713" stop-color="#6ba700"/><stop offset=".754" stop-color="#71b700"/><stop offset=".827" stop-color="#77d500"/><stop offset=".887" stop-color="#80ef00"/><stop offset=".920" stop-color="#88f500"/><stop offset=".944" stop-color="#8ff900"/><stop offset=".968" stop-color="#9afc00"/><stop offset=".994" stop-color="#acff00"/></linearGradient>
<linearGradient id="g176" x2="0" y2="1"><stop offset=".004" stop-color="#504c00"/><stop offset=".328" stop-color="#525700"/><stop offset=".409" stop-color="#545900"/><stop offset=".563" stop-color="#567600"/><stop offset=".591" stop-color="#587c00"/><stop offset=".652" stop-color="#5d8f00"/><stop offset=".713" stop-color="#6aa700"/><stop offset=".754" stop-color="#71b700"/><stop offset=".827" stop-color="#76d500"/><stop offset=".887" stop-color="#7fef00"/><stop offset=".920" stop-color="#86f500"/><stop offset=".944" stop-color="#8df900"/><stop offset=".968" stop-color="#98fc00"/><stop offset=".994" stop-color="#a9ff00"/></linearGradient>
<linearGradient id="g177" x2="0" y2="1"><stop offset=".004" stop-color="#464c00"/><stop offset=".247" stop-color="#485400"/><stop offset=".368" stop-color="#4b5800"/><stop offset=".409" stop-color="#4d5900"/><stop offset=".563" stop-color="#507600"/><stop offset=".591" stop-color="#537c00"/><stop offset=".652" stop-color="#5c8f00"/><stop offset=".713" stop-color="#6aa700"/><stop offset=".754" stop-color="#71b700"/><stop offset=".827" stop-color="#76d500"/><stop offset=".887" stop-color="#7fef00"/><stop offset=".920" stop-color="#86f500"/><stop offset=".944" stop-color="#8df900"/><stop offset=".968" stop-color="#98fc00"/><stop offset=".994" stop-color="#a9ff00"/></linearGradient>
<linearGradient id="g178" x2="0" y2="1"><stop offset=".004" stop-color="#3b4c00"/><stop offset=".247" stop-color="#3e5400"/><stop offset=".328" stop-color="#425700"/><stop offset=".409" stop-color="#4a5900"/><stop offset=".437" stop-color="#4c5f00"/><stop offset=".462" stop-color="#506313"/><stop offset=".482" stop-color="#55672f"/><stop offset=".510" stop-color="#566c2f"/><stop offset=".539" stop-color="#56722f"/><stop offset=".563" stop-color="#547613"/><stop offset=".591" stop-color="#567c00"/><stop offset=".652" stop-color="#5e8f00"/><stop offset=".713" stop-color="#6ba700"/><stop offset=".754" stop-color="#71b700"/><stop offset=".827" stop-color="#79d500"/><stop offset=".887" stop-color="#82ef00"/><stop offset=".920" stop-color="#8af500"/><stop offset=".944" stop-color="#91f900"/><stop offset=".968" stop-color="#9dfc00"/><stop offset=".994" stop-color="#aeff00"/></linearGradient>
<linearGradient id="g179" x2="0" y2="1"><stop offset=".004" stop-color="#3a4c00"/><stop offset=".247" stop-color="#3d5400"/><stop offset=".328" stop-color="#445700"/><stop offset=".409" stop-color="#4f5900"/><stop offset=".437" stop-color="#545f00"/><stop offset=".462" stop-color="#5c632d"/><stop offset=".482" stop-color="#686771"/><stop offset=".510" stop-color="#6b6c71"/><stop offset=".539" stop-color="#677271"/><stop offset=".563" stop-color="#62762d"/><stop offset=".591" stop-color="#617c00"/><stop offset=".652" stop-color="#648f00"/><stop offset=".855" stop-color="#81e100"/><stop offset=".887" stop-color="#87ef00"/><stop offset=".920" stop-color="#90f500"/><stop offset=".944" stop-color="#97f900"/><stop offset=".968" stop-color="#a4fc00"/><stop offset=".994" stop-color="#b5ff00"/></linearGradient>
<linearGradient id="g180" x2="0" y2="1"><stop offset=".004" stop-color="#394c00"/><stop offset=".125" stop-color="#3a5000"/><stop offset=".247" stop-color="#3d5400"/><stop offset=".328" stop-color="#445700"/><stop offset=".409" stop-color="#515900"/><stop offset=".437" stop-color="#575f00"/><stop offset=".462" stop-color="#606335"/><stop offset=".482" stop-color="#6d6783"/><stop offset=".510" stop-color="#716c83"/><stop offset=".539" stop-color="#6d7283"/><stop offset=".563" stop-color="#667635"/><stop offset=".591" stop-color="#647c00"/><stop offset=".652" stop-color="#658f00"/><stop offset=".713" stop-color="#6ca700"/><stop offset=".855" stop-color="#82e100"/><stop offset=".887" stop-color="#89ef00"/><stop offset=".920" stop-color="#91f500"/><stop offset=".944" stop-color="#99f900"/><stop offset=".968" stop-color="#a6fc00"/><stop offset=".994" stop-color="#b7ff00"/></linearGradient>
<linearGradient id="g181" x2="0" y2="1"><stop offset=".004" stop-color="#394c00"/><stop offset=".125" stop-color="#3b5000"/><stop offset=".247" stop-color="#3d5400"/><stop offset=".328" stop-color="#445700"/><stop offset=".409" stop-color="#505900"/><stop offset=".437" stop-color="#565f00"/><stop offset=".462" stop-color="#5e6331"/><stop offset=".482" stop-color="#6b677c"/><stop offset=".510" stop-color="#6e6c7c"/><stop offset=".539" stop-color="#6b727c"/><stop offset=".563" stop-color="#657631"/><stop offset=".591" stop-color="#637c00"/><stop offset=".652" stop-color="#658f00"/><stop offset=".713" stop-color="#6ca700"/><stop offset=".855" stop-color="#82e100"/><stop offset=".887" stop-color="#88ef00"/><stop offset=".920" stop-color="#91f500"/><stop offset=".944" stop-color="#99f900"/><stop offset=".968" stop-color="#a6fc00"/><stop offset=".994" stop-color="#b6ff00"/></linearGradient>
<linearGradient id="g182" x2="0" y2="1"><stop offset=".004" stop-color="#3b4c00"/><stop offset=".247" stop-color="#3e5400"/><stop offset=".328" stop-color="#435700"/><stop offset=".409" stop-color="#4c5900"/><stop offset=".437" stop-color="#4f5f00"/><stop offset=".462" stop-color="#54631b"/><stop offset=".482" stop-color="#5b6745"/><stop offset=".510" stop-color="#5e6c45"/><stop offset=".539" stop-color="#5c7245"/><stop offset=".563" stop-color="#59761b"/><stop offset=".591" stop-color="#597c00"/><stop offset=".652" stop-color="#608f00"/><stop offset=".713" stop-color="#6ba700"/><stop offset=".754" stop-color="#72b700"/><stop offset=".827" stop-color="#7ad500"/><stop offset=".887" stop-color="#84ef00"/><stop offset=".920" stop-color="#8cf500"/><stop offset=".944" stop-color="#93f900"/><stop offset=".968" stop-color="#a0fc00"/><stop offset=".994" stop-color="#b0ff00"/></linearGradient>
<linearGradient id="g183" x2="0" y2="1"><stop offset=".004" stop-color="#3c4c00"/><stop offset=".247" stop-color="#3f5400"/><stop offset=".328" stop-color="#415700"/><stop offset=".409" stop-color="#475900"/><stop offset=".462" stop-color="#4a6306"/><stop offset=".510" stop-color="#4d6c0e"/><stop offset=".563" stop-color="#4d7606"/><stop offset=".591" stop-color="#507c00"/><stop offset=".652" stop-color="#5c8f00"/><stop offset=".713" stop-color="#6aa700"/><stop offset=".754" stop-color="#71b700"/><stop offset=".827" stop-color="#77d500"/><stop offset=".887" stop-color="#80ef00"/><stop offset=".920" stop-color="#87f500"/><stop offset=".944" stop-color="#8ef900"/><stop offset=".968" stop-color="#9afc00"/><stop offset=".994" stop-color="#abff00"/></linearGradient>
<linearGradient id="g184" x2="0" y2="1"><stop offset=".004" stop-color="#594c00"/><stop offset=".328" stop-color="#5a5700"/><stop offset=".409" stop-color="#5c5900"/><stop offset=".563" stop-color="#5d7600"/><stop offset=".591" stop-color="#5e7c00"/><stop offset=".652" stop-color="#628f00"/><stop offset=".754" stop-color="#71b700"/><stop offset=".827" stop-color="#76d500"/><stop offset=".887" stop-color="#7fef00"/><stop offset=".920" stop-color="#86f500"/><stop offset=".944" stop-color="#8df900"/><stop offset=".968" stop-color="#98fc00"/><stop offset=".994" stop-color="#a9ff00"/></linearGradient>
<linearGradient id="g185" x2="0" y2="1"><stop offset=".004" stop-color="#3c4c00"/><stop offset=".247" stop-color="#3f5400"/><stop offset=".328" stop-color="#425700"/><stop offset=".409" stop-color="#485900"/><stop offset=".437" stop-color="#4a5f00"/><stop offset=".462" stop-color="#4d630b"/><stop offset=".482" stop-color="#50671d"/><stop offset=".510" stop-color="#516c1d"/><stop offset=".539" stop-color="#51721d"/><stop offset=".563" stop-color="#51760b"/><stop offset=".591" stop-color="#537c00"/><stop offset=".652" stop-color="#5d8f00"/><stop offset=".713" stop-color="#6ba700"/><stop offset=".754" stop-color="#71b700"/><stop offset=".827" stop-color="#78d500"/><stop offset=".887" stop-color="#81ef00"/><stop offset=".920" stop-color="#89f500"/><stop offset=".944" stop-color="#90f900"/><stop offset=".968" stop-color="#9bfc00"/><stop offset=".994" stop-color="#adff00"/></linearGradient>
<linearGradient id="g186" x2="0" y2="1"><stop offset=".004" stop-color="#3b4c00"/><stop offset=".247" stop-color="#3e5400"/><stop offset=".328" stop-color="#435700"/><stop offset=".409" stop-color="#4c5900"/><stop offset=".437" stop-color="#4f5f00"/><stop offset=".462" stop-color="#54631a"/><stop offset=".482" stop-color="#5b6740"/><stop offset=".510" stop-color="#5d6c40"/><stop offset=".539" stop-color="#5b7240"/><stop offset=".563" stop-color="#59761a"/><stop offset=".591" stop-color="#597c00"/><stop offset=".652" stop-color="#608f00"/><stop offset=".713" stop-color="#6ba700"/><stop offset=".754" stop-color="#72b700"/><stop offset=".827" stop-color="#7ad500"/><stop offset=".887" stop-color="#84ef00"/><stop offset=".920" stop-color="#8cf500"/><stop offset=".944" stop-color="#93f900"/><stop offset=".968" stop-color="#9ffc00"/><stop offset=".994" stop-color="#b0ff00"/></linearGradient>
<linearGradient id="g187" x2="0" y2="1"><stop offset=".004" stop-color="#3a4c00"/><stop offset=".247" stop-color="#3e5400"/><stop offset=".328" stop-color="#445700"/><stop offset=".409" stop-color="#4f5900"/><stop offset=".437" stop-color="#535f00"/><stop offset=".462" stop-color="#5b6328"/><stop offset=".482" stop-color="#666764"/><stop offset=".510" stop-color="#696c64"/><stop offset=".539" stop-color="#667264"/><stop offset=".563" stop-color="#617628"/><stop offset=".591" stop-color="#607c00"/><stop offset=".652" stop-color="#638f00"/><stop offset=".855" stop-color="#81e100"/><stop offset=".887" stop-color="#87ef00"/><stop offset=".920" stop-color="#8ff500"/><stop offset=".944" stop-color="#97f900"/><stop offset=".968" stop-color="#a4fc00"/><stop offset=".994" stop-color="#b4ff00"/></linearGradient>
<linearGradient id="g188" x2="0" y2="1"><stop offset=".004" stop-color="#4d4c00"/><stop offset=".247" stop-color="#4f5400"/><stop offset=".328" stop-color="#525700"/><stop offset=".409" stop-color="#585900"/><stop offset=".437" stop-color="#5a5f00"/><stop offset=".462" stop-color="#626317"/><stop offset=".482" stop-color="#70673a"/><stop offset=".510" stop-color="#746c3a"/><stop offset=".539" stop-color="#70723a"/><stop offset=".563" stop-color="#697617"/><stop offset=".591" stop-color="#667c00"/><stop offset=".652" stop-color="#668f00"/><stop offset=".713" stop-color="#6da700"/><stop offset=".855" stop-color="#83e100"/><stop offset=".887" stop-color="#8aef00"/><stop offset=".920" stop-color="#92f500"/><stop offset=".944" stop-color="#9af900"/><stop offset=".968" stop-color="#a8fc00"/><stop offset=".994" stop-color="#b8ff00"/></linearGradient>
<linearGradient id="g189" x2="0" y2="1"><stop offset=".004" stop-color="#384c00"/><stop offset=".125" stop-color="#395000"/><stop offset=".247" stop-color="#3c5400"/><stop offset=".328" stop-color="#465700"/><stop offset=".409" stop-color="#555900"/><stop offset=".437" stop-color="#5d5f00"/><stop offset=".462" stop-color="#696344"/><stop offset=".482" stop-color="#7b67ab"/><stop offset=".510" stop-color="#806cab"/><stop offset=".539" stop-color="#7a72ab"/><stop offset=".563" stop-color="#717644"/><stop offset=".591" stop-color="#6c7c00"/><stop offset=".652" stop-color="#6a8f00"/><stop offset=".713" stop-color="#6da700"/><stop offset=".855" stop-color="#85e100"/><stop offset=".904" stop-color="#91f300"/><stop offset=".944" stop-color="#9ef900"/><stop offset=".994" stop-color="#bcff00"/></linearGradient>
<linearGradient id="g190" x2="0" y2="1"><stop offset=".004" stop-color="#374c00"/><stop offset=".125" stop-color="#395000"/><stop offset=".247" stop-color="#3c5400"/><stop offset=".328" stop-color="#465700"/><stop offset=".409" stop-color="#555900"/><stop offset=".437" stop-color="#5d5f00"/><stop offset=".462" stop-color="#6a6346"/><stop offset=".482" stop-color="#7d67b0"/><stop offset=".510" stop-color="#826cb0"/><stop offset=".539" stop-color="#7c72b0"/><stop offset=".563" stop-color="#727646"/><stop offset=".591" stop-color="#6d7c00"/><stop offset=".652" stop-color="#6a8f00"/><stop offset=".713" stop-color="#6da700"/><stop offset=".794" stop-color="#7bc800"/><stop offset=".855" stop-color="#86e100"/><stop offset=".904" stop-color="#93f300"/><stop offset=".944" stop-color="#a0f900"/><stop offset=".994" stop-color="#beff00"/></linearGradient>
<linearGradient id="g191" x2="0" y2="1"><stop offset=".004" stop-color="#374c00"/><stop offset=".125" stop-color="#395000"/><stop offset=".247" stop-color="#3c5400"/><stop offset=".328" stop-color="#455700"/><stop offset=".409" stop-color="#555900"/><stop offset=".437" stop-color="#5d5f00"/><stop offset=".462" stop-color="#6a6346"/><stop offset=".482" stop-color="#7d67ae"/><stop offset=".510" stop-color="#826cae"/><stop offset=".539" stop-color="#7c72ae"/><stop offset=".563" stop-color="#727646"/><stop offset=".591" stop-color="#6d7c00"/><stop offset=".652" stop-color="#6a8f00"/><stop offset=".713" stop-color="#6ea700"/><stop offset=".754" stop-color="#74b700"/><stop offset=".855" stop-color="#88e100"/><stop offset=".887" stop-color="#90ef00"/><stop offset=".944" stop-color="#a3f900"/><stop offset=".994" stop-color="#c0ff00"/></linearGradient>
<linearGradient id="g192" x2="0" y2="1"><stop offset=".004" stop-color="#374c00"/><stop offset=".125" stop-color="#395000"/><stop offset=".247" stop-color="#3c5400"/><stop offset=".328" stop-color="#455700"/><stop offset=".409" stop-color="#555900"/><stop offset=".437" stop-color="#5d5f00"/><stop offset=".462" stop-color="#6a6345"/><stop offset=".482" stop-color="#7d67ac"/><stop offset=".510" stop-color="#826cac"/><stop offset=".539" stop-color="#7c72ac"/><stop offset=".563" stop-color="#727645"/><stop offset=".591" stop-color="#6d7c00"/><stop offset=".652" stop-color="#6a8f00"/><stop offset=".713" stop-color="#6ea700"/><stop offset=".754" stop-color="#74b700"/><stop offset=".855" stop-color="#89e100"/><stop offset=".887" stop-color="#91ef00"/><stop offset=".944" stop-color="#a5f900"/><stop offset=".994" stop-color="#c2ff00"/></linearGradient>
<linearGradient id="g193" x2="0" y2="1"><stop offset=".004" stop-color="#374c00"/><stop offset=".125" stop-color="#385000"/><stop offset=".247" stop-color="#3b5400"/><stop offset=".328" stop-color="#455700"/><stop offset=".409" stop-color="#545900"/><stop offset=".437" stop-color="#5d5f00"/><stop offset=".462" stop-color="#6a6344"/><stop offset=".482" stop-color="#7d67ab"/><stop offset=".510" stop-color="#826cab"/><stop offset=".539" stop-color="#7c72ab"/><stop offset=".563" stop-color="#727644"/><stop offset=".591" stop-color="#6e7c00"/><stop offset=".652" stop-color="#6a8f00"/><stop offset=".713" stop-color="#6ea700"/><stop offset=".754" stop-color="#74b700"/><stop offset=".855" stop-color="#8ae100"/><stop offset=".887" stop-color="#93ef00"/><stop offset=".944" stop-color="#a8f900"/><stop offset=".994" stop-color="#c4ff00"/></linearGradient>
<linearGradient id="g194" x2="0" y2="1"><stop offset=".004" stop-color="#364c00"/><stop offset=".125" stop-color="#385000"/><stop offset=".247" stop-color="#3b5400"/><stop offset=".328" stop-color="#445700"/><stop offset=".409" stop-color="#545900"/><stop offset=".437" stop-color="#5d5f00"/><stop offset=".462" stop-color="#6a6344"/><stop offset=".482" stop-color="#7d67a9"/><stop offset=".510" stop-color="#826ca9"/><stop offset=".539" stop-color="#7c72a9"/><stop offset=".563" stop-color="#727644"/><stop offset=".591" stop-color="#6e7c00"/><stop offset=".652" stop-color="#6a8f00"/><stop offset=".713" stop-color="#6ea700"/><stop offset=".754" stop-color="#75b700"/><stop offset=".855" stop-color="#8be100"/><stop offset=".887" stop-color="#95ef00"/><stop offset=".920" stop-color="#a1f500"/><stop offset=".944" stop-color="#abf900"/><stop offset=".968" stop-color="#b9fc00"/><stop offset=".994" stop-color="#c6ff00"/></linearGradient>
<linearGradient id="g195" x2="0" y2="1"><stop offset=".004" stop-color="#364c00"/><stop offset=".125" stop-color="#385000"/><stop offset=".247" stop-color="#3b5400"/><stop offset=".328" stop-color="#445700"/><stop offset=".409" stop-color="#545900"/><stop offset=".437" stop-color="#5d5f00"/><stop offset=".462" stop-color="#6a6343"/><stop offset=".482" stop-color="#7d67a8"/><stop offset=".510" stop-color="#826ca8"/><stop offset=".539" stop-color="#7c72a8"/><stop offset=".563" stop-color="#727643"/><stop offset=".591" stop-color="#6e7c00"/><stop offset=".652" stop-color="#6a8f00"/><stop offset=".713" stop-color="#6ea700"/><stop offset=".754" stop-color="#75b700"/><stop offset=".855" stop-color="#8de100"/><stop offset=".887" stop-color="#96ef00"/><stop offset=".920" stop-color="#a3f500"/><stop offset=".944" stop-color="#aef900"/><stop offset=".968" stop-color="#bbfc00"/><stop offset=".994" stop-color="#c8ff00"/></linearGradient>
<linearGradient id="g196" x2="0" y2="1"><stop offset=".004" stop-color="#364c00"/><stop offset=".125" stop-color="#375000"/><stop offset=".247" stop-color="#3b5400"/><stop offset=".328" stop-color="#445700"/><stop offset=".409" stop-color="#535900"/><stop offset=".437" stop-color="#5c5f00"/><stop offset=".462" stop-color="#6a6342"/><stop offset=".482" stop-color="#7d67a6"/><stop offset=".510" stop-color="#826ca6"/><stop offset=".539" stop-color="#7c72a6"/><stop offset=".563" stop-color="#727642"/><stop offset=".591" stop-color="#6e7c00"/><stop offset=".652" stop-color="#6a8f00"/><stop offset=".713" stop-color="#6ea700"/><stop offset=".754" stop-color="#75b700"/><stop offset=".855" stop-color="#8ee100"/><stop offset=".887" stop-color="#98ef00"/><stop offset=".920" stop-color="#a6f500"/><stop offset=".944" stop-color="#b0f900"/><stop offset=".968" stop-color="#befc00"/><stop offset=".994" stop-color="#caff00"/></linearGradient>
<linearGradient id="g197" x2="0" y2="1"><stop offset=".004" stop-color="#364c00"/><stop offset=".125" stop-color="#375000"/><stop offset=".247" stop-color="#3a5400"/><stop offset=".328" stop-color="#435700"/><stop offset=".409" stop-color="#535900"/><stop offset=".437" stop-color="#5c5f00"/><stop offset=".462" stop-color="#6a6341"/><stop offset=".482" stop-color="#7d67a3"/><stop offset=".510" stop-color="#826ca3"/><stop offset=".539" stop-color="#7c72a3"/><stop offset=".563" stop-color="#727641"/><stop offset=".591" stop-color="#6e7c00"/><stop offset=".652" stop-color="#6b8f00"/><stop offset=".713" stop-color="#6ea700"/><stop offset=".754" stop-color="#75b700"/><stop offset=".855" stop-color="#8fe100"/><stop offset=".887" stop-color="#99ef00"/><stop offset=".904" stop-color="#a0f300"/><stop offset=".944" stop-color="#b3f900"/><stop offset=".968" stop-color="#c0fc00"/><stop offset=".994" stop-color="#ccff00"/></linearGradient>
<linearGradient id="g198" x2="0" y2="1"><stop offset=".004" stop-color="#354c00"/><stop offset=".125" stop-color="#375000"/><stop offset=".247" stop-color="#3a5400"/><stop offset=".328" stop-color="#435700"/><stop offset=".409" stop-color="#525900"/><stop offset=".437" stop-color="#5c5f00"/><stop offset=".462" stop-color="#6a6340"/><stop offset=".482" stop-color="#7d67a0"/><stop offset=".510" stop-color="#826ca0"/><stop offset=".539" stop-color="#7c72a0"/><stop offset=".563" stop-color="#737640"/><stop offset=".591" stop-color="#6e7c00"/><stop offset=".652" stop-color="#6b8f00"/><stop offset=".713" stop-color="#6ea700"/><stop offset=".754" stop-color="#76b700"/><stop offset=".855" stop-color="#90e100"/><stop offset=".887" stop-color="#9aef00"/><stop offset=".904" stop-color="#a1f300"/><stop offset=".944" stop-color="#b5f900"/><stop offset=".968" stop-color="#c2fc00"/><stop offset=".994" stop-color="#ceff00"/></linearGradient>
<linearGradient id="g199" x2="0" y2="1"><stop offset=".004" stop-color="#354c00"/><stop offset=".125" stop-color="#365000"/><stop offset=".247" stop-color="#395400"/><stop offset=".328" stop-color="#425700"/><stop offset=".409" stop-color="#525900"/><stop offset=".437" stop-color="#5b5f00"/><stop offset=".462" stop-color="#6a633f"/><stop offset=".482" stop-color="#7d679d"/><stop offset=".510" stop-color="#826c9d"/><stop offset=".539" stop-color="#7c729d"/><stop offset=".563" stop-color="#73763f"/><stop offset=".591" stop-color="#6e7c00"/><stop offset=".652" stop-color="#6b8f00"/><stop offset=".713" stop-color="#6ea700"/><stop offset=".754" stop-color="#76b700"/><stop offset=".855" stop-color="#91e100"/><stop offset=".887" stop-color="#9bef00"/><stop offset=".904" stop-color="#a2f300"/><stop offset=".968" stop-color="#c4fc00"/><stop offset=".994" stop-color="#cfff00"/></linearGradient>
<linearGradient id="g200" x2="0" y2="1"><stop offset=".004" stop-color="#344c00"/><stop offset=".125" stop-color="#365000"/><stop offset=".247" stop-color="#395400"/><stop offset=".328" stop-color="#415700"/><stop offset=".409" stop-color="#515900"/><stop offset=".437" stop-color="#5b5f00"/><stop offset=".462" stop-color="#6a633e"/><stop offset=".482" stop-color="#7d679a"/><stop offset=".510" stop-color="#826c9a"/><stop offset=".539" stop-color="#7c729a"/><stop offset=".563" stop-color="#73763e"/><stop offset=".591" stop-color="#6e7c00"/><stop offset=".652" stop-color="#6b8f00"/><stop offset=".713" stop-color="#6ea700"/><stop offset=".754" stop-color="#76b700"/><stop offset=".855" stop-color="#91e100"/><stop offset=".887" stop-color="#9cef00"/><stop offset=".904" stop-color="#a3f300"/><stop offset=".944" stop-color="#b9f900"/><stop offset=".968" stop-color="#c6fc00"/><stop offset=".994" stop-color="#d1ff00"/></linearGradient>
<linearGradient id="g201" x2="0" y2="1"><stop offset=".004" stop-color="#344c00"/><stop offset=".125" stop-color="#355000"/><stop offset=".247" stop-color="#385400"/><stop offset=".328" stop-color="#415700"/><stop offset=".409" stop-color="#515900"/><stop offset=".437" stop-color="#5b5f00"/><stop offset=".462" stop-color="#6a633d"/><stop offset=".482" stop-color="#7d6797"/><stop offset=".510" stop-color="#826c97"/><stop offset=".539" stop-color="#7c7297"/><stop offset=".563" stop-color="#73763d"/><stop offset=".591" stop-color="#6e7c00"/><stop offset=".652" stop-color="#6b8f00"/><stop offset=".713" stop-color="#6fa700"/><stop offset=".754" stop-color="#77b700"/><stop offset=".855" stop-color="#92e100"/><stop offset=".887" stop-color="#9def00"/><stop offset=".904" stop-color="#a4f300"/><stop offset=".920" stop-color="#aef500"/><stop offset=".968" stop-color="#c8fc00"/><stop offset=".994" stop-color="#d3ff00"/></linearGradient>
<linearGradient id="g202" x2="0" y2="1"><stop offset=".004" stop-color="#334c00"/><stop offset=".125" stop-color="#355000"/><stop offset=".247" stop-color="#385400"/><stop offset=".328" stop-color="#405700"/><stop offset=".368" stop-color="#475800"/><stop offset=".409" stop-color="#505900"/><stop offset=".437" stop-color="#5a5f00"/><stop offset=".462" stop-color="#6a633b"/><stop offset=".482" stop-color="#7d6795"/><stop offset=".510" stop-color="#826c95"/><stop offset=".539" stop-color="#7c7295"/><stop offset=".563" stop-color="#73763b"/><stop offset=".591" stop-color="#6e7c00"/><stop offset=".652" stop-color="#6b8f00"/><stop offset=".713" stop-color="#6fa700"/><stop offset=".754" stop-color="#77b700"/><stop offset=".855" stop-color="#93e100"/><stop offset=".887" stop-color="#9eef00"/><stop offset=".904" stop-color="#a6f300"/><stop offset=".920" stop-color="#b0f500"/><stop offset=".968" stop-color="#c9fc00"/><stop offset=".994" stop-color="#d4ff00"/></linearGradient>
<linearGradient id="g203" x2="0" y2="1"><stop offset=".004" stop-color="#334c00"/><stop offset=".125" stop-color="#345000"/><stop offset=".247" stop-color="#375400"/><stop offset=".328" stop-color="#405700"/><stop offset=".368" stop-color="#475800"/><stop offset=".409" stop-color="#4f5900"/><stop offset=".437" stop-color="#5a5f00"/><stop offset=".462" stop-color="#6a633a"/><stop offset=".482" stop-color="#7d6792"/><stop offset=".510" stop-color="#826c92"/><stop offset=".539" stop-color="#7c7292"/><stop offset=".563" stop-color="#73763a"/><stop offset=".591" stop-color="#6e7c00"/><stop offset=".652" stop-color="#6b8f00"/><stop offset=".713" stop-color="#6fa700"/><stop offset=".754" stop-color="#77b700"/><stop offset=".855" stop-color="#94e100"/><stop offset=".887" stop-color="#9fef00"/><stop offset=".904" stop-color="#a7f300"/><stop offset=".920" stop-color="#b2f500"/><stop offset=".944" stop-color="#bff900"/><stop offset=".968" stop-color="#cbfc00"/><stop offset=".994" stop-color="#d6ff00"/></linearGradient>
<linearGradient id="g204" x2="0" y2="1"><stop offset=".004" stop-color="#324c00"/><stop offset=".125" stop-color="#345000"/><stop offset=".247" stop-color="#375400"/><stop offset=".328" stop-color="#3f5700"/><stop offset=".368" stop-color="#465800"/><stop offset=".409" stop-color="#4f5900"/><stop offset=".437" stop-color="#5a5f00"/><stop offset=".462" stop-color="#696339"/><stop offset=".482" stop-color="#7d678f"/><stop offset=".510" stop-color="#826c8f"/><stop offset=".539" stop-color="#7c728f"/><stop offset=".563" stop-color="#737639"/><stop offset=".591" stop-color="#6e7c00"/><stop offset=".652" stop-color="#6b8f00"/><stop offset=".713" stop-color="#6fa700"/><stop offset=".754" stop-color="#78b700"/><stop offset=".855" stop-color="#95e100"/><stop offset=".887" stop-color="#a0ef00"/><stop offset=".904" stop-color="#a8f300"/><stop offset=".920" stop-color="#b3f500"/><stop offset=".944" stop-color="#c1f900"/><stop offset=".968" stop-color="#cdfc00"/><stop offset=".994" stop-color="#d8ff00"/></linearGradient>
<linearGradient id="g205" x2="0" y2="1"><stop offset=".004" stop-color="#324c00"/><stop offset=".125" stop-color="#335000"/><stop offset=".247" stop-color="#375400"/><stop offset=".328" stop-color="#3e5700"/><stop offset=".368" stop-color="#455800"/><stop offset=".409" stop-color="#4e5900"/><stop offset=".437" stop-color="#595f00"/><stop offset=".462" stop-color="#696338"/><stop offset=".482" stop-color="#7d678c"/><stop offset=".510" stop-color="#826c8c"/><stop offset=".539" stop-color="#7c728c"/><stop offset=".563" stop-color="#737638"/><stop offset=".591" stop-color="#6e7c00"/><stop offset=".652" stop-color="#6b8f00"/><stop offset=".713" stop-color="#6fa700"/><stop offset=".754" stop-color="#78b700"/><stop offset=".855" stop-color="#95e100"/><stop offset=".887" stop-color="#a1ef00"/><stop offset=".904" stop-color="#a9f300"/><stop offset=".920" stop-color="#b5f500"/><stop offset=".944" stop-color="#c3f900"/><stop offset=".968" stop-color="#cffc00"/><stop offset=".994" stop-color="#d9ff00"/></linearGradient>
<linearGradient id="g206" x2="0" y2="1"><stop offset=".004" stop-color="#314c00"/><stop offset=".125" stop-color="#335000"/><stop offset=".247" stop-color="#365400"/><stop offset=".328" stop-color="#3e5700"/><stop offset=".368" stop-color="#455800"/><stop offset=".409" stop-color="#4e5900"/><stop offset=".437" stop-color="#595f00"/><stop offset=".462" stop-color="#696337"/><stop offset=".482" stop-color="#7d6789"/><stop offset=".510" stop-color="#826c89"/><stop offset=".539" stop-color="#7c7289"/><stop offset=".563" stop-color="#737637"/><stop offset=".591" stop-color="#6e7c00"/><stop offset=".652" stop-color="#6b8f00"/><stop offset=".713" stop-color="#6fa700"/><stop offset=".754" stop-color="#78b700"/><stop offset=".855" stop-color="#96e100"/><stop offset=".887" stop-color="#a1ef00"/><stop offset=".904" stop-color="#aaf300"/><stop offset=".920" stop-color="#b6f500"/><stop offset=".944" stop-color="#c5f900"/><stop offset=".968" stop-color="#d1fc00"/><stop offset=".994" stop-color="#dbff00"/></linearGradient>
<linearGradient id="g207" x2="0" y2="1"><stop offset=".004" stop-color="#314c00"/><stop offset=".125" stop-color="#335000"/><stop offset=".247" stop-color="#365400"/><stop offset=".328" stop-color="#3d5700"/><stop offset=".368" stop-color="#445800"/><stop offset=".409" stop-color="#4d5900"/><stop offset=".437" stop-color="#595f00"/><stop offset=".462" stop-color="#696336"/><stop offset=".482" stop-color="#7d6787"/><stop offset=".510" stop-color="#826c87"/><stop offset=".539" stop-color="#7c7287"/><stop offset=".563" stop-color="#737636"/><stop offset=".591" stop-color="#6e7c00"/><stop offset=".652" stop-color="#6b8f00"/><stop offset=".713" stop-color="#6fa700"/><stop offset=".754" stop-color="#79b700"/><stop offset=".855" stop-color="#97e100"/><stop offset=".887" stop-color="#a2ef00"/><stop offset=".904" stop-color="#abf300"/><stop offset=".920" stop-color="#b8f500"/><stop offset=".944" stop-color="#c7f900"/><stop offset=".968" stop-color="#d3fc00"/><stop offset=".994" stop-color="#dcff00"/></linearGradient>
<linearGradient id="g208" x2="0" y2="1"><stop offset=".004" stop-color="#304c00"/><stop offset=".125" stop-color="#325000"/><stop offset=".247" stop-color="#355400"/><stop offset=".328" stop-color="#3d5700"/><stop offset=".368" stop-color="#445800"/><stop offset=".409" stop-color="#4c5900"/><stop offset=".437" stop-color="#585f00"/><stop offset=".462" stop-color="#696335"/><stop offset=".482" stop-color="#7d6785"/><stop offset=".510" stop-color="#826c85"/><stop offset=".539" stop-color="#7c7285"/><stop offset=".563" stop-color="#737635"/><stop offset=".591" stop-color="#6e7c00"/><stop offset=".652" stop-color="#6b8f00"/><stop offset=".713" stop-color="#6fa700"/><stop offset=".754" stop-color="#79b700"/><stop offset=".855" stop-color="#98e100"/><stop offset=".887" stop-color="#a3ef00"/><stop offset=".904" stop-color="#acf300"/><stop offset=".920" stop-color="#baf500"/><stop offset=".944" stop-color="#c9f900"/><stop offset=".968" stop-color="#d4fc00"/><stop offset=".994" stop-color="#deff00"/></linearGradient>
<linearGradient id="g209" x2="0" y2="1"><stop offset=".004" stop-color="#304c00"/><stop offset=".125" stop-color="#325000"/><stop offset=".247" stop-color="#355400"/><stop offset=".328" stop-color="#3c5700"/><stop offset=".368" stop-color="#435800"/><stop offset=".409" stop-color="#4c5900"/><stop offset=".437" stop-color="#585f00"/><stop offset=".462" stop-color="#696335"/><stop offset=".482" stop-color="#7d6784"/><stop offset=".510" stop-color="#826c84"/><stop offset=".539" stop-color="#7c7284"/><stop offset=".563" stop-color="#737635"/><stop offset=".591" stop-color="#6e7c00"/><stop offset=".652" stop-color="#6b8f00"/><stop offset=".713" stop-color="#70a700"/><stop offset=".754" stop-color="#79b700"/><stop offset=".855" stop-color="#98e100"/><stop offset=".887" stop-color="#a4ef00"/><stop offset=".904" stop-color="#adf300"/><stop offset=".920" stop-color="#bbf500"/><stop offset=".944" stop-color="#cbf900"/><stop offset=".968" stop-color="#d6fc00"/><stop offset=".994" stop-color="#dfff00"/></linearGradient>
<linearGradient id="g210" x2="0" y2="1"><stop offset=".004" stop-color="#304c00"/><stop offset=".125" stop-color="#315000"/><stop offset=".247" stop-color="#345400"/><stop offset=".328" stop-color="#3c5700"/><stop offset=".368" stop-color="#425800"/><stop offset=".409" stop-color="#4b5900"/><stop offset=".437" stop-color="#585f00"/><stop offset=".462" stop-color="#696334"/><stop offset=".482" stop-color="#7d6783"/><stop offset=".510" stop-color="#826c83"/><stop offset=".539" stop-color="#7c7283"/><stop offset=".563" stop-color="#737634"/><stop offset=".591" stop-color="#6f7c00"/><stop offset=".652" stop-color="#6b8f00"/><stop offset=".713" stop-color="#70a700"/><stop offset=".754" stop-color="#79b700"/><stop offset=".855" stop-color="#99e100"/><stop offset=".887" stop-color="#a5ef00"/><stop offset=".904" stop-color="#aff300"/><stop offset=".920" stop-color="#bdf500"/><stop offset=".944" stop-color="#cdf900"/><stop offset=".968" stop-color="#d8fc00"/><stop offset=".994" stop-color="#e1ff00"/></linearGradient>
<linearGradient id="g211" x2="0" y2="1"><stop offset=".004" stop-color="#2f4c00"/><stop offset=".125" stop-color="#315000"/><stop offset=".247" stop-color="#345400"/><stop offset=".328" stop-color="#3b5700"/><stop offset=".368" stop-color="#425800"/><stop offset=".409" stop-color="#4b5900"/><stop offset=".437" stop-color="#585f00"/><stop offset=".462" stop-color="#696334"/><stop offset=".482" stop-color="#7d6782"/><stop offset=".510" stop-color="#826c82"/><stop offset=".539" stop-color="#7c7282"/><stop offset=".563" stop-color="#737634"/><stop offset=".591" stop-color="#6f7c00"/><stop offset=".652" stop-color="#6b8f00"/><stop offset=".713" stop-color="#70a700"/><stop offset=".754" stop-color="#7ab700"/><stop offset=".855" stop-color="#9ae100"/><stop offset=".887" stop-color="#a6ef00"/><stop offset=".904" stop-color="#b0f300"/><stop offset=".920" stop-color="#bef500"/><stop offset=".944" stop-color="#cff900"/><stop offset=".968" stop-color="#dafc00"/><stop offset=".994" stop-color="#e3ff00"/></linearGradient>
<linearGradient id="g212" x2="0" y2="1"><stop offset=".004" stop-color="#2f4c00"/><stop offset=".125" stop-color="#305000"/><stop offset=".247" stop-color="#335400"/><stop offset=".328" stop-color="#3a5700"/><stop offset=".368" stop-color="#415800"/><stop offset=".409" stop-color="#4a5900"/><stop offset=".437" stop-color="#575f00"/><stop offset=".462" stop-color="#696333"/><stop offset=".482" stop-color="#7d6780"/><stop offset=".510" stop-color="#826c80"/><stop offset=".539" stop-color="#7c7280"/><stop offset=".563" stop-color="#737633"/><stop offset=".591" stop-color="#6f7c00"/><stop offset=".652" stop-color="#6c8f00"/><stop offset=".713" stop-color="#70a700"/><stop offset=".754" stop-color="#7ab700"/><stop offset=".855" stop-color="#9be100"/><stop offset=".887" stop-color="#a7ef00"/><stop offset=".904" stop-color="#b1f300"/><stop offset=".920" stop-color="#c0f500"/><stop offset=".944" stop-color="#d1f900"/><stop offset=".968" stop-color="#dcfc00"/><stop offset=".994" stop-color="#e4ff00"/></linearGradient>
<linearGradient id="g213" x2="0" y2="1"><stop offset=".004" stop-color="#2e4c00"/><stop offset=".125" stop-color="#305000"/><stop offset=".247" stop-color="#335400"/><stop offset=".328" stop-color="#3a5700"/><stop offset=".368" stop-color="#405800"/><stop offset=".409" stop-color="#4a5900"/><stop offset=".437" stop-color="#575f00"/><stop offset=".462" stop-color="#696333"/><stop offset=".482" stop-color="#7d677f"/><stop offset=".510" stop-color="#826c7f"/><stop offset=".539" stop-color="#7c727f"/><stop offset=".563" stop-color="#737633"/><stop offset=".591" stop-color="#6f7c00"/><stop offset=".652" stop-color="#6c8f00"/><stop offset=".713" stop-color="#70a700"/><stop offset=".754" stop-color="#7ab700"/><stop offset=".855" stop-color="#9ce100"/><stop offset=".887" stop-color="#a8ef00"/><stop offset=".904" stop-color="#b2f300"/><stop offset=".920" stop-color="#c2f500"/><stop offset=".944" stop-color="#d3f900"/><stop offset=".968" stop-color="#ddfc00"/><stop offset=".994" stop-color="#e6ff00"/></linearGradient>
<linearGradient id="g214" x2="0" y2="1"><stop offset=".004" stop-color="#2e4c00"/><stop offset=".125" stop-color="#2f5000"/><stop offset=".247" stop-color="#325400"/><stop offset=".328" stop-color="#395700"/><stop offset=".368" stop-color="#405800"/><stop offset=".409" stop-color="#495900"/><stop offset=".437" stop-color="#575f00"/><stop offset=".462" stop-color="#696332"/><stop offset=".482" stop-color="#7d677e"/><stop offset=".510" stop-color="#826c7e"/><stop offset=".539" stop-color="#7c727e"/><stop offset=".563" stop-color="#747632"/><stop offset=".591" stop-color="#6f7c00"/><stop offset=".652" stop-color="#6c8f00"/><stop offset=".713" stop-color="#70a700"/><stop offset=".754" stop-color="#7bb700"/><stop offset=".855" stop-color="#9ce100"/><stop offset=".887" stop-color="#a9ef00"/><stop offset=".904" stop-color="#b3f300"/><stop offset=".920" stop-color="#c3f500"/><stop offset=".944" stop-color="#d5f900"/><stop offset=".968" stop-color="#dffc00"/><stop offset=".994" stop-color="#e8ff00"/></linearGradient>
<linearGradient id="g215" x2="0" y2="1"><stop offset=".004" stop-color="#2d4c00"/><stop offset=".125" stop-color="#2f5000"/><stop offset=".247" stop-color="#325400"/><stop offset=".328" stop-color="#395700"/><stop offset=".368" stop-color="#3f5800"/><stop offset=".409" stop-color="#485900"/><stop offset=".437" stop-color="#565f00"/><stop offset=".462" stop-color="#696332"/><stop offset=".482" stop-color="#7d677c"/><stop offset=".510" stop-color="#826c7c"/><stop offset=".539" stop-color="#7c727c"/><stop offset=".563" stop-color="#747632"/><stop offset=".591" stop-color="#6f7c00"/><stop offset=".652" stop-color="#6c8f00"/><stop offset=".713" stop-color="#70a700"/><stop offset=".754" stop-color="#7bb700"/><stop offset=".855" stop-color="#9de100"/><stop offset=".887" stop-color="#aaef00"/><stop offset=".904" stop-color="#b4f300"/><stop offset=".920" stop-color="#c5f500"/><stop offset=".944" stop-color="#d7f900"/><stop offset=".968" stop-color="#e1fc00"/><stop offset=".994" stop-color="#e9ff00"/></linearGradient>
<linearGradient id="g216" x2="0" y2="1"><stop offset=".004" stop-color="#2d4c00"/><stop offset=".125" stop-color="#2e5000"/><stop offset=".247" stop-color="#325400"/><stop offset=".328" stop-color="#385700"/><stop offset=".368" stop-color="#3e5800"/><stop offset=".409" stop-color="#485900"/><stop offset=".437" stop-color="#565f00"/><stop offset=".462" stop-color="#696331"/><stop offset=".482" stop-color="#7d677b"/><stop offset=".510" stop-color="#826c7b"/><stop offset=".539" stop-color="#7c727b"/><stop offset=".563" stop-color="#747631"/><stop offset=".591" stop-color="#6f7c00"/><stop offset=".652" stop-color="#6c8f00"/><stop offset=".713" stop-color="#70a700"/><stop offset=".754" stop-color="#7bb700"/><stop offset=".855" stop-color="#9ee100"/><stop offset=".887" stop-color="#abef00"/><stop offset=".904" stop-color="#b6f300"/><stop offset=".920" stop-color="#c7f500"/><stop offset=".944" stop-color="#d9f900"/><stop offset=".968" stop-color="#e3fc00"/><stop offset=".994" stop-color="#ebff00"/></linearGradient>
<linearGradient id="g217" x2="0" y2="1"><stop offset=".004" stop-color="#2d4c00"/><stop offset=".125" stop-color="#2e5000"/><stop offset=".247" stop-color="#315400"/><stop offset=".328" stop-color="#385700"/><stop offset=".368" stop-color="#3e5800"/><stop offset=".409" stop-color="#475900"/><stop offset=".437" stop-color="#565f00"/><stop offset=".462" stop-color="#696331"/><stop offset=".482" stop-color="#7d677a"/><stop offset=".510" stop-color="#826c7a"/><stop offset=".539" stop-color="#7c727a"/><stop offset=".563" stop-color="#747631"/><stop offset=".591" stop-color="#6f7c00"/><stop offset=".652" stop-color="#6c8f00"/><stop offset=".713" stop-color="#71a700"/><stop offset=".754" stop-color="#7cb700"/><stop offset=".855" stop-color="#9ee100"/><stop offset=".887" stop-color="#abef00"/><stop offset=".904" stop-color="#b6f300"/><stop offset=".920" stop-color="#c8f500"/><stop offset=".944" stop-color="#daf900"/><stop offset=".968" stop-color="#e4fc00"/><stop offset=".994" stop-color="#ecff00"/></linearGradient>
<linearGradient id="g218" x2="0" y2="1"><stop offset=".004" stop-color="#524c00"/><stop offset=".247" stop-color="#545400"/><stop offset=".328" stop-color="#585700"/><stop offset=".368" stop-color="#5b5800"/><stop offset=".409" stop-color="#5f5900"/><stop offset=".437" stop-color="#665f00"/><stop offset=".462" stop-color="#6f6318"/><stop offset=".482" stop-color="#7d673b"/><stop offset=".510" stop-color="#826c3b"/><stop offset=".539" stop-color="#7c723b"/><stop offset=".563" stop-color="#757618"/><stop offset=".591" stop-color="#727c00"/><stop offset=".652" stop-color="#718f00"/><stop offset=".713" stop-color="#73a700"/><stop offset=".754" stop-color="#7cb700"/><stop offset=".855" stop-color="#9ee100"/><stop offset=".887" stop-color="#abef00"/><stop offset=".904" stop-color="#b6f300"/><stop offset=".920" stop-color="#c8f500"/><stop offset=".944" stop-color="#daf900"/><stop offset=".968" stop-color="#e4fc00"/><stop offset=".994" stop-color="#ecff00"/></linearGradient>
<linearGradient id="g219" x2="0" y2="1"><stop offset=".004" stop-color="#2e4c00"/><stop offset=".125" stop-color="#305000"/><stop offset=".247" stop-color="#335400"/><stop offset=".328" stop-color="#3a5700"/><stop offset=".368" stop-color="#415800"/><stop offset=".409" stop-color="#4a5900"/><stop offset=".437" stop-color="#575f00"/><stop offset=".462" stop-color="#696333"/><stop offset=".482" stop-color="#7d677f"/><stop offset=".510" stop-color="#826c7f"/><stop offset=".539" stop-color="#7c727f"/><stop offset=".563" stop-color="#737633"/><stop offset=".591" stop-color="#6f7c00"/><stop offset=".652" stop-color="#6c8f00"/><stop offset=".713" stop-color="#70a700"/><stop offset=".754" stop-color="#7ab700"/><stop offset=".855" stop-color="#9be100"/><stop offset=".887" stop-color="#a7ef00"/><stop offset=".904" stop-color="#b2f300"/><stop offset=".920" stop-color="#c1f500"/><stop offset=".944" stop-color="#d3f900"/><stop offset=".968" stop-color="#ddfc00"/><stop offset=".994" stop-color="#e6ff00"/></linearGradient>
<linearGradient id="g220" x2="0" y2="1"><stop offset=".004" stop-color="#364c00"/><stop offset=".125" stop-color="#385000"/><stop offset=".247" stop-color="#3b5400"/><stop offset=".328" stop-color="#445700"/><stop offset=".409" stop-color="#545900"/><stop offset=".437" stop-color="#5d5f00"/><stop offset=".462" stop-color="#6a633c"/><stop offset=".482" stop-color="#7d6795"/><stop offset=".510" stop-color="#826c95"/><stop offset=".539" stop-color="#7c7295"/><stop offset=".563" stop-color="#72763c"/><stop offset=".591" stop-color="#6e7c00"/><stop offset=".652" stop-color="#6a8f00"/><stop offset=".713" stop-color="#6ea700"/><stop offset=".754" stop-color="#75b700"/><stop offset=".855" stop-color="#8ee100"/><stop offset=".887" stop-color="#98ef00"/><stop offset=".920" stop-color="#a5f500"/><stop offset=".944" stop-color="#aff900"/><stop offset=".968" stop-color="#bdfc00"/><stop offset=".994" stop-color="#c9ff00"/></linearGradient>
<linearGradient id="g221" x2="0" y2="1"><stop offset=".004" stop-color="#384c00"/><stop offset=".125" stop-color="#395000"/><stop offset=".247" stop-color="#3c5400"/><stop offset=".328" stop-color="#465700"/><stop offset=".409" stop-color="#565900"/><stop offset=".437" stop-color="#5e5f00"/><stop offset=".462" stop-color="#6a633d"/><stop offset=".482" stop-color="#7d6799"/><stop offset=".510" stop-color="#826c99"/><stop offset=".539" stop-color="#7c7299"/><stop offset=".563" stop-color="#72763d"/><stop offset=".591" stop-color="#6d7c00"/><stop offset=".652" stop-color="#6a8f00"/><stop offset=".713" stop-color="#6da700"/><stop offset=".754" stop-color="#74b700"/><stop offset=".855" stop-color="#8be100"/><stop offset=".904" stop-color="#9af300"/><stop offset=".944" stop-color="#a9f900"/><stop offset=".968" stop-color="#b8fc00"/><stop offset=".994" stop-color="#c4ff00"/></linearGradient>
<linearGradient id="g222" x2="0" y2="1"><stop offset=".004" stop-color="#384c00"/><stop offset=".125" stop-color="#3a5000"/><stop offset=".247" stop-color="#3d5400"/><stop offset=".328" stop-color="#455700"/><stop offset=".409" stop-color="#545900"/><stop offset=".437" stop-color="#5b5f00"/><stop offset=".462" stop-color="#666336"/><stop offset=".482" stop-color="#776788"/><stop offset=".510" stop-color="#7c6c88"/><stop offset=".539" stop-color="#767288"/><stop offset=".563" stop-color="#6e7636"/><stop offset=".591" stop-color="#6a7c00"/><stop offset=".652" stop-color="#688f00"/><stop offset=".713" stop-color="#6da700"/><stop offset=".754" stop-color="#73b700"/><stop offset=".855" stop-color="#8ae100"/><stop offset=".904" stop-color="#99f300"/><stop offset=".944" stop-color="#a8f900"/><stop offset=".968" stop-color="#b5fc00"/><stop offset=".994" stop-color="#c2ff00"/></linearGradient>
<linearGradient id="g223" x2="0" y2="1"><stop offset=".004" stop-color="#394c00"/><stop offset=".125" stop-color="#3b5000"/><stop offset=".247" stop-color="#3d5400"/><stop offset=".328" stop-color="#445700"/><stop offset=".409" stop-color="#505900"/><stop offset=".437" stop-color="#555f00"/><stop offset=".462" stop-color="#5d6327"/><stop offset=".482" stop-color="#6a6762"/><stop offset=".510" stop-color="#6d6c62"/><stop offset=".539" stop-color="#697262"/><stop offset=".563" stop-color="#647627"/><stop offset=".591" stop-color="#627c00"/><stop offset=".652" stop-color="#658f00"/><stop offset=".713" stop-color="#6ca700"/><stop offset=".754" stop-color="#73b700"/><stop offset=".855" stop-color="#87e100"/><stop offset=".904" stop-color="#95f300"/><stop offset=".944" stop-color="#a3f900"/><stop offset=".994" stop-color="#bdff00"/></linearGradient>
<linearGradient id="g224" x2="0" y2="1"><stop offset=".004" stop-color="#3b4c00"/><stop offset=".247" stop-color="#3e5400"/><stop offset=".328" stop-color="#435700"/><stop offset=".409" stop-color="#4c5900"/><stop offset=".437" stop-color="#4f5f00"/><stop offset=".462" stop-color="#556318"/><stop offset=".482" stop-color="#5c673c"/><stop offset=".510" stop-color="#5f6c3c"/><stop offset=".539" stop-color="#5d723c"/><stop offset=".563" stop-color="#5a7618"/><stop offset=".591" stop-color="#5a7c00"/><stop offset=".652" stop-color="#618f00"/><stop offset=".754" stop-color="#72b700"/><stop offset=".827" stop-color="#7ed500"/><stop offset=".887" stop-color="#8cef00"/><stop offset=".920" stop-color="#96f500"/><stop offset=".944" stop-color="#9ff900"/><stop offset=".994" stop-color="#b9ff00"/></linearGradient>
<linearGradient id="g225" x2="0" y2="1"><stop offset=".004" stop-color="#3c4c00"/><stop offset=".247" stop-color="#3f5400"/><stop offset=".328" stop-color="#425700"/><stop offset=".409" stop-color="#485900"/><stop offset=".462" stop-color="#4c6308"/><stop offset=".482" stop-color="#4f6715"/><stop offset=".510" stop-color="#506c15"/><stop offset=".539" stop-color="#507215"/><stop offset=".563" stop-color="#507608"/><stop offset=".591" stop-color="#527c00"/><stop offset=".652" stop-color="#5d8f00"/><stop offset=".713" stop-color="#6ba700"/><stop offset=".827" stop-color="#7cd500"/><stop offset=".887" stop-color="#89ef00"/><stop offset=".920" stop-color="#92f500"/><stop offset=".944" stop-color="#9af900"/><stop offset=".968" stop-color="#a6fc00"/><stop offset=".994" stop-color="#b4ff00"/></linearGradient>
<linearGradient id="g226" x2="0" y2="1"><stop offset=".004" stop-color="#3c4c00"/><stop offset=".247" stop-color="#3f5400"/><stop offset=".328" stop-color="#415700"/><stop offset=".409" stop-color="#465900"/><stop offset=".539" stop-color="#497200"/><stop offset=".563" stop-color="#4a7600"/><stop offset=".591" stop-color="#4e7c00"/><stop offset=".652" stop-color="#5a8f00"/><stop offset=".713" stop-color="#6aa700"/><stop offset=".754" stop-color="#71b700"/><stop offset=".827" stop-color="#7ad500"/><stop offset=".887" stop-color="#87ef00"/><stop offset=".920" stop-color="#90f500"/><stop offset=".944" stop-color="#98f900"/><stop offset=".968" stop-color="#a3fc00"/><stop offset=".994" stop-color="#b1ff00"/></linearGradient>
<linearGradient id="g227" x2="0" y2="1"><stop offset=".004" stop-color="#714c00"/><stop offset=".409" stop-color="#725900"/><stop offset=".591" stop-color="#727c00"/><stop offset=".713" stop-color="#74a700"/><stop offset=".794" stop-color="#75c800"/><stop offset=".827" stop-color="#7ad500"/><stop offset=".887" stop-color="#87ef00"/><stop offset=".920" stop-color="#90f500"/><stop offset=".944" stop-color="#98f900"/><stop offset=".968" stop-color="#a3fc00"/><stop offset=".994" stop-color="#b1ff00"/></linearGradient>
<linearGradient id="g228" x2="0" y2="1"><stop offset=".004" stop-color="#4f4c00"/><stop offset=".328" stop-color="#515700"/><stop offset=".409" stop-color="#535900"/><stop offset=".563" stop-color="#547600"/><stop offset=".591" stop-color="#567c00"/><stop offset=".652" stop-color="#5b8f00"/><stop offset=".713" stop-color="#6aa700"/><stop offset=".754" stop-color="#71b700"/><stop offset=".827" stop-color="#7ad500"/><stop offset=".887" stop-color="#87ef00"/><stop offset=".920" stop-color="#90f500"/><stop offset=".944" stop-color="#98f900"/><stop offset=".968" stop-color="#a3fc00"/><stop offset=".994" stop-color="#b1ff00"/></linearGradient>
<linearGradient id="g229" x2="0" y2="1"><stop offset=".004" stop-color="#4e4c00"/><stop offset=".328" stop-color="#505700"/><stop offset=".409" stop-color="#525900"/><stop offset=".563" stop-color="#547600"/><stop offset=".591" stop-color="#557c00"/><stop offset=".652" stop-color="#5a8f00"/><stop offset=".713" stop-color="#6aa700"/><stop offset=".754" stop-color="#71b700"/><stop offset=".827" stop-color="#7ad500"/><stop offset=".887" stop-color="#87ef00"/><stop offset=".920" stop-color="#90f500"/><stop offset=".944" stop-color="#98f900"/><stop offset=".968" stop-color="#a3fc00"/><stop offset=".994" stop-color="#b1ff00"/></linearGradient>
<linearGradient id="g230" x2="0" y2="1"><stop offset=".004" stop-color="#3c4c00"/><stop offset=".247" stop-color="#3f5400"/><stop offset=".328" stop-color="#415700"/><stop offset=".409" stop-color="#465900"/><stop offset=".539" stop-color="#497200"/><stop offset=".563" stop-color="#4a7600"/><stop offset=".591" stop-color="#4e7c00"/><stop offset=".652" stop-color="#5a8f00"/><stop offset=".713" stop-color="#6aa700"/><stop offset=".754" stop-color="#71b700"/><stop offset=".827" stop-color="#7ad500"/><stop offset=".887" stop-color="#87ef00"/><stop offset=".920" stop-color="#90f500"/><stop offset=".944" stop-color="#98f900"/><stop offset=".968" stop-color="#a3fc00"/><stop offset=".994" stop-color="#b1ff00"/></linearGradient>
<linearGradient id="g231" x2="0" y2="1"><stop offset=".004" stop-color="#3c4c00"/><stop offset=".247" stop-color="#3f5400"/><stop offset=".328" stop-color="#415700"/><stop offset=".409" stop-color="#465900"/><stop offset=".563" stop-color="#4b7602"/><stop offset=".591" stop-color="#4f7c00"/><stop offset=".652" stop-color="#5b8f00"/><stop offset=".713" stop-color="#6aa700"/><stop offset=".754" stop-color="#71b700"/><stop offset=".827" stop-color="#7ad500"/><stop offset=".887" stop-color="#87ef00"/><stop offset=".920" stop-color="#90f500"/><stop offset=".944" stop-color="#99f900"/><stop offset=".968" stop-color="#a4fc00"/><stop offset=".994" stop-color="#b2ff00"/></linearGradient>
<linearGradient id="g232" x2="0" y2="1"><stop offset=".004" stop-color="#644c00"/><stop offset=".368" stop-color="#655800"/><stop offset=".409" stop-color="#665900"/><stop offset=".591" stop-color="#687c00"/><stop offset=".713" stop-color="#6da700"/><stop offset=".794" stop-color="#76c800"/><stop offset=".827" stop-color="#7bd500"/><stop offset=".887" stop-color="#87ef00"/><stop offset=".920" stop-color="#91f500"/><stop offset=".944" stop-color="#99f900"/><stop offset=".968" stop-color="#a4fc00"/><stop offset=".994" stop-color="#b2ff00"/></linearGradient>
<linearGradient id="g233" x2="0" y2="1"><stop offset=".004" stop-color="#3c4c00"/><stop offset=".247" stop-color="#3f5400"/><stop offset=".328" stop-color="#425700"/><stop offset=".409" stop-color="#475900"/><stop offset=".462" stop-color="#4a6307"/><stop offset=".482" stop-color="#4c6711"/><stop offset=".539" stop-color="#4e7211"/><stop offset=".563" stop-color="#4e7607"/><stop offset=".591" stop-color="#517c00"/><stop offset=".652" stop-color="#5c8f00"/><stop offset=".713" stop-color="#6ba700"/><stop offset=".827" stop-color="#7bd500"/><stop offset=".887" stop-color="#88ef00"/><stop offset=".920" stop-color="#91f500"/><stop offset=".944" stop-color="#9af900"/><stop offset=".968" stop-color="#a5fc00"/><stop offset=".994" stop-color="#b3ff00"/></linearGradient>
<linearGradient id="g234" x2="0" y2="1"><stop offset=".004" stop-color="#3c4c00"/><stop offset=".247" stop-color="#3f5400"/><stop offset=".328" stop-color="#425700"/><stop offset=".409" stop-color="#485900"/><stop offset=".437" stop-color="#495f00"/><stop offset=".482" stop-color="#4e6719"/><stop offset=".510" stop-color="#506c19"/><stop offset=".539" stop-color="#507219"/><stop offset=".563" stop-color="#4f760a"/><stop offset=".591" stop-color="#527c00"/><stop offset=".652" stop-color="#5c8f00"/><stop offset=".713" stop-color="#6ba700"/><stop offset=".827" stop-color="#7bd500"/><stop offset=".887" stop-color="#89ef00"/><stop offset=".920" stop-color="#92f500"/><stop offset=".944" stop-color="#9af900"/><stop offset=".968" stop-color="#a6fc00"/><stop offset=".994" stop-color="#b4ff00"/></linearGradient>
<linearGradient id="g235" x2="0" y2="1"><stop offset=".004" stop-color="#3c4c00"/><stop offset=".247" stop-color="#3f5400"/><stop offset=".328" stop-color="#425700"/><stop offset=".409" stop-color="#485900"/><stop offset=".437" stop-color="#4a5f00"/><stop offset=".462" stop-color="#4d630d"/><stop offset=".482" stop-color="#50671f"/><stop offset=".510" stop-color="#526c1f"/><stop offset=".539" stop-color="#52721f"/><stop offset=".563" stop-color="#51760d"/><stop offset=".591" stop-color="#537c00"/><stop offset=".652" stop-color="#5d8f00"/><stop offset=".713" stop-color="#6ba700"/><stop offset=".827" stop-color="#7cd500"/><stop offset=".887" stop-color="#89ef00"/><stop offset=".920" stop-color="#93f500"/><stop offset=".944" stop-color="#9bf900"/><stop offset=".968" stop-color="#a6fc00"/><stop offset=".994" stop-color="#b4ff00"/></linearGradient>
<linearGradient id="g236" x2="0" y2="1"><stop offset=".004" stop-color="#4e4c00"/><stop offset=".247" stop-color="#4f5400"/><stop offset=".368" stop-color="#525800"/><stop offset=".409" stop-color="#545900"/><stop offset=".462" stop-color="#566306"/><stop offset=".482" stop-color="#586710"/><stop offset=".539" stop-color="#587210"/><stop offset=".591" stop-color="#597c00"/><stop offset=".652" stop-color="#5d8f00"/><stop offset=".713" stop-color="#6ba700"/><stop offset=".827" stop-color="#7cd500"/><stop offset=".887" stop-color="#89ef00"/><stop offset=".920" stop-color="#93f500"/><stop offset=".944" stop-color="#9bf900"/><stop offset=".968" stop-color="#a7fc00"/><stop offset=".994" stop-color="#b5ff00"/></linearGradient>
<linearGradient id="g237" x2="0" y2="1"><stop offset=".004" stop-color="#3b4c00"/><stop offset=".247" stop-color="#3e5400"/><stop offset=".328" stop-color="#425700"/><stop offset=".409" stop-color="#495900"/><stop offset=".437" stop-color="#4b5f00"/><stop offset=".462" stop-color="#4e6310"/><stop offset=".482" stop-color="#526728"/><stop offset=".510" stop-color="#546c28"/><stop offset=".539" stop-color="#537228"/><stop offset=".563" stop-color="#527610"/><stop offset=".591" stop-color="#547c00"/><stop offset=".652" stop-color="#5e8f00"/><stop offset=".713" stop-color="#6ba700"/><stop offset=".827" stop-color="#7cd500"/><stop offset=".887" stop-color="#8aef00"/><stop offset=".920" stop-color="#93f500"/><stop offset=".944" stop-color="#9cf900"/><stop offset=".968" stop-color="#a7fc00"/><stop offset=".994" stop-color="#b5ff00"/></linearGradient>
<linearGradient id="g238" x2="0" y2="1"><stop offset=".004" stop-color="#794c00"/><stop offset=".409" stop-color="#7b5900"/><stop offset=".539" stop-color="#7c7206"/><stop offset=".591" stop-color="#7c7c00"/><stop offset=".713" stop-color="#7da700"/><stop offset=".827" stop-color="#7fd500"/><stop offset=".887" stop-color="#8cef00"/><stop offset=".920" stop-color="#96f500"/><stop offset=".944" stop-color="#9ef900"/><stop offset=".994" stop-color="#b8ff00"/></linearGradient>
<linearGradient id="g239" x2="0" y2="1"><stop offset=".004" stop-color="#794c00"/><stop offset=".368" stop-color="#7a5800"/><stop offset=".409" stop-color="#7b5900"/><stop offset=".510" stop-color="#7d6c09"/><stop offset=".591" stop-color="#7c7c00"/><stop offset=".713" stop-color="#7da700"/><stop offset=".794" stop-color="#7ec800"/><stop offset=".827" stop-color="#80d500"/><stop offset=".887" stop-color="#8fef00"/><stop offset=".920" stop-color="#99f500"/><stop offset=".944" stop-color="#a2f900"/><stop offset=".994" stop-color="#bcff00"/></linearGradient>
<linearGradient id="g240" x2="0" y2="1"><stop offset=".004" stop-color="#394c00"/><stop offset=".125" stop-color="#3a5000"/><stop offset=".247" stop-color="#3d5400"/><stop offset=".328" stop-color="#455700"/><stop offset=".409" stop-color="#525900"/><stop offset=".437" stop-color="#585f00"/><stop offset=".462" stop-color="#626341"/><stop offset=".482" stop-color="#7067a4"/><stop offset=".510" stop-color="#746ca4"/><stop offset=".539" stop-color="#6f72a4"/><stop offset=".563" stop-color="#687641"/><stop offset=".591" stop-color="#667c00"/><stop offset=".652" stop-color="#668f00"/><stop offset=".713" stop-color="#6da700"/><stop offset=".754" stop-color="#73b700"/><stop offset=".855" stop-color="#89e100"/><stop offset=".904" stop-color="#97f300"/><stop offset=".944" stop-color="#a5f900"/><stop offset=".968" stop-color="#b3fc00"/><stop offset=".994" stop-color="#c0ff00"/></linearGradient>
<linearGradient id="g241" x2="0" y2="1"><stop offset=".004" stop-color="#384c00"/><stop offset=".125" stop-color="#395000"/><stop offset=".247" stop-color="#3d5400"/><stop offset=".328" stop-color="#465700"/><stop offset=".409" stop-color="#555900"/><stop offset=".437" stop-color="#5d5f00"/><stop offset=".462" stop-color="#696355"/><stop offset=".482" stop-color="#7b67d4"/><stop offset=".510" stop-color="#7f6cd4"/><stop offset=".539" stop-color="#7972d4"/><stop offset=".563" stop-color="#707655"/><stop offset=".591" stop-color="#6c7c00"/><stop offset=".652" stop-color="#6a8f00"/><stop offset=".713" stop-color="#6da700"/><stop offset=".754" stop-color="#74b700"/><stop offset=".855" stop-color="#8be100"/><stop offset=".904" stop-color="#9af300"/><stop offset=".944" stop-color="#a9f900"/><stop offset=".968" stop-color="#b7fc00"/><stop offset=".994" stop-color="#c4ff00"/></linearGradient>
<linearGradient id="g242" x2="0" y2="1"><stop offset=".004" stop-color="#384c00"/><stop offset=".125" stop-color="#395000"/><stop offset=".247" stop-color="#3c5400"/><stop offset=".328" stop-color="#465700"/><stop offset=".409" stop-color="#565900"/><stop offset=".437" stop-color="#5e5f00"/><stop offset=".462" stop-color="#6a635e"/><stop offset=".482" stop-color="#7d67eb"/><stop offset=".510" stop-color="#826ceb"/><stop offset=".539" stop-color="#7c72eb"/><stop offset=".563" stop-color="#72765e"/><stop offset=".591" stop-color="#6d7c00"/><stop offset=".652" stop-color="#6a8f00"/><stop offset=".713" stop-color="#6da700"/><stop offset=".754" stop-color="#74b700"/><stop offset=".855" stop-color="#8be100"/><stop offset=".904" stop-color="#9af300"/><stop offset=".944" stop-color="#a9f900"/><stop offset=".968" stop-color="#b8fc00"/><stop offset=".994" stop-color="#c4ff00"/></linearGradient>
<linearGradient id="g243" x2="0" y2="1"><stop offset=".004" stop-color="#384c00"/><stop offset=".125" stop-color="#395000"/><stop offset=".247" stop-color="#3c5400"/><stop offset=".328" stop-color="#465700"/><stop offset=".409" stop-color="#565900"/><stop offset=".437" stop-color="#5e5f00"/><stop offset=".462" stop-color="#6a6365"/><stop offset=".482" stop-color="#7d67fd"/><stop offset=".510" stop-color="#826cfd"/><stop offset=".539" stop-color="#7c72fd"/><stop offset=".563" stop-color="#727665"/><stop offset=".591" stop-color="#6d7c00"/><stop offset=".652" stop-color="#6a8f00"/><stop offset=".713" stop-color="#6da700"/><stop offset=".754" stop-color="#74b700"/><stop offset=".855" stop-color="#8be100"/><stop offset=".904" stop-color="#9af300"/><stop offset=".944" stop-color="#a9f900"/><stop offset=".968" stop-color="#b8fc00"/><stop offset=".994" stop-color="#c4ff00"/></linearGradient>
<linearGradient id="g244" x2="0" y2="1"><stop offset=".004" stop-color="#384c00"/><stop offset=".125" stop-color="#395000"/><stop offset=".247" stop-color="#3c5400"/><stop offset=".328" stop-color="#465700"/><stop offset=".409" stop-color="#565900"/><stop offset=".437" stop-color="#5e5f00"/><stop offset=".462" stop-color="#6a6366"/><stop offset=".482" stop-color="#7d67ff"/><stop offset=".510" stop-color="#826cff"/><stop offset=".539" stop-color="#7c72ff"/><stop offset=".563" stop-color="#727666"/><stop offset=".591" stop-color="#6d7c00"/><stop offset=".652" stop-color="#6a8f00"/><stop offset=".713" stop-color="#6da700"/><stop offset=".754" stop-color="#74b700"/><stop offset=".855" stop-color="#8be100"/><stop offset=".904" stop-color="#9af300"/><stop offset=".944" stop-color="#a9f900"/><stop offset=".968" stop-color="#b8fc00"/><stop offset=".994" stop-color="#c4ff00"/></linearGradient>
<linearGradient id="g245" x2="0" y2="1"><stop offset=".004" stop-color="#594c00"/><stop offset=".247" stop-color="#5b5400"/><stop offset=".328" stop-color="#5e5700"/><stop offset=".409" stop-color="#635900"/><stop offset=".437" stop-color="#655f00"/><stop offset=".462" stop-color="#6a6320"/><stop offset=".482" stop-color="#7d674f"/><stop offset=".510" stop-color="#826c4f"/><stop offset=".539" stop-color="#7c724f"/><stop offset=".563" stop-color="#727620"/><stop offset=".591" stop-color="#6d7c00"/><stop offset=".652" stop-color="#6a8f00"/><stop offset=".713" stop-color="#6da700"/><stop offset=".754" stop-color="#74b700"/><stop offset=".855" stop-color="#8be100"/><stop offset=".904" stop-color="#9af300"/><stop offset=".944" stop-color="#a9f900"/><stop offset=".968" stop-color="#b8fc00"/><stop offset=".994" stop-color="#c4ff00"/></linearGradient>
<linearGradient id="g246" x2="0" y2="1"><stop offset=".004" stop-color="#494c00"/><stop offset=".247" stop-color="#4c5400"/><stop offset=".328" stop-color="#525700"/><stop offset=".409" stop-color="#5c5900"/><stop offset=".437" stop-color="#615f00"/><stop offset=".462" stop-color="#6a6343"/><stop offset=".482" stop-color="#7d67a7"/><stop offset=".510" stop-color="#826ca7"/><stop offset=".539" stop-color="#7c72a7"/><stop offset=".563" stop-color="#727643"/><stop offset=".591" stop-color="#6d7c00"/><stop offset=".652" stop-color="#6a8f00"/><stop offset=".713" stop-color="#6da700"/><stop offset=".754" stop-color="#74b700"/><stop offset=".855" stop-color="#8be100"/><stop offset=".904" stop-color="#9af300"/><stop offset=".944" stop-color="#a9f900"/><stop offset=".968" stop-color="#b8fc00"/><stop offset=".994" stop-color="#c4ff00"/></linearGradient>
<linearGradient id="g247" x2="0" y2="1"><stop offset=".004" stop-color="#484c00"/><stop offset=".247" stop-color="#4a5400"/><stop offset=".328" stop-color="#4f5700"/><stop offset=".409" stop-color="#585900"/><stop offset=".437" stop-color="#5e5f00"/><stop offset=".462" stop-color="#6a6337"/><stop offset=".482" stop-color="#7d678a"/><stop offset=".510" stop-color="#826c8a"/><stop offset=".539" stop-color="#7c728a"/><stop offset=".563" stop-color="#727637"/><stop offset=".591" stop-color="#6d7c00"/><stop offset=".652" stop-color="#6a8f00"/><stop offset=".713" stop-color="#6da700"/><stop offset=".754" stop-color="#74b700"/><stop offset=".855" stop-color="#8be100"/><stop offset=".904" stop-color="#9af300"/><stop offset=".944" stop-color="#a9f900"/><stop offset=".968" stop-color="#b8fc00"/><stop offset=".994" stop-color="#c4ff00"/></linearGradient>
<linearGradient id="g248" x2="0" y2="1"><stop offset=".004" stop-color="#384c00"/><stop offset=".125" stop-color="#395000"/><stop offset=".247" stop-color="#3c5400"/><stop offset=".328" stop-color="#465700"/><stop offset=".409" stop-color="#565900"/><stop offset=".437" stop-color="#5e5f00"/><stop offset=".462" stop-color="#6a6365"/><stop offset=".482" stop-color="#7d67fc"/><stop offset=".510" stop-color="#826cfc"/><stop offset=".539" stop-color="#7c72fc"/><stop offset=".563" stop-color="#727665"/><stop offset=".591" stop-color="#6d7c00"/><stop offset=".652" stop-color="#6a8f00"/><stop offset=".713" stop-color="#6da700"/><stop offset=".754" stop-color="#74b700"/><stop offset=".855" stop-color="#8be100"/><stop offset=".904" stop-color="#9af300"/><stop offset=".944" stop-color="#a9f900"/><stop offset=".968" stop-color="#b8fc00"/><stop offset=".994" stop-color="#c4ff00"/></linearGradient>
<linearGradient id="g249" x2="0" y2="1"><stop offset=".004" stop-color="#384c00"/><stop offset=".125" stop-color="#395000"/><stop offset=".247" stop-color="#3c5400"/><stop offset=".328" stop-color="#465700"/><stop offset=".409" stop-color="#565900"/><stop offset=".437" stop-color="#5e5f00"/><stop offset=".462" stop-color="#6a6363"/><stop offset=".482" stop-color="#7d67f6"/><stop offset=".510" stop-color="#826cf6"/><stop offset=".539" stop-color="#7c72f6"/><stop offset=".563" stop-color="#727663"/><stop offset=".591" stop-color="#6d7c00"/><stop offset=".652" stop-color="#6a8f00"/><stop offset=".713" stop-color="#6da700"/><stop offset=".754" stop-color="#74b700"/><stop offset=".855" stop-color="#8be100"/><stop offset=".904" stop-color="#9af300"/><stop offset=".944" stop-color="#a9f900"/><stop offset=".968" stop-color="#b8fc00"/><stop offset=".994" stop-color="#c4ff00"/></linearGradient>
<linearGradient id="g250" x2="0" y2="1"><stop offset=".004" stop-color="#384c00"/><stop offset=".125" stop-color="#395000"/><stop offset=".247" stop-color="#3c5400"/><stop offset=".328" stop-color="#465700"/><stop offset=".409" stop-color="#565900"/><stop offset=".437" stop-color="#5e5f00"/><stop offset=".462" stop-color="#6a6361"/><stop offset=".482" stop-color="#7d67f4"/><stop offset=".510" stop-color="#826cf4"/><stop offset=".539" stop-color="#7c72f4"/><stop offset=".563" stop-color="#727661"/><stop offset=".591" stop-color="#6d7c00"/><stop offset=".652" stop-color="#6a8f00"/><stop offset=".713" stop-color="#6da700"/><stop offset=".754" stop-color="#74b700"/><stop offset=".855" stop-color="#8be100"/><stop offset=".904" stop-color="#9af300"/><stop offset=".944" stop-color="#a9f900"/><stop offset=".968" stop-color="#b8fc00"/><stop offset=".994" stop-color="#c4ff00"/></linearGradient>
<linearGradient id="g251" x2="0" y2="1"><stop offset=".004" stop-color="#574c00"/><stop offset=".247" stop-color="#595400"/><stop offset=".328" stop-color="#5c5700"/><stop offset=".409" stop-color="#615900"/><stop offset=".437" stop-color="#635f00"/><stop offset=".462" stop-color="#6a631e"/><stop offset=".482" stop-color="#7d674b"/><stop offset=".510" stop-color="#826c4b"/><stop offset=".539" stop-color="#7c724b"/><stop offset=".563" stop-color="#72761e"/><stop offset=".591" stop-color="#6d7c00"/><stop offset=".652" stop-color="#6a8f00"/><stop offset=".713" stop-color="#6da700"/><stop offset=".754" stop-color="#74b700"/><stop offset=".855" stop-color="#8be100"/><stop offset=".904" stop-color="#9af300"/><stop offset=".944" stop-color="#a9f900"/><stop offset=".968" stop-color="#b8fc00"/><stop offset=".994" stop-color="#c4ff00"/></linearGradient>
<linearGradient id="g252" x2="0" y2="1"><stop offset=".004" stop-color="#5c4c00"/><stop offset=".368" stop-color="#5d5800"/><stop offset=".409" stop-color="#5e5900"/><stop offset=".462" stop-color="#606309"/><stop offset=".482" stop-color="#616717"/><stop offset=".539" stop-color="#617217"/><stop offset=".591" stop-color="#607c00"/><stop offset=".652" stop-color="#618f00"/><stop offset=".713" stop-color="#65a700"/><stop offset=".754" stop-color="#6eb700"/><stop offset=".794" stop-color="#76c800"/><stop offset=".855" stop-color="#7ee100"/><stop offset=".887" stop-color="#85ef00"/><stop offset=".920" stop-color="#8ef500"/><stop offset=".944" stop-color="#97f900"/><stop offset=".968" stop-color="#a4fc00"/><stop offset=".994" stop-color="#b6ff00"/></linearGradient>
<linearGradient id="g253" x2="0" y2="1"><stop offset=".004" stop-color="#5d4c00"/><stop offset=".409" stop-color="#5d5900"/><stop offset=".462" stop-color="#5e6306"/><stop offset=".482" stop-color="#5f670f"/><stop offset=".539" stop-color="#5f720f"/><stop offset=".591" stop-color="#5e7c00"/><stop offset=".652" stop-color="#608f00"/><stop offset=".713" stop-color="#64a700"/><stop offset=".754" stop-color="#6db700"/><stop offset=".794" stop-color="#74c800"/><stop offset=".855" stop-color="#7ce100"/><stop offset=".887" stop-color="#82ef00"/><stop offset=".920" stop-color="#8cf500"/><stop offset=".944" stop-color="#94f900"/><stop offset=".968" stop-color="#a1fc00"/><stop offset=".994" stop-color="#b4ff00"/></linearGradient>
<linearGradient id="g254" x2="0" y2="1"><stop offset=".004" stop-color="#5b4c00"/><stop offset=".328" stop-color="#5d5700"/><stop offset=".409" stop-color="#5e5900"/><stop offset=".462" stop-color="#5f6308"/><stop offset=".482" stop-color="#616715"/><stop offset=".539" stop-color="#617215"/><stop offset=".591" stop-color="#607c00"/><stop offset=".652" stop-color="#618f00"/><stop offset=".713" stop-color="#65a700"/><stop offset=".754" stop-color="#6fb700"/><stop offset=".855" stop-color="#7fe100"/><stop offset=".887" stop-color="#85ef00"/><stop offset=".920" stop-color="#8ff500"/><stop offset=".944" stop-color="#97f900"/><stop offset=".968" stop-color="#a4fc00"/><stop offset=".994" stop-color="#b6ff00"/></linearGradient>
<linearGradient id="g255" x2="0" y2="1"><stop offset=".004" stop-color="#3a4c00"/><stop offset=".247" stop-color="#3e5400"/><stop offset=".328" stop-color="#435700"/><stop offset=".409" stop-color="#4e5900"/><stop offset=".437" stop-color="#525f00"/><stop offset=".462" stop-color="#596330"/><stop offset=".482" stop-color="#626777"/><stop offset=".510" stop-color="#656c77"/><stop offset=".539" stop-color="#627277"/><stop offset=".563" stop-color="#5e7630"/><stop offset=".591" stop-color="#5e7c00"/><stop offset=".652" stop-color="#628f00"/><stop offset=".794" stop-color="#79c800"/><stop offset=".855" stop-color="#86e100"/><stop offset=".887" stop-color="#8eef00"/><stop offset=".920" stop-color="#98f500"/><stop offset=".944" stop-color="#a1f900"/><stop offset=".994" stop-color="#bbff00"/></linearGradient>
<linearGradient id="g256" x2="0" y2="1"><stop offset=".004" stop-color="#394c00"/><stop offset=".125" stop-color="#3a5000"/><stop offset=".247" stop-color="#3d5400"/><stop offset=".328" stop-color="#455700"/><stop offset=".409" stop-color="#525900"/><stop offset=".437" stop-color="#595f00"/><stop offset=".462" stop-color="#63634b"/><stop offset=".482" stop-color="#7267bb"/><stop offset=".510" stop-color="#766cbb"/><stop offset=".539" stop-color="#7172bb"/><stop offset=".563" stop-color="#6a764b"/><stop offset=".591" stop-color="#677c00"/><stop offset=".652" stop-color="#678f00"/><stop offset=".713" stop-color="#6da700"/><stop offset=".754" stop-color="#73b700"/><stop offset=".855" stop-color="#89e100"/><stop offset=".904" stop-color="#97f300"/><stop offset=".944" stop-color="#a6f900"/><stop offset=".968" stop-color="#b3fc00"/><stop offset=".994" stop-color="#c0ff00"/></linearGradient>
<linearGradient id="g257" x2="0" y2="1"><stop offset=".004" stop-color="#384c00"/><stop offset=".125" stop-color="#395000"/><stop offset=".247" stop-color="#3c5400"/><stop offset=".328" stop-color="#465700"/><stop offset=".409" stop-color="#565900"/><stop offset=".437" stop-color="#5e5f00"/><stop offset=".462" stop-color="#6a635c"/><stop offset=".482" stop-color="#7d67e6"/><stop offset=".510" stop-color="#826ce6"/><stop offset=".539" stop-color="#7c72e6"/><stop offset=".563" stop-color="#72765c"/><stop offset=".591" stop-color="#6d7c00"/><stop offset=".652" stop-color="#6a8f00"/><stop offset=".713" stop-color="#6da700"/><stop offset=".754" stop-color="#74b700"/><stop offset=".855" stop-color="#8be100"/><stop offset=".904" stop-color="#9af300"/><stop offset=".944" stop-color="#a9f900"/><stop offset=".968" stop-color="#b8fc00"/><stop offset=".994" stop-color="#c4ff00"/></linearGradient>
<linearGradient id="g258" x2="0" y2="1"><stop offset=".004" stop-color="#384c00"/><stop offset=".125" stop-color="#395000"/><stop offset=".247" stop-color="#3c5400"/><stop offset=".328" stop-color="#465700"/><stop offset=".409" stop-color="#565900"/><stop offset=".437" stop-color="#5e5f00"/><stop offset=".462" stop-color="#6a635a"/><stop offset=".482" stop-color="#7d67e0"/><stop offset=".510" stop-color="#826ce0"/><stop offset=".539" stop-color="#7c72e0"/><stop offset=".563" stop-color="#72765a"/><stop offset=".591" stop-color="#6d7c00"/><stop offset=".652" stop-color="#6a8f00"/><stop offset=".713" stop-color="#6da700"/><stop offset=".754" stop-color="#74b700"/><stop offset=".855" stop-color="#8be100"/><stop offset=".904" stop-color="#9af300"/><stop offset=".944" stop-color="#a9f900"/><stop offset=".968" stop-color="#b8fc00"/><stop offset=".994" stop-color="#c4ff00"/></linearGradient>
<linearGradient id="g259" x2="0" y2="1"><stop offset=".004" stop-color="#384c00"/><stop offset=".125" stop-color="#395000"/><stop offset=".247" stop-color="#3c5400"/><stop offset=".328" stop-color="#465700"/><stop offset=".409" stop-color="#565900"/><stop offset=".437" stop-color="#5e5f00"/><stop offset=".462" stop-color="#6a6358"/><stop offset=".482" stop-color="#7d67db"/><stop offset=".510" stop-color="#826cdb"/><stop offset=".539" stop-color="#7c72db"/><stop offset=".563" stop-color="#727658"/><stop offset=".591" stop-color="#6d7c00"/><stop offset=".652" stop-color="#6a8f00"/><stop offset=".713" stop-color="#6da700"/><stop offset=".754" stop-color="#74b700"/><stop offset=".855" stop-color="#8be100"/><stop offset=".904" stop-color="#9af300"/><stop offset=".944" stop-color="#a9f900"/><stop offset=".968" stop-color="#b8fc00"/><stop offset=".994" stop-color="#c4ff00"/></linearGradient>
<linearGradient id="g260" x2="0" y2="1"><stop offset=".004" stop-color="#384c00"/><stop offset=".125" stop-color="#395000"/><stop offset=".247" stop-color="#3c5400"/><stop offset=".328" stop-color="#465700"/><stop offset=".409" stop-color="#565900"/><stop offset=".437" stop-color="#5e5f00"/><stop offset=".462" stop-color="#6a6356"/><stop offset=".482" stop-color="#7d67d6"/><stop offset=".510" stop-color="#826cd6"/><stop offset=".539" stop-color="#7c72d6"/><stop offset=".563" stop-color="#727656"/><stop offset=".591" stop-color="#6d7c00"/><stop offset=".652" stop-color="#6a8f00"/><stop offset=".713" stop-color="#6da700"/><stop offset=".754" stop-color="#74b700"/><stop offset=".855" stop-color="#8be100"/><stop offset=".904" stop-color="#9af300"/><stop offset=".944" stop-color="#a9f900"/><stop offset=".968" stop-color="#b8fc00"/><stop offset=".994" stop-color="#c4ff00"/></linearGradient>
<linearGradient id="g261" x2="0" y2="1"><stop offset=".004" stop-color="#384c00"/><stop offset=".125" stop-color="#395000"/><stop offset=".247" stop-color="#3c5400"/><stop offset=".328" stop-color="#465700"/><stop offset=".409" stop-color="#565900"/><stop offset=".437" stop-color="#5e5f00"/><stop offset=".462" stop-color="#6a6354"/><stop offset=".482" stop-color="#7d67d1"/><stop offset=".510" stop-color="#826cd1"/><stop offset=".539" stop-color="#7c72d1"/><stop offset=".563" stop-color="#727654"/><stop offset=".591" stop-color="#6d7c00"/><stop offset=".652" stop-color="#6a8f00"/><stop offset=".713" stop-color="#6da700"/><stop offset=".754" stop-color="#74b700"/><stop offset=".855" stop-color="#8be100"/><stop offset=".904" stop-color="#9af300"/><stop offset=".944" stop-color="#a9f900"/><stop offset=".968" stop-color="#b8fc00"/><stop offset=".994" stop-color="#c4ff00"/></linearGradient>
<linearGradient id="g262" x2="0" y2="1"><stop offset=".004" stop-color="#384c00"/><stop offset=".125" stop-color="#395000"/><stop offset=".247" stop-color="#3c5400"/><stop offset=".328" stop-color="#465700"/><stop offset=".409" stop-color="#565900"/><stop offset=".437" stop-color="#5e5f00"/><stop offset=".462" stop-color="#6a6352"/><stop offset=".482" stop-color="#7d67cd"/><stop offset=".510" stop-color="#826ccd"/><stop offset=".539" stop-color="#7c72cd"/><stop offset=".563" stop-color="#727652"/><stop offset=".591" stop-color="#6d7c00"/><stop offset=".652" stop-color="#6a8f00"/><stop offset=".713" stop-color="#6da700"/><stop offset=".754" stop-color="#74b700"/><stop offset=".855" stop-color="#8be100"/><stop offset=".904" stop-color="#9af300"/><stop offset=".944" stop-color="#a9f900"/><stop offset=".968" stop-color="#b8fc00"/><stop offset=".994" stop-color="#c4ff00"/></linearGradient>
<linearGradient id="g263" x2="0" y2="1"><stop offset=".004" stop-color="#384c00"/><stop offset=".125" stop-color="#395000"/><stop offset=".247" stop-color="#3c5400"/><stop offset=".328" stop-color="#465700"/><stop offset=".409" stop-color="#565900"/><stop offset=".437" stop-color="#5e5f00"/><stop offset=".462" stop-color="#6a6352"/><stop offset=".482" stop-color="#7d67cc"/><stop offset=".510" stop-color="#826ccc"/><stop offset=".539" stop-color="#7c72cc"/><stop offset=".563" stop-color="#727652"/><stop offset=".591" stop-color="#6d7c00"/><stop offset=".652" stop-color="#6a8f00"/><stop offset=".713" stop-color="#6da700"/><stop offset=".754" stop-color="#74b700"/><stop offset=".855" stop-color="#8be100"/><stop offset=".904" stop-color="#9af300"/><stop offset=".944" stop-color="#a9f900"/><stop offset=".968" stop-color="#b8fc00"/><stop offset=".994" stop-color="#c4ff00"/></linearGradient>
<linearGradient id="g264" x2="0" y2="1"><stop offset=".004" stop-color="#a84c00"/><stop offset=".409" stop-color="#a95900"/><stop offset=".563" stop-color="#aa7602"/><stop offset=".591" stop-color="#aa7c00"/><stop offset=".713" stop-color="#aaa700"/><stop offset=".904" stop-color="#abf300"/><stop offset=".944" stop-color="#abf900"/><stop offset=".994" stop-color="#c4ff00"/></linearGradient>
<linearGradient id="g265" x2="0" y2="1"><stop offset=".004" stop-color="#4e4c00"/><stop offset=".247" stop-color="#505400"/><stop offset=".328" stop-color="#545700"/><stop offset=".409" stop-color="#5b5900"/><stop offset=".437" stop-color="#5e5f00"/><stop offset=".462" stop-color="#686321"/><stop offset=".482" stop-color="#7a6751"/><stop offset=".510" stop-color="#7f6c51"/><stop offset=".539" stop-color="#797251"/><stop offset=".563" stop-color="#707621"/><stop offset=".591" stop-color="#6c7c00"/><stop offset=".652" stop-color="#6a8f00"/><stop offset=".713" stop-color="#6da700"/><stop offset=".754" stop-color="#74b700"/><stop offset=".855" stop-color="#8ae100"/><stop offset=".904" stop-color="#99f300"/><stop offset=".944" stop-color="#a8f900"/><stop offset=".968" stop-color="#b6fc00"/><stop offset=".994" stop-color="#c3ff00"/></linearGradient>
<linearGradient id="g266" x2="0" y2="1"><stop offset=".004" stop-color="#394c00"/><stop offset=".125" stop-color="#3a5000"/><stop offset=".247" stop-color="#3d5400"/><stop offset=".328" stop-color="#455700"/><stop offset=".409" stop-color="#535900"/><stop offset=".437" stop-color="#5a5f00"/><stop offset=".462" stop-color="#646340"/><stop offset=".482" stop-color="#7367a1"/><stop offset=".510" stop-color="#776ca1"/><stop offset=".539" stop-color="#7272a1"/><stop offset=".563" stop-color="#6b7640"/><stop offset=".591" stop-color="#687c00"/><stop offset=".652" stop-color="#688f00"/><stop offset=".713" stop-color="#6da700"/><stop offset=".754" stop-color="#73b700"/><stop offset=".855" stop-color="#88e100"/><stop offset=".904" stop-color="#95f300"/><stop offset=".944" stop-color="#a3f900"/><stop offset=".994" stop-color="#beff00"/></linearGradient>
<linearGradient id="g267" x2="0" y2="1"><stop offset=".004" stop-color="#394c00"/><stop offset=".125" stop-color="#3b5000"/><stop offset=".247" stop-color="#3d5400"/><stop offset=".328" stop-color="#445700"/><stop offset=".368" stop-color="#4a5800"/><stop offset=".409" stop-color="#515900"/><stop offset=".437" stop-color="#575f00"/><stop offset=".462" stop-color="#606334"/><stop offset=".482" stop-color="#6c6782"/><stop offset=".510" stop-color="#706c82"/><stop offset=".539" stop-color="#6c7282"/><stop offset=".563" stop-color="#667634"/><stop offset=".591" stop-color="#647c00"/><stop offset=".652" stop-color="#678f00"/><stop offset=".713" stop-color="#6da700"/><stop offset=".754" stop-color="#73b700"/><stop offset=".855" stop-color="#85e100"/><stop offset=".887" stop-color="#8def00"/><stop offset=".920" stop-color="#96f500"/><stop offset=".944" stop-color="#9ff900"/><stop offset=".994" stop-color="#baff00"/></linearGradient>
<linearGradient id="g268" x2="0" y2="1"><stop offset=".004" stop-color="#3a4c00"/><stop offset=".247" stop-color="#3e5400"/><stop offset=".328" stop-color="#435700"/><stop offset=".368" stop-color="#485800"/><stop offset=".409" stop-color="#4f5900"/><stop offset=".437" stop-color="#555f00"/><stop offset=".462" stop-color="#5b6328"/><stop offset=".482" stop-color="#656763"/><stop offset=".510" stop-color="#686c63"/><stop offset=".539" stop-color="#657263"/><stop offset=".563" stop-color="#617628"/><stop offset=".591" stop-color="#617c00"/><stop offset=".652" stop-color="#668f00"/><stop offset=".754" stop-color="#72b700"/><stop offset=".827" stop-color="#7dd500"/><stop offset=".887" stop-color="#89ef00"/><stop offset=".920" stop-color="#92f500"/><stop offset=".944" stop-color="#9af900"/><stop offset=".968" stop-color="#a7fc00"/><stop offset=".994" stop-color="#b6ff00"/></linearGradient>
<linearGradient id="g269" x2="0" y2="1"><stop offset=".004" stop-color="#3b4c00"/><stop offset=".247" stop-color="#3e5400"/><stop offset=".328" stop-color="#435700"/><stop offset=".368" stop-color="#475800"/><stop offset=".409" stop-color="#4e5900"/><stop offset=".437" stop-color="#525f00"/><stop offset=".462" stop-color="#57631b"/><stop offset=".482" stop-color="#5e6744"/><stop offset=".510" stop-color="#606c44"/><stop offset=".539" stop-color="#5f7244"/><stop offset=".563" stop-color="#5c761b"/><stop offset=".591" stop-color="#5d7c00"/><stop offset=".652" stop-color="#648f00"/><stop offset=".713" stop-color="#6da700"/><stop offset=".827" stop-color="#7bd500"/><stop offset=".887" stop-color="#86ef00"/><stop offset=".920" stop-color="#8ef500"/><stop offset=".944" stop-color="#96f900"/><stop offset=".968" stop-color="#a2fc00"/><stop offset=".994" stop-color="#b2ff00"/></linearGradient>
<linearGradient id="g270" x2="0" y2="1"><stop offset=".004" stop-color="#3c4c00"/><stop offset=".247" stop-color="#3f5400"/><stop offset=".328" stop-color="#425700"/><stop offset=".368" stop-color="#455800"/><stop offset=".409" stop-color="#4c5900"/><stop offset=".437" stop-color="#4f5f00"/><stop offset=".462" stop-color="#53630f"/><stop offset=".482" stop-color="#576726"/><stop offset=".510" stop-color="#596c26"/><stop offset=".539" stop-color="#587226"/><stop offset=".563" stop-color="#57760f"/><stop offset=".591" stop-color="#597c00"/><stop offset=".713" stop-color="#6da700"/><stop offset=".827" stop-color="#78d500"/><stop offset=".887" stop-color="#82ef00"/><stop offset=".920" stop-color="#8af500"/><stop offset=".944" stop-color="#91f900"/><stop offset=".968" stop-color="#9dfc00"/><stop offset=".994" stop-color="#aeff00"/></linearGradient>
<linearGradient id="g271" x2="0" y2="1"><stop offset=".004" stop-color="#3c4c00"/><stop offset=".247" stop-color="#3f5400"/><stop offset=".328" stop-color="#425700"/><stop offset=".368" stop-color="#445800"/><stop offset=".409" stop-color="#4b5900"/><stop offset=".462" stop-color="#506308"/><stop offset=".482" stop-color="#526713"/><stop offset=".539" stop-color="#547213"/><stop offset=".563" stop-color="#547608"/><stop offset=".591" stop-color="#577c00"/><stop offset=".713" stop-color="#6da700"/><stop offset=".827" stop-color="#77d500"/><stop offset=".887" stop-color="#80ef00"/><stop offset=".920" stop-color="#88f500"/><stop offset=".944" stop-color="#8ff900"/><stop offset=".968" stop-color="#9afc00"/><stop offset=".994" stop-color="#abff00"/></linearGradient>
<linearGradient id="g272" x2="0" y2="1"><stop offset=".004" stop-color="#3c4c00"/><stop offset=".247" stop-color="#3f5400"/><stop offset=".328" stop-color="#425700"/><stop offset=".368" stop-color="#445800"/><stop offset=".409" stop-color="#4b5900"/><stop offset=".462" stop-color="#4f6307"/><stop offset=".482" stop-color="#526710"/><stop offset=".539" stop-color="#547210"/><stop offset=".563" stop-color="#547607"/><stop offset=".591" stop-color="#577c00"/><stop offset=".713" stop-color="#6da700"/><stop offset=".827" stop-color="#77d500"/><stop offset=".887" stop-color="#80ef00"/><stop offset=".920" stop-color="#88f500"/><stop offset=".944" stop-color="#8ef900"/><stop offset=".968" stop-color="#9afc00"/><stop offset=".994" stop-color="#abff00"/></linearGradient>
<linearGradient id="g273" x2="0" y2="1"><stop offset=".004" stop-color="#3c4c00"/><stop offset=".247" stop-color="#3f5400"/><stop offset=".328" stop-color="#415700"/><stop offset=".368" stop-color="#445800"/><stop offset=".409" stop-color="#4a5900"/><stop offset=".462" stop-color="#4f6305"/><stop offset=".510" stop-color="#526c0e"/><stop offset=".563" stop-color="#537605"/><stop offset=".591" stop-color="#567c00"/><stop offset=".713" stop-color="#6da700"/><stop offset=".827" stop-color="#77d500"/><stop offset=".887" stop-color="#80ef00"/><stop offset=".920" stop-color="#87f500"/><stop offset=".944" stop-color="#8ef900"/><stop offset=".968" stop-color="#99fc00"/><stop offset=".994" stop-color="#abff00"/></linearGradient>
<linearGradient id="g274" x2="0" y2="1"><stop offset=".004" stop-color="#3c4c00"/><stop offset=".247" stop-color="#3f5400"/><stop offset=".328" stop-color="#415700"/><stop offset=".368" stop-color="#445800"/><stop offset=".409" stop-color="#4a5900"/><stop offset=".482" stop-color="#50670b"/><stop offset=".563" stop-color="#537605"/><stop offset=".591" stop-color="#567c00"/><stop offset=".713" stop-color="#6da700"/><stop offset=".827" stop-color="#77d500"/><stop offset=".887" stop-color="#80ef00"/><stop offset=".920" stop-color="#87f500"/><stop offset=".944" stop-color="#8ef900"/><stop offset=".968" stop-color="#99fc00"/><stop offset=".994" stop-color="#abff00"/></linearGradient>
<linearGradient id="g275" x2="0" y2="1"><stop offset=".004" stop-color="#554c00"/><stop offset=".247" stop-color="#565400"/><stop offset=".368" stop-color="#595800"/><stop offset=".409" stop-color="#5c5900"/><stop offset=".510" stop-color="#606c05"/><stop offset=".563" stop-color="#617602"/><stop offset=".591" stop-color="#637c00"/><stop offset=".713" stop-color="#6fa700"/><stop offset=".794" stop-color="#74c800"/><stop offset=".827" stop-color="#77d500"/><stop offset=".887" stop-color="#7fef00"/><stop offset=".920" stop-color="#87f500"/><stop offset=".944" stop-color="#8ef900"/><stop offset=".968" stop-color="#99fc00"/><stop offset=".994" stop-color="#aaff00"/></linearGradient>
<linearGradient id="g276" x2="0" y2="1"><stop offset=".004" stop-color="#6e4c00"/><stop offset=".409" stop-color="#6f5900"/><stop offset=".591" stop-color="#707c00"/><stop offset=".713" stop-color="#72a700"/><stop offset=".794" stop-color="#74c800"/><stop offset=".827" stop-color="#77d500"/><stop offset=".887" stop-color="#7fef00"/><stop offset=".920" stop-color="#87f500"/><stop offset=".944" stop-color="#8ef900"/><stop offset=".968" stop-color="#99fc00"/><stop offset=".994" stop-color="#aaff00"/></linearGradient>
<linearGradient id="g277" x2="0" y2="1"><stop offset=".004" stop-color="#3c4c00"/><stop offset=".247" stop-color="#3f5400"/><stop offset=".328" stop-color="#415700"/><stop offset=".368" stop-color="#445800"/><stop offset=".409" stop-color="#4a5900"/><stop offset=".482" stop-color="#506708"/><stop offset=".563" stop-color="#527603"/><stop offset=".591" stop-color="#557c00"/><stop offset=".713" stop-color="#6da700"/><stop offset=".827" stop-color="#77d500"/><stop offset=".887" stop-color="#7fef00"/><stop offset=".920" stop-color="#87f500"/><stop offset=".944" stop-color="#8ef900"/><stop offset=".968" stop-color="#99fc00"/><stop offset=".994" stop-color="#aaff00"/></linearGradient>
<linearGradient id="g278" x2="0" y2="1"><stop offset=".004" stop-color="#4b4c00"/><stop offset=".328" stop-color="#4e5700"/><stop offset=".368" stop-color="#4f5800"/><stop offset=".409" stop-color="#525900"/><stop offset=".510" stop-color="#566c04"/><stop offset=".563" stop-color="#577602"/><stop offset=".591" stop-color="#587c00"/><stop offset=".652" stop-color="#618f00"/><stop offset=".713" stop-color="#6da700"/><stop offset=".827" stop-color="#76d500"/><stop offset=".887" stop-color="#7fef00"/><stop offset=".920" stop-color="#87f500"/><stop offset=".944" stop-color="#8ef900"/><stop offset=".968" stop-color="#99fc00"/><stop offset=".994" stop-color="#aaff00"/></linearGradient>
<linearGradient id="g279" x2="0" y2="1"><stop offset=".004" stop-color="#3c4c00"/><stop offset=".247" stop-color="#3f5400"/><stop offset=".328" stop-color="#415700"/><stop offset=".368" stop-color="#445800"/><stop offset=".409" stop-color="#4a5900"/><stop offset=".482" stop-color="#4f6706"/><stop offset=".563" stop-color="#527602"/><stop offset=".591" stop-color="#557c00"/><stop offset=".713" stop-color="#6da700"/><stop offset=".827" stop-color="#76d500"/><stop offset=".887" stop-color="#7fef00"/><stop offset=".920" stop-color="#87f500"/><stop offset=".944" stop-color="#8ef900"/><stop offset=".968" stop-color="#99fc00"/><stop offset=".994" stop-color="#aaff00"/></linearGradient>
<linearGradient id="g280" x2="0" y2="1"><stop offset=".004" stop-color="#464c00"/><stop offset=".247" stop-color="#485400"/><stop offset=".328" stop-color="#4a5700"/><stop offset=".368" stop-color="#4c5800"/><stop offset=".409" stop-color="#505900"/><stop offset=".510" stop-color="#546c04"/><stop offset=".563" stop-color="#567601"/><stop offset=".591" stop-color="#587c00"/><stop offset=".652" stop-color="#618f00"/><stop offset=".713" stop-color="#6da700"/><stop offset=".827" stop-color="#76d500"/><stop offset=".887" stop-color="#7fef00"/><stop offset=".920" stop-color="#87f500"/><stop offset=".944" stop-color="#8df900"/><stop offset=".968" stop-color="#99fc00"/><stop offset=".994" stop-color="#aaff00"/></linearGradient>
<linearGradient id="g281" x2="0" y2="1"><stop offset=".004" stop-color="#504c00"/><stop offset=".328" stop-color="#525700"/><stop offset=".368" stop-color="#545800"/><stop offset=".409" stop-color="#565900"/><stop offset=".563" stop-color="#597601"/><stop offset=".591" stop-color="#5b7c00"/><stop offset=".652" stop-color="#618f00"/><stop offset=".713" stop-color="#6da700"/><stop offset=".827" stop-color="#76d500"/><stop offset=".887" stop-color="#7fef00"/><stop offset=".920" stop-color="#87f500"/><stop offset=".944" stop-color="#8df900"/><stop offset=".968" stop-color="#99fc00"/><stop offset=".994" stop-color="#aaff00"/></linearGradient>
<linearGradient id="g282" x2="0" y2="1"><stop offset=".004" stop-color="#464c00"/><stop offset=".247" stop-color="#485400"/><stop offset=".328" stop-color="#4a5700"/><stop offset=".368" stop-color="#4c5800"/><stop offset=".409" stop-color="#505900"/><stop offset=".510" stop-color="#546c03"/><stop offset=".563" stop-color="#557601"/><stop offset=".591" stop-color="#587c00"/><stop offset=".652" stop-color="#618f00"/><stop offset=".713" stop-color="#6da700"/><stop offset=".827" stop-color="#76d500"/><stop offset=".887" stop-color="#7fef00"/><stop offset=".920" stop-color="#87f500"/><stop offset=".944" stop-color="#8df900"/><stop offset=".968" stop-color="#99fc00"/><stop offset=".994" stop-color="#aaff00"/></linearGradient>
<linearGradient id="g283" x2="0" y2="1"><stop offset=".004" stop-color="#3c4c00"/><stop offset=".247" stop-color="#3f5400"/><stop offset=".328" stop-color="#415700"/><stop offset=".368" stop-color="#445800"/><stop offset=".409" stop-color="#495900"/><stop offset=".462" stop-color="#4d6301"/><stop offset=".563" stop-color="#517601"/><stop offset=".591" stop-color="#557c00"/><stop offset=".713" stop-color="#6da700"/><stop offset=".827" stop-color="#76d500"/><stop offset=".887" stop-color="#7fef00"/><stop offset=".920" stop-color="#86f500"/><stop offset=".944" stop-color="#8df900"/><stop offset=".968" stop-color="#98fc00"/><stop offset=".994" stop-color="#aaff00"/></linearGradient>
<filter id="sp" filterUnits="userSpaceOnUse" x="135" y="217" width="838" height="265" color-interpolation-filters="sRGB">
<feColorMatrix in="SourceGraphic" type="matrix" values="1 0 0 0 0 1 0 0 0 0 1 0 0 0 0 0 0 0 0 1" result="b"/>
<feColorMatrix in="SourceGraphic" type="matrix" values="0 1 0 0 0 0 1 0 0 0 0 1 0 0 0 0 0 0 0 1" result="a"/>
<feColorMatrix in="SourceGraphic" type="matrix" values="0 0 1 0 0 0 0 1 0 0 0 0 1 0 0 0 0 0 0 1" result="s"/>
<feTurbulence type="fractalNoise" baseFrequency="1.382 0.25" numOctaves="1" seed="11" result="t1"/>
<feColorMatrix in="t1" type="matrix" values="1 0 0 0 0 1 0 0 0 0 1 0 0 0 0 0 0 0 0 1" result="n1"/>
<feTurbulence type="fractalNoise" baseFrequency="1.618 0.02" numOctaves="1" seed="4" result="t2"/>
<feColorMatrix in="t2" type="matrix" values="1 0 0 0 0 1 0 0 0 0 1 0 0 0 0 0 0 0 0 1" result="n2"/>
<feTurbulence type="fractalNoise" baseFrequency="1.382 0.09" numOctaves="1" seed="23" result="t3"/>
<feColorMatrix in="t3" type="matrix" values="4 0 0 0 -2.4 4 0 0 0 -2.4 4 0 0 0 -2.4 0 0 0 0 1" result="n3"/>
<feComposite in="s" in2="n3" operator="arithmetic" k1="0.2604" k2="0" k3="0" k4="0" result="sn"/>
<feComposite in="a" in2="n2" operator="arithmetic" k1="1" k2="0" k3="0" k4="0" result="an"/>
<feComposite in="an" in2="a" operator="arithmetic" k1="0" k2="0.4030" k3="-0.2015" k4="0.25" result="m1"/>
<feComposite in="m1" in2="n1" operator="arithmetic" k1="0" k2="1" k3="0.4030" k4="0.0485" result="m2"/>
<feComposite in="m2" in2="sn" operator="arithmetic" k1="0" k2="1" k3="1" k4="0" result="m"/>
<feComposite in="b" in2="m" operator="arithmetic" k1="0" k2="1" k3="1" k4="-0.5" result="b3"/>
<feComponentTransfer in="b3"><feFuncR type="table" tableValues=".369 .369 .369 .369 .369 .369 .369 .369 .369 .369 .351 .308 .264 .220 .229 .271 .322 .374 .436 .502 .571 .638 .702 .761 .819 .874 .917 .941 .966 .990 .999 .998 .997 .996 .995 .994 .993 .992 .985 .977 .968 .954 .933 .902 .871 .836 .790 .736 .681 .633 .620 .620 .620 .620 .620 .620 .620 .620 .620 .620 .620 .620 .620 .620 .620"/><feFuncG type="table" tableValues=".310 .310 .310 .310 .310 .310 .310 .310 .310 .310 .332 .389 .446 .502 .559 .617 .674 .732 .771 .801 .828 .854 .880 .903 .927 .949 .967 .977 .986 .994 .980 .950 .919 .888 .844 .795 .745 .694 .635 .571 .506 .445 .391 .344 .298 .248 .193 .133 .072 .019 .004 .004 .004 .004 .004 .004 .004 .004 .004 .004 .004 .004 .004 .004 .004"/><feFuncB type="table" tableValues=".635 .635 .635 .635 .635 .635 .635 .635 .635 .635 .646 .673 .700 .726 .725 .707 .683 .659 .649 .646 .645 .642 .637 .625 .613 .608 .619 .658 .696 .730 .716 .665 .613 .561 .517 .475 .433 .393 .359 .329 .299 .278 .272 .284 .296 .302 .299 .286 .273 .262 .259 .259 .259 .259 .259 .259 .259 .259 .259 .259 .259 .259 .259 .259 .259"/><feFuncA type="linear" slope="0" intercept="1"/></feComponentTransfer>
</filter></defs>
<g filter="url(#sp)" shape-rendering="crispEdges"><rect y="217" height="265" x="135" width="3" fill="url(#g0)"/>
<rect y="217" height="265" x="138" width="2" fill="url(#g1)"/>
<rect y="217" height="265" x="140" width="6" fill="url(#g0)"/>
<rect y="217" height="265" x="146" width="1" fill="url(#g0)"/>
<rect y="217" height="265" x="147" width="1" fill="url(#g2)"/>
<rect y="217" height="265" x="148" width="1" fill="url(#g3)"/>
<rect y="217" height="265" x="149" width="1" fill="url(#g4)"/>
<rect y="217" height="265" x="150" width="1" fill="url(#g5)"/>
<rect y="217" height="265" x="151" width="1" fill="url(#g6)"/>
<rect y="217" height="265" x="152" width="1" fill="url(#g7)"/>
<rect y="217" height="265" x="153" width="1" fill="url(#g8)"/>
<rect y="217" height="265" x="154" width="3" fill="url(#g9)"/>
<rect y="217" height="265" x="157" width="2" fill="url(#g10)"/>
<rect y="217" height="265" x="159" width="2" fill="url(#g11)"/>
<rect y="217" height="265" x="161" width="1" fill="url(#g12)"/>
<rect y="217" height="265" x="162" width="1" fill="url(#g13)"/>
<rect y="217" height="265" x="163" width="1" fill="url(#g14)"/>
<rect y="217" height="265" x="164" width="1" fill="url(#g15)"/>
<rect y="217" height="265" x="165" width="1" fill="url(#g16)"/>
<rect y="217" height="265" x="166" width="1" fill="url(#g17)"/>
<rect y="217" height="265" x="167" width="1" fill="url(#g18)"/>
<rect y="217" height="265" x="168" width="1" fill="url(#g19)"/>
<rect y="217" height="265" x="169" width="1" fill="url(#g20)"/>
<rect y="217" height="265" x="170" width="1" fill="url(#g21)"/>
<rect y="217" height="265" x="171" width="6" fill="url(#g22)"/>
<rect y="217" height="265" x="177" width="6" fill="url(#g23)"/>
<rect y="217" height="265" x="183" width="1" fill="url(#g24)"/>
<rect y="217" height="265" x="184" width="1" fill="url(#g25)"/>
<rect y="217" height="265" x="185" width="4" fill="url(#g26)"/>
<rect y="217" height="265" x="189" width="4" fill="url(#g27)"/>
<rect y="217" height="265" x="193" width="4" fill="url(#g28)"/>
<rect y="217" height="265" x="197" width="3" fill="url(#g29)"/>
<rect y="217" height="265" x="200" width="2" fill="url(#g30)"/>
<rect y="217" height="265" x="202" width="2" fill="url(#g31)"/>
<rect y="217" height="265" x="204" width="2" fill="url(#g32)"/>
<rect y="217" height="265" x="206" width="2" fill="url(#g33)"/>
<rect y="217" height="265" x="208" width="2" fill="url(#g34)"/>
<rect y="217" height="265" x="210" width="2" fill="url(#g35)"/>
<rect y="217" height="265" x="212" width="3" fill="url(#g36)"/>
<rect y="217" height="265" x="215" width="1" fill="url(#g37)"/>
<rect y="217" height="265" x="216" width="1" fill="url(#g38)"/>
<rect y="217" height="265" x="217" width="1" fill="url(#g39)"/>
<rect y="217" height="265" x="218" width="1" fill="url(#g40)"/>
<rect y="217" height="265" x="219" width="1" fill="url(#g41)"/>
<rect y="217" height="265" x="220" width="1" fill="url(#g42)"/>
<rect y="217" height="265" x="221" width="2" fill="url(#g43)"/>
<rect y="217" height="265" x="223" width="2" fill="url(#g44)"/>
<rect y="217" height="265" x="225" width="2" fill="url(#g45)"/>
<rect y="217" height="265" x="227" width="3" fill="url(#g46)"/>
<rect y="217" height="265" x="230" width="3" fill="url(#g47)"/>
<rect y="217" height="265" x="233" width="3" fill="url(#g48)"/>
<rect y="217" height="265" x="236" width="3" fill="url(#g49)"/>
<rect y="217" height="265" x="239" width="3" fill="url(#g50)"/>
<rect y="217" height="265" x="242" width="6" fill="url(#g51)"/>
<rect y="217" height="265" x="248" width="3" fill="url(#g52)"/>
<rect y="217" height="265" x="251" width="2" fill="url(#g53)"/>
<rect y="217" height="265" x="253" width="1" fill="url(#g54)"/>
<rect y="217" height="265" x="254" width="1" fill="url(#g55)"/>
<rect y="217" height="265" x="255" width="1" fill="url(#g56)"/>
<rect y="217" height="265" x="256" width="1" fill="url(#g57)"/>
<rect y="217" height="265" x="257" width="1" fill="url(#g58)"/>
<rect y="217" height="265" x="258" width="1" fill="url(#g59)"/>
<rect y="217" height="265" x="259" width="1" fill="url(#g60)"/>
<rect y="217" height="265" x="260" width="2" fill="url(#g61)"/>
<rect y="217" height="265" x="262" width="2" fill="url(#g62)"/>
<rect y="217" height="265" x="264" width="2" fill="url(#g63)"/>
<rect y="217" height="265" x="266" width="2" fill="url(#g64)"/>
<rect y="217" height="265" x="268" width="2" fill="url(#g65)"/>
<rect y="217" height="265" x="270" width="2" fill="url(#g66)"/>
<rect y="217" height="265" x="272" width="2" fill="url(#g67)"/>
<rect y="217" height="265" x="274" width="2" fill="url(#g68)"/>
<rect y="217" height="265" x="276" width="3" fill="url(#g69)"/>
<rect y="217" height="265" x="279" width="6" fill="url(#g70)"/>
<rect y="217" height="265" x="285" width="6" fill="url(#g71)"/>
<rect y="217" height="265" x="291" width="1" fill="url(#g72)"/>
<rect y="217" height="265" x="292" width="1" fill="url(#g73)"/>
<rect y="217" height="265" x="293" width="1" fill="url(#g74)"/>
<rect y="217" height="265" x="294" width="1" fill="url(#g75)"/>
<rect y="217" height="265" x="295" width="1" fill="url(#g76)"/>
<rect y="217" height="265" x="296" width="1" fill="url(#g77)"/>
<rect y="217" height="265" x="297" width="1" fill="url(#g78)"/>
<rect y="217" height="265" x="298" width="1" fill="url(#g79)"/>
<rect y="217" height="265" x="299" width="1" fill="url(#g80)"/>
<rect y="217" height="265" x="300" width="1" fill="url(#g81)"/>
<rect y="217" height="265" x="301" width="1" fill="url(#g82)"/>
<rect y="217" height="265" x="302" width="1" fill="url(#g83)"/>
<rect y="217" height="265" x="303" width="1" fill="url(#g84)"/>
<rect y="217" height="265" x="304" width="6" fill="url(#g85)"/>
<rect y="217" height="265" x="310" width="6" fill="url(#g85)"/>
<rect y="217" height="265" x="316" width="2" fill="url(#g86)"/>
<rect y="217" height="265" x="318" width="1" fill="url(#g87)"/>
<rect y="217" height="265" x="319" width="1" fill="url(#g88)"/>
<rect y="217" height="265" x="320" width="1" fill="url(#g89)"/>
<rect y="217" height="265" x="321" width="1" fill="url(#g90)"/>
<rect y="217" height="265" x="322" width="1" fill="url(#g91)"/>
<rect y="217" height="265" x="323" width="1" fill="url(#g92)"/>
<rect y="217" height="265" x="324" width="3" fill="url(#g93)"/>
<rect y="217" height="265" x="327" width="3" fill="url(#g94)"/>
<rect y="217" height="265" x="330" width="3" fill="url(#g95)"/>
<rect y="217" height="265" x="333" width="2" fill="url(#g96)"/>
<rect y="217" height="265" x="335" width="2" fill="url(#g66)"/>
<rect y="217" height="265" x="337" width="1" fill="url(#g97)"/>
<rect y="217" height="265" x="338" width="1" fill="url(#g98)"/>
<rect y="217" height="265" x="339" width="1" fill="url(#g99)"/>
<rect y="217" height="265" x="340" width="1" fill="url(#g100)"/>
<rect y="217" height="265" x="341" width="1" fill="url(#g101)"/>
<rect y="217" height="265" x="342" width="1" fill="url(#g102)"/>
<rect y="217" height="265" x="343" width="2" fill="url(#g103)"/>
<rect y="217" height="265" x="345" width="2" fill="url(#g104)"/>
<rect y="217" height="265" x="347" width="2" fill="url(#g105)"/>
<rect y="217" height="265" x="349" width="4" fill="url(#g106)"/>
<rect y="217" height="265" x="353" width="4" fill="url(#g107)"/>
<rect y="217" height="265" x="357" width="4" fill="url(#g108)"/>
<rect y="217" height="265" x="361" width="4" fill="url(#g109)"/>
<rect y="217" height="265" x="365" width="4" fill="url(#g110)"/>
<rect y="217" height="265" x="369" width="5" fill="url(#g111)"/>
<rect y="217" height="265" x="374" width="5" fill="url(#g112)"/>
<rect y="217" height="265" x="379" width="5" fill="url(#g113)"/>
<rect y="217" height="265" x="384" width="5" fill="url(#g114)"/>
<rect y="217" height="265" x="389" width="5" fill="url(#g115)"/>
<rect y="217" height="265" x="394" width="6" fill="url(#g116)"/>
<rect y="217" height="265" x="400" width="6" fill="url(#g116)"/>
<rect y="217" height="265" x="406" width="4" fill="url(#g116)"/>
<rect y="217" height="265" x="410" width="2" fill="url(#g117)"/>
<rect y="217" height="265" x="412" width="6" fill="url(#g116)"/>
<rect y="217" height="265" x="418" width="2" fill="url(#g116)"/>
<rect y="217" height="265" x="420" width="1" fill="url(#g118)"/>
<rect y="217" height="265" x="421" width="1" fill="url(#g119)"/>
<rect y="217" height="265" x="422" width="1" fill="url(#g120)"/>
<rect y="217" height="265" x="423" width="2" fill="url(#g121)"/>
<rect y="217" height="265" x="425" width="2" fill="url(#g122)"/>
<rect y="217" height="265" x="427" width="3" fill="url(#g123)"/>
<rect y="217" height="265" x="430" width="3" fill="url(#g124)"/>
<rect y="217" height="265" x="433" width="2" fill="url(#g125)"/>
<rect y="217" height="265" x="435" width="2" fill="url(#g126)"/>
<rect y="217" height="265" x="437" width="1" fill="url(#g127)"/>
<rect y="217" height="265" x="438" width="1" fill="url(#g128)"/>
<rect y="217" height="265" x="439" width="1" fill="url(#g129)"/>
<rect y="217" height="265" x="440" width="2" fill="url(#g130)"/>
<rect y="217" height="265" x="442" width="2" fill="url(#g131)"/>
<rect y="217" height="265" x="444" width="6" fill="url(#g130)"/>
<rect y="217" height="265" x="450" width="6" fill="url(#g130)"/>
<rect y="217" height="265" x="456" width="5" fill="url(#g132)"/>
<rect y="217" height="265" x="461" width="1" fill="url(#g133)"/>
<rect y="217" height="265" x="462" width="1" fill="url(#g134)"/>
<rect y="217" height="265" x="463" width="1" fill="url(#g135)"/>
<rect y="217" height="265" x="464" width="1" fill="url(#g136)"/>
<rect y="217" height="265" x="465" width="6" fill="url(#g137)"/>
<rect y="217" height="265" x="471" width="6" fill="url(#g137)"/>
<rect y="217" height="265" x="477" width="6" fill="url(#g137)"/>
<rect y="217" height="265" x="483" width="6" fill="url(#g137)"/>
<rect y="217" height="265" x="489" width="3" fill="url(#g137)"/>
<rect y="217" height="265" x="492" width="2" fill="url(#g138)"/>
<rect y="217" height="265" x="494" width="4" fill="url(#g137)"/>
<rect y="217" height="265" x="498" width="1" fill="url(#g139)"/>
<rect y="217" height="265" x="499" width="1" fill="url(#g140)"/>
<rect y="217" height="265" x="500" width="1" fill="url(#g141)"/>
<rect y="217" height="265" x="501" width="1" fill="url(#g142)"/>
<rect y="217" height="265" x="502" width="1" fill="url(#g143)"/>
<rect y="217" height="265" x="503" width="6" fill="url(#g137)"/>
<rect y="217" height="265" x="509" width="1" fill="url(#g137)"/>
<rect y="217" height="265" x="510" width="1" fill="url(#g144)"/>
<rect y="217" height="265" x="511" width="6" fill="url(#g145)"/>
<rect y="217" height="265" x="517" width="3" fill="url(#g146)"/>
<rect y="217" height="265" x="520" width="2" fill="url(#g147)"/>
<rect y="217" height="265" x="522" width="1" fill="url(#g148)"/>
<rect y="217" height="265" x="523" width="2" fill="url(#g149)"/>
<rect y="217" height="265" x="525" width="1" fill="url(#g150)"/>
<rect y="217" height="265" x="526" width="6" fill="url(#g151)"/>
<rect y="217" height="265" x="532" width="5" fill="url(#g152)"/>
<rect y="217" height="265" x="537" width="2" fill="url(#g153)"/>
<rect y="217" height="265" x="539" width="2" fill="url(#g154)"/>
<rect y="217" height="265" x="541" width="1" fill="url(#g155)"/>
<rect y="217" height="265" x="542" width="1" fill="url(#g156)"/>
<rect y="217" height="265" x="543" width="1" fill="url(#g157)"/>
<rect y="217" height="265" x="544" width="2" fill="url(#g158)"/>
<rect y="217" height="265" x="546" width="1" fill="url(#g159)"/>
<rect y="217" height="265" x="547" width="2" fill="url(#g160)"/>
<rect y="217" height="265" x="549" width="2" fill="url(#g161)"/>
<rect y="217" height="265" x="551" width="1" fill="url(#g162)"/>
<rect y="217" height="265" x="552" width="1" fill="url(#g163)"/>
<rect y="217" height="265" x="553" width="2" fill="url(#g164)"/>
<rect y="217" height="265" x="555" width="1" fill="url(#g165)"/>
<rect y="217" height="265" x="556" width="1" fill="url(#g166)"/>
<rect y="217" height="265" x="557" width="1" fill="url(#g167)"/>
<rect y="217" height="265" x="558" width="1" fill="url(#g168)"/>
<rect y="217" height="265" x="559" width="2" fill="url(#g169)"/>
<rect y="217" height="265" x="561" width="2" fill="url(#g170)"/>
<rect y="217" height="265" x="563" width="6" fill="url(#g169)"/>
<rect y="217" height="265" x="569" width="1" fill="url(#g171)"/>
<rect y="217" height="265" x="570" width="1" fill="url(#g172)"/>
<rect y="217" height="265" x="571" width="3" fill="url(#g173)"/>
<rect y="217" height="265" x="574" width="1" fill="url(#g174)"/>
<rect y="217" height="265" x="575" width="1" fill="url(#g175)"/>
<rect y="217" height="265" x="576" width="1" fill="url(#g176)"/>
<rect y="217" height="265" x="577" width="1" fill="url(#g177)"/>
<rect y="217" height="265" x="578" width="2" fill="url(#g169)"/>
<rect y="217" height="265" x="580" width="1" fill="url(#g178)"/>
<rect y="217" height="265" x="581" width="1" fill="url(#g179)"/>
<rect y="217" height="265" x="582" width="3" fill="url(#g180)"/>
<rect y="217" height="265" x="585" width="1" fill="url(#g181)"/>
<rect y="217" height="265" x="586" width="1" fill="url(#g182)"/>
<rect y="217" height="265" x="587" width="1" fill="url(#g183)"/>
<rect y="217" height="265" x="588" width="2" fill="url(#g184)"/>
<rect y="217" height="265" x="590" width="6" fill="url(#g169)"/>
<rect y="217" height="265" x="596" width="3" fill="url(#g169)"/>
<rect y="217" height="265" x="599" width="1" fill="url(#g185)"/>
<rect y="217" height="265" x="600" width="1" fill="url(#g186)"/>
<rect y="217" height="265" x="601" width="1" fill="url(#g187)"/>
<rect y="217" height="265" x="602" width="1" fill="url(#g188)"/>
<rect y="217" height="265" x="603" width="1" fill="url(#g189)"/>
<rect y="217" height="265" x="604" width="2" fill="url(#g190)"/>
<rect y="217" height="265" x="606" width="2" fill="url(#g191)"/>
<rect y="217" height="265" x="608" width="2" fill="url(#g192)"/>
<rect y="217" height="265" x="610" width="2" fill="url(#g193)"/>
<rect y="217" height="265" x="612" width="2" fill="url(#g194)"/>
<rect y="217" height="265" x="614" width="2" fill="url(#g195)"/>
<rect y="217" height="265" x="616" width="2" fill="url(#g196)"/>
<rect y="217" height="265" x="618" width="4" fill="url(#g197)"/>
<rect y="217" height="265" x="622" width="4" fill="url(#g198)"/>
<rect y="217" height="265" x="626" width="4" fill="url(#g199)"/>
<rect y="217" height="265" x="630" width="4" fill="url(#g200)"/>
<rect y="217" height="265" x="634" width="4" fill="url(#g201)"/>
<rect y="217" height="265" x="638" width="4" fill="url(#g202)"/>
<rect y="217" height="265" x="642" width="4" fill="url(#g203)"/>
<rect y="217" height="265" x="646" width="4" fill="url(#g204)"/>
<rect y="217" height="265" x="650" width="4" fill="url(#g205)"/>
<rect y="217" height="265" x="654" width="4" fill="url(#g206)"/>
<rect y="217" height="265" x="658" width="4" fill="url(#g207)"/>
<rect y="217" height="265" x="662" width="4" fill="url(#g208)"/>
<rect y="217" height="265" x="666" width="4" fill="url(#g209)"/>
<rect y="217" height="265" x="670" width="4" fill="url(#g210)"/>
<rect y="217" height="265" x="674" width="4" fill="url(#g211)"/>
<rect y="217" height="265" x="678" width="6" fill="url(#g212)"/>
<rect y="217" height="265" x="684" width="6" fill="url(#g213)"/>
<rect y="217" height="265" x="690" width="6" fill="url(#g214)"/>
<rect y="217" height="265" x="696" width="6" fill="url(#g215)"/>
<rect y="217" height="265" x="702" width="6" fill="url(#g216)"/>
<rect y="217" height="265" x="708" width="6" fill="url(#g217)"/>
<rect y="217" height="265" x="714" width="5" fill="url(#g217)"/>
<rect y="217" height="265" x="719" width="1" fill="url(#g218)"/>
<rect y="217" height="265" x="720" width="2" fill="url(#g117)"/>
<rect y="217" height="265" x="722" width="4" fill="url(#g217)"/>
<rect y="217" height="265" x="726" width="1" fill="url(#g219)"/>
<rect y="217" height="265" x="727" width="1" fill="url(#g220)"/>
<rect y="217" height="265" x="728" width="1" fill="url(#g221)"/>
<rect y="217" height="265" x="729" width="1" fill="url(#g222)"/>
<rect y="217" height="265" x="730" width="1" fill="url(#g223)"/>
<rect y="217" height="265" x="731" width="1" fill="url(#g224)"/>
<rect y="217" height="265" x="732" width="1" fill="url(#g225)"/>
<rect y="217" height="265" x="733" width="4" fill="url(#g226)"/>
<rect y="217" height="265" x="737" width="2" fill="url(#g227)"/>
<rect y="217" height="265" x="739" width="6" fill="url(#g226)"/>
<rect y="217" height="265" x="745" width="4" fill="url(#g226)"/>
<rect y="217" height="265" x="749" width="2" fill="url(#g228)"/>
<rect y="217" height="265" x="751" width="6" fill="url(#g226)"/>
<rect y="217" height="265" x="757" width="1" fill="url(#g229)"/>
<rect y="217" height="265" x="758" width="6" fill="url(#g226)"/>
<rect y="217" height="265" x="764" width="6" fill="url(#g230)"/>
<rect y="217" height="265" x="770" width="2" fill="url(#g231)"/>
<rect y="217" height="265" x="772" width="2" fill="url(#g232)"/>
<rect y="217" height="265" x="774" width="3" fill="url(#g233)"/>
<rect y="217" height="265" x="777" width="3" fill="url(#g234)"/>
<rect y="217" height="265" x="780" width="2" fill="url(#g235)"/>
<rect y="217" height="265" x="782" width="2" fill="url(#g236)"/>
<rect y="217" height="265" x="784" width="6" fill="url(#g237)"/>
<rect y="217" height="265" x="790" width="5" fill="url(#g237)"/>
<rect y="217" height="265" x="795" width="1" fill="url(#g238)"/>
<rect y="217" height="265" x="796" width="1" fill="url(#g239)"/>
<rect y="217" height="265" x="797" width="1" fill="url(#g240)"/>
<rect y="217" height="265" x="798" width="1" fill="url(#g241)"/>
<rect y="217" height="265" x="799" width="4" fill="url(#g242)"/>
<rect y="217" height="265" x="803" width="6" fill="url(#g243)"/>
<rect y="217" height="265" x="809" width="6" fill="url(#g244)"/>
<rect y="217" height="265" x="815" width="1" fill="url(#g245)"/>
<rect y="217" height="265" x="816" width="1" fill="url(#g246)"/>
<rect y="217" height="265" x="817" width="4" fill="url(#g244)"/>
<rect y="217" height="265" x="821" width="2" fill="url(#g247)"/>
<rect y="217" height="265" x="823" width="6" fill="url(#g244)"/>
<rect y="217" height="265" x="829" width="6" fill="url(#g244)"/>
<rect y="217" height="265" x="835" width="6" fill="url(#g244)"/>
<rect y="217" height="265" x="841" width="6" fill="url(#g248)"/>
<rect y="217" height="265" x="847" width="6" fill="url(#g249)"/>
<rect y="217" height="265" x="853" width="1" fill="url(#g250)"/>
<rect y="217" height="265" x="854" width="1" fill="url(#g251)"/>
<rect y="217" height="265" x="855" width="1" fill="url(#g252)"/>
<rect y="217" height="265" x="856" width="1" fill="url(#g253)"/>
<rect y="217" height="265" x="857" width="1" fill="url(#g254)"/>
<rect y="217" height="265" x="858" width="2" fill="url(#g255)"/>
<rect y="217" height="265" x="860" width="1" fill="url(#g256)"/>
<rect y="217" height="265" x="861" width="6" fill="url(#g242)"/>
<rect y="217" height="265" x="867" width="6" fill="url(#g257)"/>
<rect y="217" height="265" x="873" width="6" fill="url(#g258)"/>
<rect y="217" height="265" x="879" width="6" fill="url(#g259)"/>
<rect y="217" height="265" x="885" width="6" fill="url(#g260)"/>
<rect y="217" height="265" x="891" width="6" fill="url(#g261)"/>
<rect y="217" height="265" x="897" width="6" fill="url(#g262)"/>
<rect y="217" height="265" x="903" width="6" fill="url(#g263)"/>
<rect y="217" height="265" x="909" width="1" fill="url(#g264)"/>
<rect y="217" height="265" x="910" width="6" fill="url(#g263)"/>
<rect y="217" height="265" x="916" width="6" fill="url(#g263)"/>
<rect y="217" height="265" x="922" width="5" fill="url(#g263)"/>
<rect y="217" height="265" x="927" width="1" fill="url(#g265)"/>
<rect y="217" height="265" x="928" width="1" fill="url(#g266)"/>
<rect y="217" height="265" x="929" width="1" fill="url(#g267)"/>
<rect y="217" height="265" x="930" width="1" fill="url(#g268)"/>
<rect y="217" height="265" x="931" width="1" fill="url(#g269)"/>
<rect y="217" height="265" x="932" width="1" fill="url(#g270)"/>
<rect y="217" height="265" x="933" width="6" fill="url(#g271)"/>
<rect y="217" height="265" x="939" width="6" fill="url(#g272)"/>
<rect y="217" height="265" x="945" width="6" fill="url(#g273)"/>
<rect y="217" height="265" x="951" width="4" fill="url(#g274)"/>
<rect y="217" height="265" x="955" width="1" fill="url(#g275)"/>
<rect y="217" height="265" x="956" width="1" fill="url(#g276)"/>
<rect y="217" height="265" x="957" width="1" fill="url(#g275)"/>
<rect y="217" height="265" x="958" width="4" fill="url(#g277)"/>
<rect y="217" height="265" x="962" width="1" fill="url(#g278)"/>
<rect y="217" height="265" x="963" width="3" fill="url(#g279)"/>
<rect y="217" height="265" x="966" width="1" fill="url(#g280)"/>
<rect y="217" height="265" x="967" width="1" fill="url(#g281)"/>
<rect y="217" height="265" x="968" width="1" fill="url(#g282)"/>
<rect y="217" height="265" x="969" width="4" fill="url(#g283)"/></g>
<clipPath id="hc"><rect x="135.5" y="60.0" width="836.5" height="137.5"/></clipPath>
<g clip-path="url(#hc)" fill="none" stroke-width="2" stroke-linejoin="miter" stroke-linecap="butt" shape-rendering="crispEdges"><path d="M135.5 97.0H148.0V142.0H156.0V165.0H170.0V97.0H183.0V142.0H187.0V165.0H208.0V187.0H258.0V165.0H295.0V119.0H321.0V165.0H342.0V187.0H424.0V165.0H442.0V119.0H468.0V165.0H504.0V97.0H507.0V165.0H516.0V97.0H527.0V142.0H530.0V165.0H547.0V97.0H551.0V142.0H557.0V165.0H561.0V97.0H563.0V119.0H575.0V165.0H580.0V119.0H582.0V97.0H584.0V119.0H586.0V165.0H592.0V119.0H593.0V97.0H594.0V119.0H606.0V165.0H650.0V187.0H729.0V165.0H735.0V119.0H744.0V97.0H745.0V119.0H796.0V165.0H797.0V119.0H801.0V97.0H802.0V119.0H803.0V165.0H862.0V97.0H864.0V142.0H867.0V165.0H916.0V97.0H917.0V165.0H939.0V119.0H972.0V74.0H972.6" stroke="#000"/>
<path d="M295.0 119.0H321.0M442.0 119.0H468.0M563.0 119.0H575.0M580.0 119.0H582.0M584.0 119.0H586.0M592.0 119.0H593.0M594.0 119.0H606.0M735.0 119.0H744.0M745.0 119.0H796.0M797.0 119.0H801.0M802.0 119.0H803.0M939.0 119.0H972.0" stroke="#ee0000"/></g>
<g stroke="#000" stroke-width="1" fill="none" shape-rendering="crispEdges">
<path d="M135.5 65.0V197.5H972.5"/>
<path d="M131.0 74.5H135.5M131.0 97.5H135.5M131.0 119.5H135.5M131.0 142.5H135.5M131.0 165.5H135.5M131.0 187.5H135.5"/>
<rect x="135.5" y="217.5" width="837.0" height="264.0"/>
<path d="M131.0 217.5H135.5M131.0 271.5H135.5M131.0 324.5H135.5M131.0 378.5H135.5M131.0 432.5H135.5M135.5 481.5v4.5M275.0 481.5v4.5M414.5 481.5v4.5M554.0 481.5v4.5M693.5 481.5v4.5M833.0 481.5v4.5"/>
</g>
<g opacity="0.999">
<text transform="matrix(0.2276 0 0 0.2386 77.88 82.60)">UNS</text>
<text transform="matrix(0.2165 0 0 0.2420 63.08 105.50)">WAKE</text>
<text transform="matrix(0.2194 0 0 0.2386 76.94 128.10)">REM</text>
<text transform="matrix(0.2235 0 0 0.2420 95.01 150.60)">N1</text>
<text transform="matrix(0.2287 0 0 0.2386 94.97 173.20)">N2</text>
<text transform="matrix(0.2287 0 0 0.2386 94.97 195.80)">N3</text>
<text transform="matrix(0 -0.2429 0.2471 0 51.50 165.11)">Stage</text>
<text transform="matrix(0.2500 0 0 0.2414 97.65 225.90)">25</text>
<text transform="matrix(0.2500 0 0 0.2414 97.65 279.90)">20</text>
<text transform="matrix(0.2394 0 0 0.2449 98.28 333.30)">15</text>
<text transform="matrix(0.2475 0 0 0.2414 98.02 386.90)">10</text>
<text transform="matrix(0.2319 0 0 0.2449 112.97 440.70)">5</text>
<text transform="matrix(0 -0.2520 0.2411 0 86.20 433.92)">Frequency [Hz]</text>
<text transform="matrix(0.2375 0 0 0.2400 129.25 506.70)">0</text>
<text transform="matrix(0.2326 0 0 0.2435 268.54 506.70)">1</text>
<text transform="matrix(0.2478 0 0 0.2400 407.96 506.70)">2</text>
<text transform="matrix(0.2426 0 0 0.2400 547.73 506.70)">3</text>
<text transform="matrix(0.2235 0 0 0.2400 687.75 506.70)">4</text>
<text transform="matrix(0.2426 0 0 0.2435 826.73 506.70)">5</text>
<text transform="matrix(0.2639 0 0 0.2452 495.47 534.90)">Time [hrs]</text>
</g>
</svg></body></html>
